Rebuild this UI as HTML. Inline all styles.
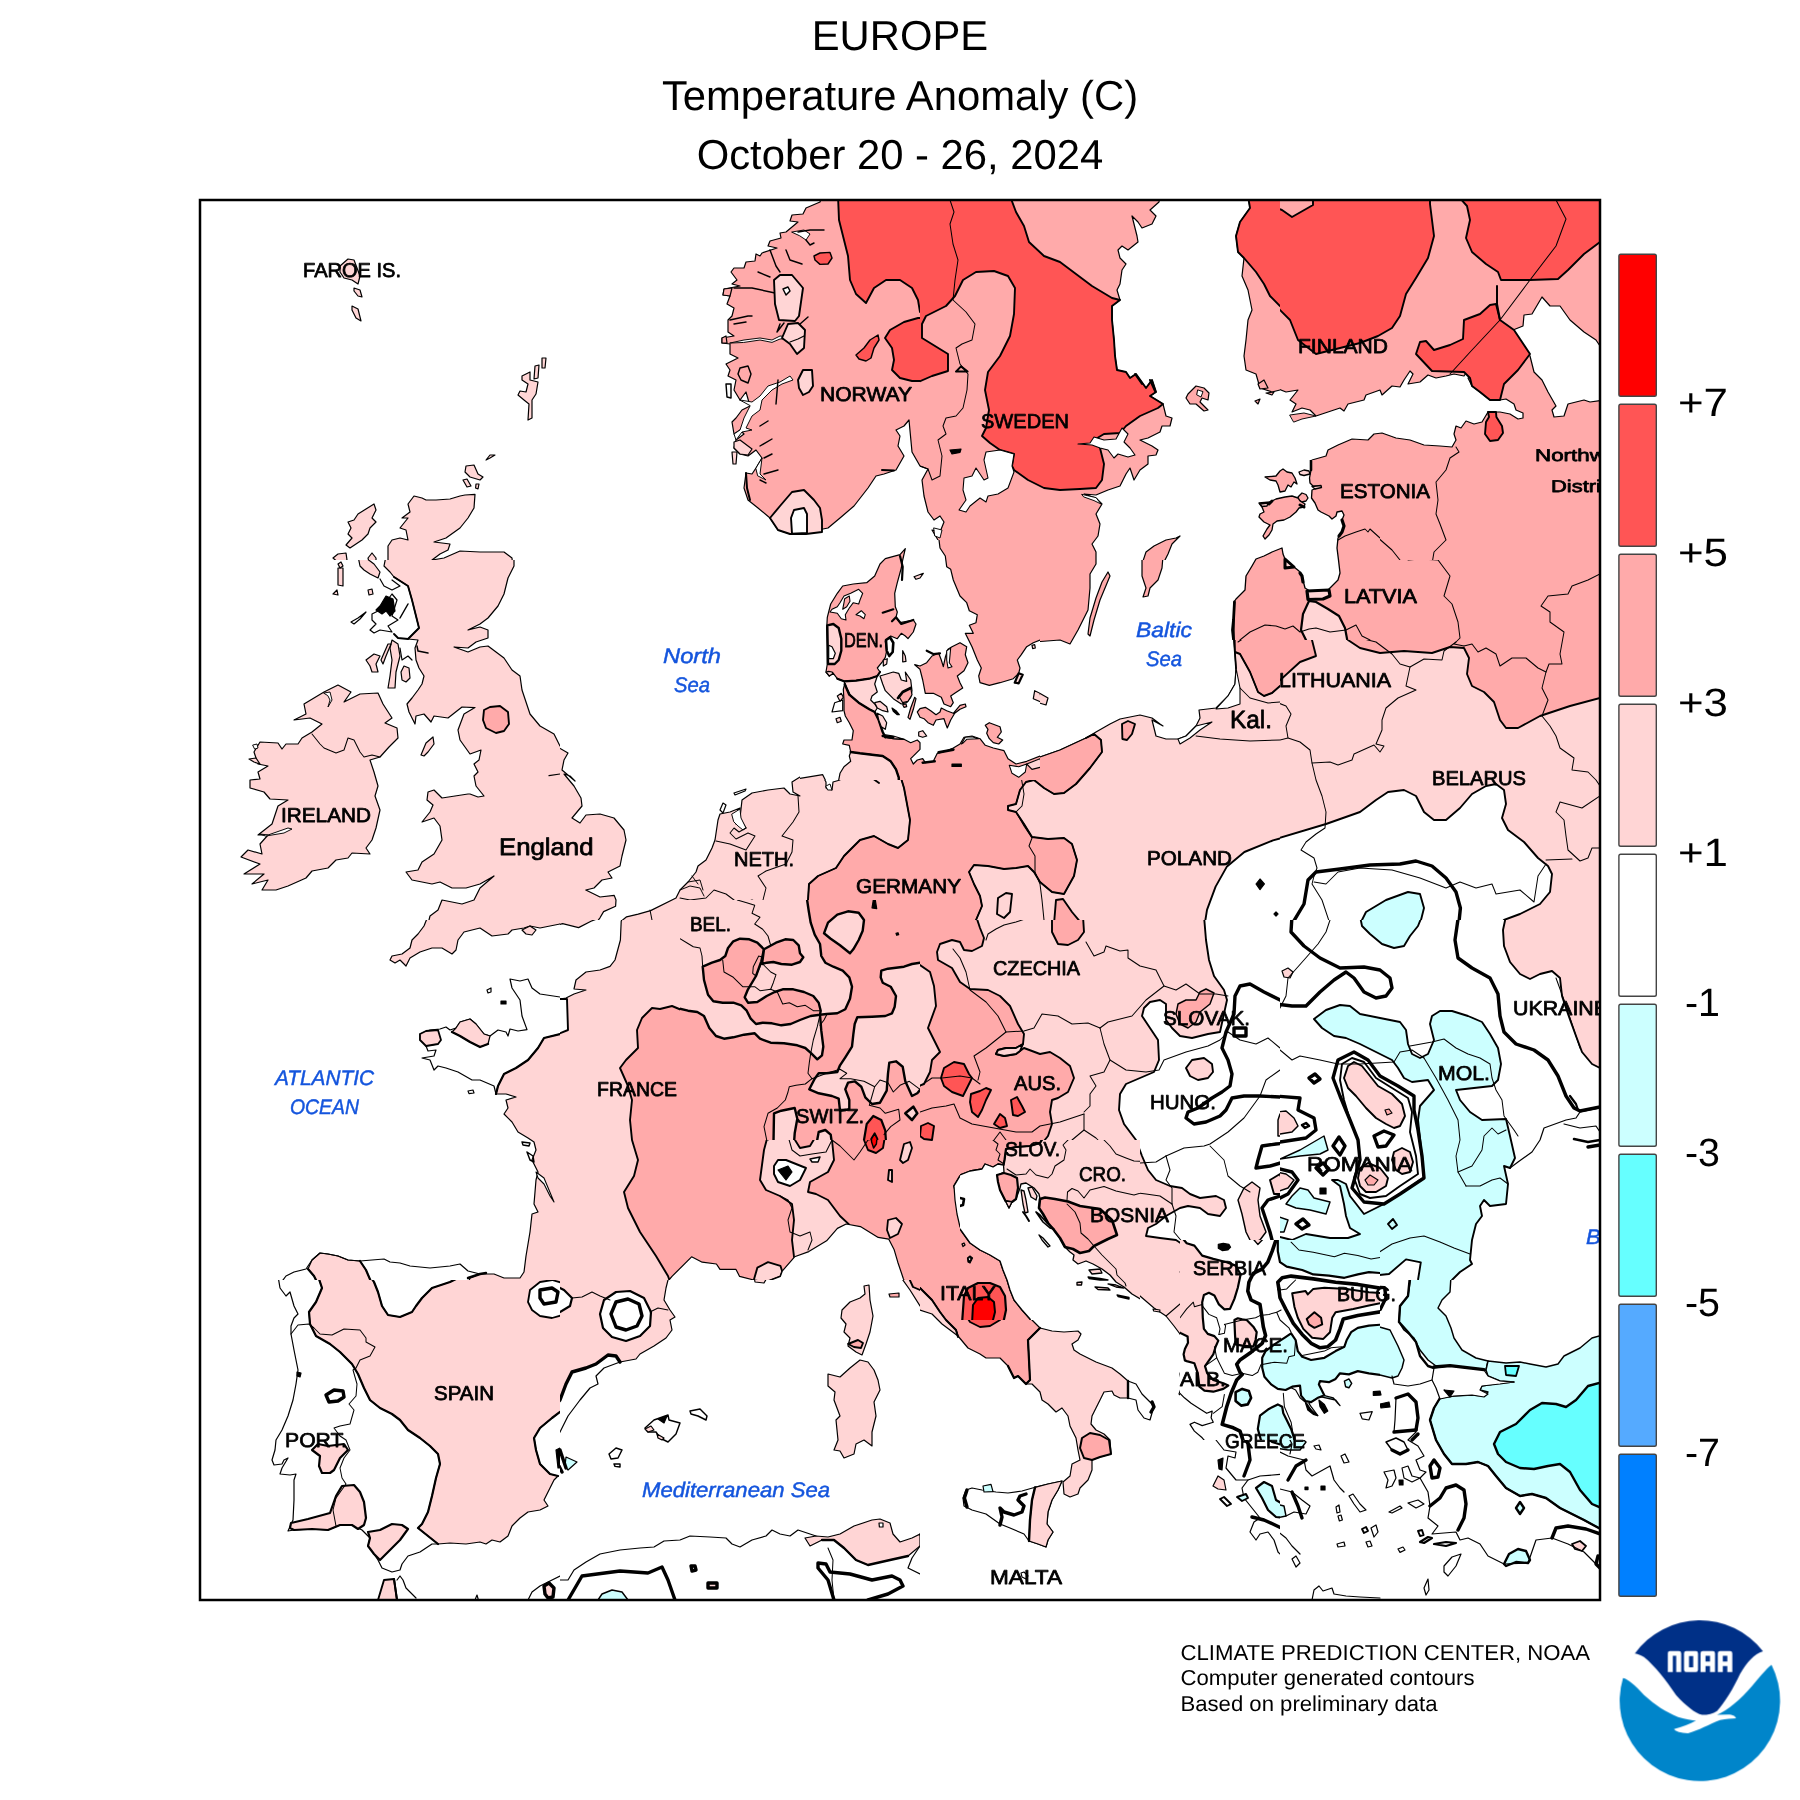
<!DOCTYPE html>
<html><head><meta charset="utf-8"><title>Europe Temperature Anomaly</title>
<style>
html,body{margin:0;padding:0;background:#fff;}
body{width:1800px;height:1800px;overflow:hidden;font-family:"Liberation Sans",sans-serif;}
svg{display:block}
svg text{text-rendering:geometricPrecision}
.t{font-family:"Liberation Sans",sans-serif;fill:#000}
.c{font-family:"Liberation Sans",sans-serif;font-weight:normal;fill:#000;stroke:#000;stroke-width:0.75px;stroke-linejoin:round}
.s{font-family:"Liberation Sans",sans-serif;font-style:italic;font-weight:normal;fill:#1455dd;stroke:#1455dd;stroke-width:0.45px}
.p polygon,.p polyline{stroke-linejoin:round;stroke-linecap:round}
</style></head><body>
<svg xmlns="http://www.w3.org/2000/svg" width="1800" height="1800" viewBox="0 0 1800 1800">
<defs>
<filter id="nf" x="0" y="0" width="100%" height="100%" filterUnits="userSpaceOnUse" color-interpolation-filters="sRGB"><feOffset dx="0" dy="0"/></filter>
<clipPath id="frame"><rect x="200" y="200" width="1400" height="1400"/></clipPath>
<clipPath id="c200_200"><rect x="200" y="200" width="360" height="360"/></clipPath>
<clipPath id="c560_200"><rect x="560" y="200" width="360" height="360"/></clipPath>
<clipPath id="c920_200"><rect x="920" y="200" width="360" height="360"/></clipPath>
<clipPath id="c1280_200"><rect x="1280" y="200" width="360" height="360"/></clipPath>
<clipPath id="c200_560"><rect x="200" y="560" width="360" height="360"/></clipPath>
<clipPath id="c560_560"><rect x="560" y="560" width="360" height="360"/></clipPath>
<clipPath id="c920_560"><rect x="920" y="560" width="360" height="360"/></clipPath>
<clipPath id="c1280_560"><rect x="1280" y="560" width="360" height="360"/></clipPath>
<clipPath id="c200_920"><rect x="200" y="920" width="360" height="360"/></clipPath>
<clipPath id="c560_920"><rect x="560" y="920" width="360" height="360"/></clipPath>
<clipPath id="c920_920"><rect x="920" y="920" width="360" height="360"/></clipPath>
<clipPath id="c1280_920"><rect x="1280" y="920" width="360" height="360"/></clipPath>
<clipPath id="c200_1280"><rect x="200" y="1280" width="360" height="360"/></clipPath>
<clipPath id="c560_1280"><rect x="560" y="1280" width="360" height="360"/></clipPath>
<clipPath id="c920_1280"><rect x="920" y="1280" width="360" height="360"/></clipPath>
<clipPath id="c1280_1280"><rect x="1280" y="1280" width="360" height="360"/></clipPath>
<clipPath id="c800_540"><rect x="800" y="540" width="240" height="240"/></clipPath>
<clipPath id="c680_900"><rect x="680" y="900" width="240" height="240"/></clipPath>
<clipPath id="c1200_460"><rect x="1200" y="460" width="180" height="180"/></clipPath>
<clipPath id="c1180_1240"><rect x="1180" y="1240" width="200" height="200"/></clipPath>
<clipPath id="c960_1140"><rect x="960" y="1140" width="180" height="180"/></clipPath>
</defs>
<rect width="1800" height="1800" fill="#fff"/>
<g filter="url(#nf)"><text class="t" x="900" y="49.7" font-size="41.8" text-anchor="middle">EUROPE</text>
<text class="t" x="900" y="109.8" font-size="41.8" text-anchor="middle">Temperature Anomaly (C)</text>
<text class="t" x="900" y="169" font-size="41.8" text-anchor="middle">October 20 - 26, 2024</text></g>
<g clip-path="url(#frame)" class="p">
<g clip-path="url(#c200_200)">
<polygon points="340.0,266.0 348.0,259.0 354.0,260.0 360.0,276.0 358.0,284.0 352.0,280.0 344.0,278.0 340.0,272.0" fill="#FFD5D5" stroke="#000" stroke-width="1.2"/>
<polygon points="354.0,288.0 360.0,290.0 362.0,297.0 358.0,296.0 354.0,291.0" fill="#FFD5D5" stroke="#000" stroke-width="1.2"/>
<polygon points="352.0,306.0 358.0,309.0 361.0,321.0 356.0,318.0 352.0,310.0" fill="#FFD5D5" stroke="#000" stroke-width="1.2"/>
<polygon points="522.0,376.0 530.0,372.0 530.0,380.0 538.0,382.0 536.0,394.0 532.0,400.0 532.0,418.0 528.0,420.0 529.0,404.0 524.0,400.0 518.0,395.0 520.0,391.0 526.0,392.0 528.0,384.0 522.0,380.0" fill="#FFD5D5" stroke="#000" stroke-width="1.2"/>
<polygon points="535.0,366.0 539.0,365.0 538.0,378.0 534.0,379.0" fill="#FFD5D5" stroke="#000" stroke-width="1.2"/>
<polygon points="542.0,358.0 546.0,358.0 545.0,368.0 542.0,368.0" fill="#FFD5D5" stroke="#000" stroke-width="1.2"/>
<polygon points="466.0,466.0 474.0,465.0 478.0,474.0 483.0,477.0 480.0,480.0 470.0,477.0 465.0,472.0" fill="#FFD5D5" stroke="#000" stroke-width="1.2"/>
<polygon points="463.0,480.0 467.0,479.0 471.0,486.0 467.0,487.0" fill="#FFD5D5" stroke="#000" stroke-width="1.2"/>
<polygon points="476.0,484.0 479.0,484.0 478.0,489.0 475.6,488.0" fill="#FFD5D5" stroke="#000" stroke-width="1.2"/>
<polygon points="486.0,460.0 490.0,455.0 495.0,455.0 490.0,458.0" fill="#FFD5D5" stroke="#000" stroke-width="1.2"/>
<polygon points="348.0,522.0 354.0,520.0 358.0,514.0 366.0,509.0 374.0,504.0 376.0,510.0 372.0,518.0 376.0,522.0 370.0,528.0 368.0,534.0 362.0,540.0 356.0,544.0 350.0,548.0 346.0,545.0 352.0,538.0 348.0,534.0 351.0,528.0" fill="#FFD5D5" stroke="#000" stroke-width="1.2"/>
<polygon points="333.0,558.0 338.0,554.0 346.0,553.0 347.0,560.0 340.0,564.0" fill="#FFD5D5" stroke="#000" stroke-width="1.2"/>
<polygon points="368.0,558.0 372.0,553.0 376.0,558.0 376.0,566.0 370.0,566.0" fill="#FFD5D5" stroke="#000" stroke-width="1.2"/>
<polygon points="388.0,580.0 388.0,546.0 392.0,540.0 400.0,538.0 408.0,540.0 406.0,530.0 400.0,528.0 408.0,518.0 402.0,518.0 410.0,512.0 408.0,504.0 414.0,496.0 422.0,498.0 426.0,500.0 436.0,500.0 450.0,499.0 460.0,496.0 465.0,495.0 475.0,494.4 474.0,508.0 468.0,518.0 460.0,528.0 446.0,538.0 434.0,542.0 450.0,544.0 448.0,550.0 440.0,554.0 432.0,560.0 444.0,558.0 460.0,551.0 480.0,552.0 504.0,552.0 512.0,558.0 514.0,580.0" fill="#FFD5D5" stroke="#000" stroke-width="1.2"/>
</g>
<g clip-path="url(#c560_200)">
<polygon points="822.0,196.0 820.0,202.0 806.0,208.0 803.0,214.0 792.0,215.0 790.0,221.0 798.0,222.0 786.0,232.0 780.0,233.0 781.0,238.0 770.0,241.0 768.0,246.0 777.0,248.0 762.0,253.0 760.0,256.0 756.0,254.0 755.0,261.0 746.0,262.0 744.0,268.0 734.0,268.0 731.0,272.0 737.0,280.0 732.0,284.0 740.0,286.0 724.0,289.0 723.0,295.0 730.0,296.0 727.0,304.0 734.0,308.0 732.0,316.0 728.0,320.0 728.0,332.0 734.0,336.0 722.0,338.0 722.0,343.0 730.0,344.0 730.0,354.0 738.0,358.0 726.0,364.0 730.0,370.0 728.0,376.0 736.0,380.0 734.0,390.0 740.0,400.0 746.0,392.0 750.0,406.0 742.0,410.0 736.0,418.0 732.0,422.0 734.0,434.0 740.0,430.0 744.0,434.0 736.0,440.0 734.0,448.0 740.0,454.0 748.0,456.0 756.0,450.0 762.0,458.0 756.0,468.0 752.0,474.0 746.0,473.0 744.0,488.0 748.0,500.0 758.0,508.0 770.0,518.0 778.0,530.0 790.0,534.0 806.0,533.0 818.0,530.0 828.0,528.0 840.0,518.0 854.0,506.0 868.0,488.0 876.0,476.0 884.0,474.0 896.0,470.0 904.0,456.0 898.0,446.0 900.0,436.0 896.0,430.0 904.0,426.0 909.0,420.0 912.0,452.0 920.0,466.0 940.0,466.0 940.0,196.0" fill="#FFAAAA" stroke="#000" stroke-width="1.2"/>
<polygon points="730.0,343.0 744.0,340.0 760.0,338.0 772.0,340.0 780.0,336.0 800.0,338.0 780.0,339.0 772.0,342.4 760.0,340.0 744.0,342.4" fill="#FFFFFF" stroke="#000" stroke-width="0.96"/>
<polygon points="740.0,400.0 752.0,402.0 760.0,396.0 768.0,386.0 780.0,382.0 790.0,376.0 793.0,380.0 782.0,384.0 772.0,390.0 762.0,400.0 760.0,410.0 752.0,416.0 746.0,428.0 752.0,430.0 742.0,432.0 736.0,440.0 734.0,434.0 740.0,430.0 744.0,418.0 750.0,406.0" fill="#FFFFFF" stroke="#000" stroke-width="0.96"/>
<polygon points="792.0,232.0 804.0,230.0 810.0,234.0 806.0,240.0 800.0,236.0" fill="#FFFFFF" stroke="#000" stroke-width="0.96"/>
<polygon points="756.0,468.0 762.0,458.0 760.0,474.0 766.0,480.0 758.0,476.0" fill="#FFFFFF" stroke="#000" stroke-width="0.96"/>
<polyline points="806.0,240.0 810.0,245.0 814.0,243.0" fill="none" stroke="#000" stroke-width="1.44"/>
<polyline points="798.0,232.0 810.0,230.0 824.0,230.0" fill="none" stroke="#000" stroke-width="1.44"/>
<polyline points="770.0,250.0 776.0,266.0 780.0,272.0" fill="none" stroke="#000" stroke-width="1.44"/>
<polyline points="786.0,250.0 790.0,260.0 802.0,264.0" fill="none" stroke="#000" stroke-width="1.44"/>
<polyline points="758.0,272.0 770.0,277.0" fill="none" stroke="#000" stroke-width="1.44"/>
<polyline points="734.0,288.0 752.0,288.0 775.0,293.0" fill="none" stroke="#000" stroke-width="1.44"/>
<polyline points="734.0,324.0 746.0,322.0" fill="none" stroke="#000" stroke-width="1.44"/>
<polyline points="730.0,320.0 748.0,316.0 752.0,316.0" fill="none" stroke="#000" stroke-width="1.44"/>
<polyline points="778.0,380.0 777.0,392.0 776.0,404.0" fill="none" stroke="#000" stroke-width="1.44"/>
<polyline points="760.0,426.0 768.0,421.0" fill="none" stroke="#000" stroke-width="1.44"/>
<polyline points="760.0,446.0 772.0,439.0" fill="none" stroke="#000" stroke-width="1.44"/>
<polyline points="764.0,458.0 772.0,454.0" fill="none" stroke="#000" stroke-width="1.44"/>
<polyline points="764.0,474.0 778.0,470.0" fill="none" stroke="#000" stroke-width="1.44"/>
<polyline points="760.0,480.0 766.0,483.0" fill="none" stroke="#000" stroke-width="1.44"/>
<polyline points="800.0,324.0 808.0,317.0" fill="none" stroke="#000" stroke-width="1.44"/>
<polyline points="780.0,324.0 777.0,332.0 784.0,323.0" fill="none" stroke="#000" stroke-width="1.44"/>
<polyline points="746.0,473.0 747.0,488.0 750.0,500.0" fill="none" stroke="#000" stroke-width="2"/>
<polyline points="882.0,470.0 894.0,470.4" fill="none" stroke="#000" stroke-width="2"/>
<polygon points="838.0,196.0 839.0,220.0 842.0,232.0 848.0,256.0 850.0,280.0 856.0,294.0 866.0,303.0 874.0,288.0 886.0,280.0 900.0,280.0 912.0,288.0 918.0,300.0 920.0,312.0 940.0,312.0 940.0,196.0" fill="#FF5555" stroke="#000" stroke-width="1.9"/>
<polygon points="940.0,318.0 918.0,318.0 904.0,322.0 890.0,330.0 885.0,338.0 892.0,348.0 894.0,360.0 892.0,370.0 900.0,378.0 912.0,381.0 940.0,381.0" fill="#FF5555" stroke="#000" stroke-width="1.9"/>
<polygon points="814.0,256.0 820.0,253.0 830.0,252.4 832.0,258.0 828.0,264.0 820.0,264.4 815.0,260.0" fill="#FF5555" stroke="#000" stroke-width="1.44"/>
<polygon points="856.0,355.0 864.0,348.0 870.0,340.0 878.0,335.0 879.0,340.0 874.0,348.0 871.0,358.0 866.0,361.0 859.0,359.0" fill="#FF5555" stroke="#000" stroke-width="1.44"/>
<polygon points="774.0,280.0 780.0,275.0 792.0,275.0 803.0,288.0 799.0,316.0 795.0,321.0 779.0,320.0 775.0,304.0" fill="#FFD5D5" stroke="#000" stroke-width="1.9"/>
<polygon points="783.0,289.0 788.0,287.0 790.0,291.0 786.0,295.0" fill="#FFFFFF" stroke="#000" stroke-width="1.44"/>
<polygon points="788.0,324.0 798.0,323.0 805.0,330.0 804.0,348.0 797.0,354.0 790.0,344.0 782.0,338.0" fill="#FFD5D5" stroke="#000" stroke-width="1.9"/>
<polyline points="790.0,342.0 798.0,339.0 804.0,336.0" fill="none" stroke="#000" stroke-width="1.2"/>
<polygon points="798.0,380.0 803.0,370.0 812.0,370.0 813.0,386.0 809.0,392.0 803.0,395.0 799.0,388.0" fill="#FFD5D5" stroke="#000" stroke-width="1.9"/>
<polygon points="770.0,518.0 780.0,506.0 792.0,492.0 804.0,490.0 814.0,500.0 820.0,508.0 822.0,520.0 822.0,532.0 806.0,534.0 790.0,534.0 778.0,530.0" fill="#FFD5D5" stroke="#000" stroke-width="1.9"/>
<polygon points="791.0,518.0 794.0,510.0 804.0,508.0 807.0,514.0 807.0,533.0 792.0,533.6" fill="#FFFFFF" stroke="#000" stroke-width="1.9"/>
<polygon points="734.0,442.0 740.0,440.0 752.0,449.0 748.0,455.0 740.0,454.0 734.0,448.0" fill="#FFD5D5" stroke="#000" stroke-width="1.2"/>
<polygon points="732.0,452.0 737.0,452.0 736.0,464.0 733.0,464.0" fill="#FFD5D5" stroke="#000" stroke-width="1.2"/>
<polygon points="740.0,368.0 748.0,366.0 751.0,374.0 748.0,383.0 741.0,380.0 738.0,374.0" fill="#FFAAAA" stroke="#000" stroke-width="1.44"/>
<polygon points="724.0,289.0 732.0,288.0 730.0,296.0 723.0,295.0" fill="#FFAAAA" stroke="#000" stroke-width="1.2"/>
<polygon points="722.0,338.0 726.0,336.0 727.0,343.0 722.0,343.0" fill="#FFAAAA" stroke="#000" stroke-width="1.2"/>
<polygon points="726.0,384.0 731.0,384.0 731.0,398.0 727.0,397.0" fill="#FFFFFF" stroke="#000" stroke-width="1.44"/>
<polygon points="884.0,560.0 896.0,556.0 905.0,549.0 900.0,558.0 898.0,566.0 884.0,566.0" fill="#FFAAAA" stroke="#000" stroke-width="1.2"/>
</g>
<g clip-path="url(#c920_200)">
<polygon points="1160.0,196.0 1159.0,202.0 1150.0,210.0 1156.0,216.0 1152.0,224.0 1142.0,228.0 1138.0,222.0 1132.0,216.0 1137.0,236.0 1138.0,242.0 1128.0,250.0 1122.0,246.0 1118.0,250.0 1120.0,258.0 1126.0,264.0 1122.0,270.0 1120.0,284.0 1117.0,290.0 1120.0,300.0 1112.0,306.0 1112.0,320.0 1114.0,340.0 1115.0,356.0 1117.0,370.0 1126.0,372.0 1130.0,378.0 1136.0,374.0 1146.0,388.0 1152.0,380.0 1156.0,392.0 1150.0,396.0 1163.0,404.0 1166.0,416.0 1172.0,418.0 1170.0,426.0 1162.0,426.0 1160.0,432.0 1148.0,438.0 1140.0,440.0 1152.0,446.0 1158.0,450.0 1156.0,455.0 1148.0,456.0 1148.0,464.0 1140.0,470.0 1134.0,480.0 1130.0,468.0 1126.0,474.0 1120.0,486.0 1108.0,490.0 1096.0,495.0 1084.0,494.0 1096.0,498.0 1102.0,504.0 1096.0,514.0 1100.0,524.0 1098.0,536.0 1092.0,544.0 1096.0,552.0 1096.0,564.0 946.0,564.0 946.0,560.0 940.0,552.0 938.0,540.0 932.0,530.0 940.0,532.0 944.0,522.0 940.0,516.0 934.0,520.0 928.0,512.0 924.0,496.0 922.0,480.0 928.0,469.0 920.0,466.0 916.0,466.0 916.0,196.0" fill="#FFAAAA" stroke="#000" stroke-width="1.2"/>
<polygon points="1010.0,196.0 1016.0,212.0 1024.0,226.0 1029.0,242.0 1044.0,256.0 1060.0,262.0 1076.0,274.0 1092.0,286.0 1112.0,298.0 1120.0,300.0 1112.0,306.0 1112.0,320.0 1114.0,340.0 1115.0,356.0 1117.0,370.0 1126.0,372.0 1130.0,378.0 1136.0,374.0 1146.0,388.0 1152.0,380.0 1156.0,392.0 1150.0,396.0 1163.0,404.0 1158.0,408.0 1140.0,416.0 1126.0,426.0 1120.0,433.0 1104.0,434.0 1094.0,440.0 1100.0,448.0 1104.0,464.0 1102.0,480.0 1096.0,488.0 1080.0,489.0 1060.0,490.0 1044.0,488.0 1028.0,480.0 1014.0,470.0 1012.0,466.0 1014.0,454.0 1000.0,450.0 990.0,443.0 982.0,436.0 986.0,428.0 989.0,410.0 985.0,390.0 988.0,372.0 1000.0,356.0 1010.0,336.0 1014.0,314.0 1015.0,288.0 1008.0,276.0 994.0,271.0 976.0,272.0 963.0,280.0 955.0,296.0 946.0,306.0 926.0,316.0 922.0,324.0 922.0,338.0 948.0,354.0 948.0,371.0 932.0,376.0 916.0,383.0 916.0,196.0" fill="#FF5555" stroke="#000" stroke-width="1.9"/>
<polygon points="1078.0,444.0 1090.0,443.0 1094.0,437.0 1104.0,440.0 1116.0,439.0 1122.0,428.0 1128.0,434.0 1124.0,442.0 1130.0,448.0 1135.0,455.0 1128.0,457.0 1118.0,454.0 1114.0,458.0 1108.0,450.0 1100.0,448.0 1092.0,445.0" fill="#FFFFFF" stroke="#000" stroke-width="1.08"/>
<polygon points="986.0,452.0 1000.0,450.0 1014.0,454.0 1012.0,466.0 1014.0,472.0 1008.0,488.0 998.0,494.0 988.0,496.0 986.0,502.0 980.0,498.0 970.0,506.0 966.0,512.0 959.0,510.0 966.0,500.0 963.0,490.0 964.0,478.0 972.0,476.0 976.0,468.0 984.0,480.0 988.0,478.0 984.0,460.0" fill="#FFFFFF" stroke="#000" stroke-width="1.08"/>
<polygon points="1082.0,494.4 1096.0,497.6 1101.0,504.0 1094.0,500.6 1084.0,497.0" fill="#FFFFFF" stroke="#000" stroke-width="0.96"/>
<polygon points="934.0,528.0 942.0,530.0 940.0,538.0 935.0,536.0" fill="#FFFFFF" stroke="#000" stroke-width="0.96"/>
<polygon points="1248.0,196.0 1250.0,208.0 1240.0,222.0 1236.0,236.0 1238.0,252.0 1244.0,258.0 1242.0,276.0 1248.0,290.0 1252.0,310.0 1248.0,320.0 1246.0,340.0 1244.0,356.0 1246.0,370.0 1256.0,374.0 1260.0,388.0 1272.0,392.0 1280.0,390.0 1300.0,390.0 1300.0,196.0" fill="#FFAAAA" stroke="#000" stroke-width="1.2"/>
<polygon points="1248.0,196.0 1250.0,208.0 1240.0,222.0 1236.0,236.0 1238.0,252.0 1244.0,258.0 1256.0,272.0 1264.0,284.0 1270.0,296.0 1280.0,306.0 1300.0,320.0 1300.0,196.0" fill="#FF5555" stroke="#000" stroke-width="1.9"/>
<polygon points="1188.0,394.0 1196.0,386.0 1204.0,388.0 1209.0,393.0 1208.0,400.0 1202.0,398.0 1200.0,402.0 1208.0,410.0 1204.0,411.0 1196.0,404.0 1190.0,404.0 1186.0,398.0" fill="#FFAAAA" stroke="#000" stroke-width="1.2"/>
<polygon points="1198.0,390.0 1203.0,391.6 1201.0,397.0 1197.0,395.0" fill="#FFFFFF" stroke="#000" stroke-width="0.96"/>
<polygon points="1258.0,384.0 1264.0,380.0 1268.0,388.0 1260.0,389.0" fill="#FFAAAA" stroke="#000" stroke-width="1.2"/>
<polygon points="1266.0,393.0 1274.0,392.0 1272.0,395.0" fill="#FFAAAA" stroke="#000" stroke-width="1.2"/>
<polygon points="1255.0,401.0 1260.0,399.0 1258.0,404.0" fill="#FFAAAA" stroke="#000" stroke-width="1.2"/>
<polygon points="1280.0,496.0 1272.0,500.0 1268.0,506.0 1260.0,504.0 1264.0,512.0 1260.0,518.0 1268.0,524.0 1272.0,528.0 1268.0,536.0 1264.0,540.0 1268.0,544.0 1276.0,528.0 1284.0,520.0 1300.0,520.0 1300.0,496.0" fill="#FFAAAA" stroke="#000" stroke-width="1.2"/>
<polygon points="1266.0,478.0 1280.0,476.0 1284.0,484.0 1276.0,482.0" fill="#FFAAAA" stroke="#000" stroke-width="1.2"/>
<polygon points="1142.0,564.0 1146.0,552.0 1154.0,546.0 1166.0,540.0 1176.0,538.0 1180.0,536.0 1172.0,544.0 1168.0,554.0 1163.0,564.0" fill="#FFAAAA" stroke="#000" stroke-width="1.2"/>
<polygon points="1256.0,564.0 1264.0,558.0 1280.0,550.0 1300.0,550.0 1300.0,564.0" fill="#FFAAAA" stroke="#000" stroke-width="1.2"/>
<polyline points="950.0,200.0 954.0,212.0 950.0,224.0 953.0,244.0 958.0,260.0 955.0,280.0 953.0,300.0 966.0,312.0 975.0,324.0 972.0,340.0 962.0,344.0 956.0,348.0 960.0,364.0 968.0,374.0 967.0,390.0 963.0,408.0 956.0,416.0 946.0,418.0 943.0,426.0 946.0,434.0 938.0,440.0 942.0,456.0 940.0,476.0 932.0,480.0 928.0,469.0 920.0,466.0" fill="none" stroke="#000" stroke-width="1.02"/>
<polyline points="956.0,371.6 961.0,366.4 967.6,371.6 956.0,371.6" fill="none" stroke="#000" stroke-width="2"/>
<polygon points="950.0,450.0 961.0,449.0 960.0,452.4 952.0,454.0" fill="#000" stroke="#000" stroke-width="1.2"/>
<polyline points="1135.0,374.0 1142.0,384.0" fill="none" stroke="#000" stroke-width="2"/>
<polyline points="1150.0,380.0 1155.0,391.0" fill="none" stroke="#000" stroke-width="2"/>
</g>
<g clip-path="url(#c1280_200)">
<rect x="1279" y="199" width="362" height="362" fill="#FFAAAA"/>
<polygon points="1276.0,388.0 1286.0,392.0 1298.0,390.0 1290.0,400.0 1296.0,404.0 1292.0,412.0 1302.0,408.0 1310.0,410.0 1316.0,416.0 1340.0,408.0 1344.0,411.0 1348.0,404.0 1364.0,400.0 1366.0,395.0 1380.0,390.0 1382.0,395.0 1392.0,386.0 1400.0,387.0 1404.0,380.0 1410.0,371.0 1413.0,374.0 1408.0,384.0 1420.0,382.0 1428.0,375.0 1436.0,378.0 1446.0,376.0 1454.0,374.0 1464.0,376.0 1468.0,370.0 1476.0,366.0 1474.0,376.0 1468.0,378.0 1472.0,386.0 1480.0,392.0 1490.0,400.0 1500.0,400.0 1506.0,399.0 1514.0,404.0 1516.0,410.0 1523.0,413.0 1523.0,418.0 1518.0,419.0 1510.0,414.0 1500.0,412.0 1488.0,412.0 1482.0,422.0 1474.0,424.0 1466.0,421.0 1461.0,428.0 1456.0,426.0 1454.0,434.0 1456.0,440.0 1452.0,447.0 1440.0,446.0 1424.0,445.0 1410.0,440.0 1396.0,438.0 1382.0,433.0 1374.0,434.0 1368.0,440.0 1352.0,439.0 1338.0,445.0 1328.0,450.0 1326.0,456.0 1312.0,460.0 1311.0,484.0 1322.0,486.0 1312.0,490.0 1314.0,504.0 1320.0,512.0 1336.0,514.0 1340.0,511.0 1344.0,520.0 1340.0,536.0 1337.0,548.0 1338.0,564.0 1276.0,564.0" fill="#FFFFFF" stroke="#000" stroke-width="1.2"/>
<polygon points="1276.0,468.0 1288.0,470.0 1296.0,480.0 1292.0,486.0 1284.0,482.0 1276.0,484.0" fill="#FFAAAA" stroke="#000" stroke-width="1.2"/>
<polygon points="1276.0,496.0 1300.0,494.0 1308.0,500.0 1302.0,506.0 1306.0,514.0 1292.0,508.0 1276.0,518.0" fill="#FFAAAA" stroke="#000" stroke-width="1.2"/>
<polygon points="1300.0,472.0 1310.0,471.0 1312.0,475.0 1302.0,476.0" fill="#FFAAAA" stroke="#000" stroke-width="0.96"/>
<polygon points="1290.0,415.0 1304.0,413.0 1316.0,416.0 1302.0,419.0 1294.0,422.0" fill="#FFAAAA" stroke="#000" stroke-width="0.96"/>
<polygon points="1513.0,330.0 1523.0,326.0 1524.0,315.0 1532.0,314.0 1542.0,297.0 1550.0,306.0 1560.0,306.0 1570.0,320.0 1584.0,332.0 1596.0,340.0 1604.0,352.0 1604.0,400.0 1590.0,402.0 1584.0,400.0 1568.0,404.0 1564.0,416.0 1554.0,417.0 1552.0,410.0 1556.0,406.0 1548.0,392.0 1542.0,380.0 1534.0,372.0 1530.0,356.0 1523.0,344.0" fill="#FFFFFF" stroke="#000" stroke-width="1.2"/>
<polygon points="1276.0,208.0 1282.0,210.0 1292.0,217.0 1313.0,205.0 1313.0,196.0 1430.0,196.0 1430.0,204.0 1434.0,236.0 1428.0,258.0 1416.0,278.0 1406.0,294.0 1400.0,316.0 1392.0,328.0 1378.0,336.0 1360.0,343.0 1340.0,348.0 1316.0,354.0 1298.0,340.0 1290.0,320.0 1276.0,306.0" fill="#FF5555" stroke="#000" stroke-width="1.9"/>
<polygon points="1458.0,196.0 1467.0,206.0 1470.0,220.0 1466.0,238.0 1472.0,252.0 1486.0,264.0 1498.0,272.0 1501.0,280.0 1530.0,280.0 1558.0,279.0 1568.0,270.0 1584.0,254.0 1600.0,242.0 1620.0,242.0 1620.0,196.0" fill="#FF5555" stroke="#000" stroke-width="1.9"/>
<polygon points="1420.0,342.0 1426.0,341.0 1434.0,350.0 1450.0,345.0 1463.0,339.0 1464.0,320.0 1480.0,314.0 1490.0,305.0 1496.0,304.0 1500.0,320.0 1514.0,330.0 1530.0,354.0 1518.0,370.0 1504.0,384.0 1500.0,400.0 1490.0,400.0 1480.0,392.0 1472.0,386.0 1470.0,378.0 1464.0,372.0 1432.0,371.0 1416.0,354.0" fill="#FF5555" stroke="#000" stroke-width="1.9"/>
<polygon points="1488.0,412.0 1496.0,412.0 1496.4,417.0 1502.0,426.0 1503.0,433.0 1498.0,440.0 1490.0,441.0 1485.0,434.0 1486.0,422.0 1489.0,417.0" fill="#FF5555" stroke="#000" stroke-width="1.9"/>
<polyline points="1497.0,286.0 1497.0,304.0 1500.0,320.0" fill="none" stroke="#000" stroke-width="2"/>
<polyline points="1556.0,200.0 1566.0,219.0 1556.0,246.0 1530.0,280.0 1500.0,320.0 1472.0,350.0 1450.0,374.0" fill="none" stroke="#000" stroke-width="1.02"/>
<polyline points="1456.0,447.0 1459.0,452.0 1450.0,458.0 1446.0,470.0 1436.0,482.0 1438.0,500.0 1436.0,514.0 1440.0,524.0 1446.0,540.0 1434.0,552.0 1432.0,564.0" fill="none" stroke="#000" stroke-width="1.02"/>
<polyline points="1338.0,540.0 1350.0,536.0 1366.0,530.0 1376.0,536.0 1392.0,550.0 1400.0,560.0" fill="none" stroke="#000" stroke-width="1.02"/>
</g>
<g clip-path="url(#c200_560)">
<polygon points="294.0,720.0 306.0,714.0 304.0,704.0 324.0,692.0 338.0,685.0 351.0,692.0 344.0,702.0 360.0,694.0 378.0,693.0 383.0,704.0 392.0,718.0 385.0,723.0 397.0,728.0 398.0,738.0 389.0,747.0 380.0,757.0 370.0,760.0 374.0,772.0 378.0,786.0 375.0,796.0 380.0,810.0 376.0,828.0 372.0,840.0 366.0,848.0 370.0,854.0 352.0,853.0 348.0,858.0 336.0,860.0 328.0,868.0 312.0,871.0 306.0,878.0 288.0,886.0 276.0,890.0 262.0,890.0 268.0,880.0 252.0,884.0 264.0,874.0 244.0,874.0 260.0,864.0 241.0,857.0 248.0,850.0 262.0,854.0 260.0,844.0 268.0,835.0 258.0,835.0 272.0,824.0 278.0,806.0 288.0,800.0 270.0,799.0 264.0,792.0 250.0,788.0 250.0,780.0 260.0,779.0 258.0,772.0 268.0,766.0 258.0,764.0 254.0,752.0 260.0,742.0 278.0,743.0 282.0,749.0 286.0,744.0 298.0,744.0 302.0,738.0 312.0,732.0 322.0,724.0 310.0,718.0" fill="#FFD5D5" stroke="#000" stroke-width="1.2"/>
<polygon points="324.0,693.0 330.0,692.0 332.0,700.0 328.0,707.0 330.0,700.0 328.0,696.0" fill="#FFFFFF" stroke="#000" stroke-width="0.96"/>
<polygon points="260.0,834.0 268.0,835.0 288.0,828.0 292.0,829.0 284.0,833.0 266.0,836.0" fill="#FFFFFF" stroke="#000" stroke-width="0.96"/>
<polyline points="312.0,734.0 320.0,744.0 324.0,748.0 336.0,753.0 344.0,750.0 348.0,738.0 354.0,740.0 360.0,752.0 364.0,757.0 372.0,755.0 380.0,757.0" fill="none" stroke="#000" stroke-width="1.02"/>
<polygon points="386.0,556.0 384.0,566.0 390.0,572.0 394.0,577.0 408.0,586.0 412.0,600.0 419.0,628.0 408.0,639.0 418.0,640.0 415.0,648.0 416.0,660.0 419.0,668.0 424.0,676.0 422.0,684.0 418.0,690.0 412.0,698.0 407.0,704.0 409.0,712.0 415.0,724.0 416.0,716.0 424.0,714.0 431.0,722.0 434.0,716.0 448.0,718.0 462.0,707.0 475.0,707.6 464.0,714.0 458.0,730.0 460.0,740.0 470.0,754.0 481.0,750.0 479.0,760.0 474.0,764.0 478.0,772.0 474.0,776.0 476.0,786.0 484.0,796.0 478.0,797.0 470.0,794.0 468.0,794.0 442.0,798.0 434.0,790.0 428.0,792.0 427.0,800.0 433.0,805.0 430.0,812.0 422.0,822.0 434.0,818.0 440.0,826.0 442.0,840.0 434.0,854.0 422.0,862.0 418.0,870.0 406.0,872.0 412.0,880.0 432.0,884.0 440.0,882.0 452.0,888.0 466.0,888.0 480.0,884.0 494.0,876.0 480.0,888.0 474.0,900.0 462.0,904.0 442.0,900.0 438.0,910.0 430.0,916.0 428.0,924.0 580.0,924.0 580.0,752.0 560.0,746.0 554.0,734.0 540.0,726.0 530.0,714.0 522.0,690.0 520.0,676.0 512.0,670.0 504.0,658.0 488.0,646.0 480.0,647.0 468.0,652.0 454.0,647.0 468.0,648.0 476.0,642.0 488.0,638.0 488.0,630.0 480.0,627.0 468.0,630.0 480.0,624.0 488.0,618.0 498.0,606.0 504.0,594.0 508.0,578.0 514.0,566.0 514.0,556.0" fill="#FFD5D5" stroke="#000" stroke-width="1.2"/>
<polyline points="394.0,577.0 408.0,586.0 412.0,600.0 419.0,628.0 408.0,639.0 398.0,638.0 394.0,634.0" fill="none" stroke="#000" stroke-width="1.9"/>
<polygon points="392.0,640.0 398.0,644.0 400.0,656.0 396.0,672.0 395.0,688.0 388.0,688.0 390.0,676.0 392.0,660.0 390.0,648.0" fill="#FFD5D5" stroke="#000" stroke-width="1.2"/>
<polygon points="366.0,660.0 374.0,654.0 380.0,656.0 376.0,664.0 378.0,672.0 372.0,672.0 370.0,666.0" fill="#FFD5D5" stroke="#000" stroke-width="1.2"/>
<polygon points="381.0,660.0 388.0,644.0 391.0,644.0 386.0,656.0 383.0,664.0" fill="#FFD5D5" stroke="#000" stroke-width="1.2"/>
<polygon points="401.0,672.0 404.0,666.0 409.0,668.0 410.0,678.0 406.0,682.0 402.0,680.0" fill="#FFD5D5" stroke="#000" stroke-width="1.2"/>
<polygon points="421.0,755.0 426.0,743.0 433.0,737.0 434.0,744.0 428.0,752.0 424.0,756.0" fill="#FFD5D5" stroke="#000" stroke-width="1.2"/>
<polygon points="358.0,556.0 366.0,558.0 374.0,564.0 380.0,572.0 378.0,578.0 370.0,574.0 364.0,570.0 360.0,566.0" fill="#FFD5D5" stroke="#000" stroke-width="1.2"/>
<polygon points="338.0,568.0 343.0,568.0 343.0,586.0 338.0,585.0" fill="#FFD5D5" stroke="#000" stroke-width="1.2"/>
<polygon points="338.0,564.0 341.0,562.0 343.0,566.0 340.0,568.0" fill="#FFD5D5" stroke="#000" stroke-width="1.2"/>
<polygon points="333.0,594.0 337.0,590.0 338.0,595.0" fill="#FFD5D5" stroke="#000" stroke-width="1.2"/>
<polygon points="368.0,590.0 372.0,589.0 373.0,594.0 369.0,595.0" fill="#FFD5D5" stroke="#000" stroke-width="1.2"/>
<polygon points="351.0,622.0 358.0,618.0 366.0,612.0 360.0,619.0 354.0,624.0" fill="#FFFFFF" stroke="#000" stroke-width="1.2"/>
<polygon points="372.0,614.0 380.0,610.0 392.0,594.0 397.0,600.0 392.0,616.0 398.0,620.0 388.0,626.0 392.0,632.0 380.0,630.0 374.0,633.0 370.0,630.0 376.0,624.0 372.0,620.0" fill="#FFFFFF" stroke="#000" stroke-width="1.2"/>
<polygon points="380.0,606.0 386.0,596.0 393.0,599.0 395.0,611.0 390.0,616.0 386.0,611.0 382.0,614.0 376.0,610.0" fill="#000" stroke="#000" stroke-width="1.2"/>
<polyline points="380.0,579.0 384.0,586.0 392.0,590.0 400.0,586.0 392.0,580.0" fill="none" stroke="#000" stroke-width="1.2"/>
<polyline points="400.0,618.0 408.0,604.0" fill="none" stroke="#000" stroke-width="1.5"/>
<polyline points="400.0,648.0 402.0,660.0 408.0,656.0 412.0,660.0" fill="none" stroke="#000" stroke-width="1.2"/>
<polyline points="417.0,646.0 418.0,651.0 428.0,653.0" fill="none" stroke="#000" stroke-width="1.44"/>
<polygon points="484.0,710.0 490.0,707.0 500.0,706.0 508.0,712.0 509.0,724.0 504.0,731.0 496.0,733.0 486.0,728.0 483.0,720.0" fill="#FFAAAA" stroke="#000" stroke-width="1.9"/>
<polyline points="549.0,775.6 560.0,774.0" fill="none" stroke="#000" stroke-width="1.2"/>
<polygon points="253.0,745.0 257.0,744.0 258.0,748.0 255.0,749.0" fill="#FFFFFF" stroke="#000" stroke-width="0.96"/>
<polygon points="249.0,759.0 256.0,758.0 260.0,764.0 254.0,762.0" fill="#FFD5D5" stroke="#000" stroke-width="1.2"/>
</g>
<g clip-path="url(#c560_560)">
<polygon points="556.0,746.0 568.0,753.0 564.0,760.0 562.0,770.0 575.0,781.0 570.0,776.0 564.0,774.0 574.0,786.0 581.0,798.0 582.0,806.0 572.0,818.0 580.0,823.0 586.0,815.0 600.0,814.0 614.0,818.0 624.0,830.0 626.0,840.0 622.0,856.0 620.0,866.0 608.0,872.0 612.0,878.0 602.0,880.0 594.0,888.0 585.8,890.0 600.0,897.0 614.2,895.4 616.0,900.0 615.6,906.2 603.6,911.6 600.0,917.8 594.0,926.0 556.0,926.0" fill="#FFD5D5" stroke="#000" stroke-width="1.2"/>
<polygon points="620.0,926.0 621.2,921.2 626.6,916.8 638.2,914.2 650.6,910.6 676.0,898.0 680.0,890.0 688.0,882.0 696.0,872.0 698.0,866.0 706.0,860.0 712.0,848.0 715.0,840.0 718.0,820.0 720.0,814.0 730.0,812.0 740.0,808.0 734.0,816.0 736.0,824.0 746.0,828.0 740.0,818.0 742.0,800.0 752.0,793.0 768.0,790.0 784.0,788.0 790.0,794.0 800.0,796.0 793.0,792.0 792.0,782.0 800.0,777.0 812.0,775.0 822.0,775.0 826.0,782.0 826.0,788.0 832.0,790.0 833.0,782.0 840.0,780.0 838.0,772.0 844.0,766.0 854.0,768.0 850.0,760.0 850.0,758.0 856.0,752.0 848.0,746.0 843.0,742.0 844.0,738.0 852.0,736.0 851.0,728.0 846.0,722.0 843.0,712.0 844.0,700.0 843.0,688.0 844.0,682.0 836.0,680.0 830.0,676.0 827.0,672.0 829.0,652.0 827.0,640.0 828.0,618.0 836.0,596.0 842.0,586.0 856.0,584.0 872.0,576.0 884.0,560.0 900.0,556.0 902.0,568.0 898.0,582.0 896.0,594.0 896.0,608.0 890.0,612.0 898.0,616.0 898.0,624.0 916.0,622.0 912.0,628.0 904.0,634.0 896.0,636.0 892.0,644.0 888.0,660.0 878.0,670.0 876.0,674.0 880.0,678.0 874.0,684.0 876.0,692.0 872.0,704.0 875.0,712.0 884.0,720.0 888.0,730.0 900.0,736.0 920.0,740.0 920.0,752.0 912.0,758.0 916.0,762.0 920.0,760.0 940.0,760.0 940.0,924.0" fill="#FFD5D5" stroke="#000" stroke-width="1.2"/>
<polygon points="827.0,672.0 829.0,652.0 827.0,640.0 828.0,618.0 836.0,596.0 842.0,586.0 856.0,584.0 872.0,576.0 884.0,560.0 900.0,556.0 902.0,568.0 898.0,582.0 896.0,594.0 896.0,608.0 890.0,612.0 898.0,616.0 898.0,624.0 916.0,622.0 912.0,628.0 904.0,634.0 896.0,636.0 892.0,644.0 888.0,660.0 878.0,670.0 876.0,674.0 860.0,680.0 844.0,682.0 836.0,680.0 830.0,676.0" fill="#FFAAAA" stroke="#000" stroke-width="1.2"/>
<polyline points="844.0,682.0 860.0,680.0 876.0,674.0" fill="none" stroke="#000" stroke-width="1.9"/>
<polygon points="844.0,688.0 856.0,700.0 872.0,710.0 875.0,712.0 884.0,720.0 888.0,730.0 900.0,736.0 920.0,740.0 920.0,752.0 912.0,758.0 916.0,762.0 920.0,760.0 940.0,760.0 940.0,924.0 810.0,924.0 808.0,900.0 809.0,884.0 818.0,876.0 836.0,868.0 844.0,856.0 860.0,840.0 874.0,836.0 888.0,844.0 898.0,848.0 908.0,840.0 910.0,820.0 904.0,788.0 898.0,768.0 888.0,758.0 872.0,755.0 854.0,758.0 850.0,758.0 856.0,752.0 848.0,746.0 843.0,742.0 844.0,738.0 852.0,736.0 851.0,728.0 846.0,722.0 843.0,712.0 844.0,700.0" fill="#FFAAAA" stroke="#000" stroke-width="1.2"/>
<polyline points="844.0,688.0 856.0,700.0 872.0,710.0 878.0,720.0" fill="none" stroke="#000" stroke-width="1.9"/>
<polyline points="854.0,758.0 872.0,755.0 888.0,758.0 898.0,768.0 904.0,788.0 910.0,820.0 908.0,840.0 898.0,848.0 888.0,844.0 874.0,836.0 860.0,840.0 844.0,856.0 836.0,868.0 818.0,876.0 809.0,884.0 808.0,900.0 810.0,924.0" fill="none" stroke="#000" stroke-width="1.9"/>
<polyline points="854.0,760.0 866.0,770.0 872.0,778.0 879.0,783.0" fill="none" stroke="#000" stroke-width="1.9"/>
<polygon points="832.0,924.0 836.0,918.0 844.0,914.0 856.0,913.0 862.0,917.0 860.0,924.0" fill="#FFD5D5" stroke="#000" stroke-width="1.9"/>
<polygon points="828.0,620.0 834.0,622.0 840.0,630.0 842.0,644.0 840.0,658.0 834.0,664.0 828.0,666.0" fill="#FFD5D5" stroke="#000" stroke-width="1.9"/>
<polygon points="829.0,644.0 833.0,646.0 835.0,652.0 832.0,658.0 828.6,658.0" fill="#FFFFFF" stroke="#000" stroke-width="1.2"/>
<polygon points="848.0,594.0 858.0,590.0 862.0,596.0 856.0,600.0 850.0,599.0" fill="#FFFFFF" stroke="#000" stroke-width="0.96"/>
<polygon points="830.0,612.0 840.0,610.0 846.0,616.0 840.0,620.0 832.0,618.0" fill="#FFFFFF" stroke="#000" stroke-width="0.96"/>
<polygon points="856.0,612.0 864.0,610.0 865.0,618.0 860.0,615.0" fill="#FFFFFF" stroke="#000" stroke-width="0.96"/>
<polygon points="840.0,598.0 846.0,596.0 848.0,606.0 842.0,610.0 838.0,608.0" fill="#FFFFFF" stroke="#000" stroke-width="0.96"/>
<polyline points="882.0,612.0 896.0,608.0" fill="none" stroke="#000" stroke-width="1.9"/>
<polyline points="898.0,624.0 900.0,620.0 912.0,620.0" fill="none" stroke="#000" stroke-width="1.9"/>
<polygon points="880.0,678.0 890.0,674.0 900.0,672.0 908.0,674.0 911.0,684.0 906.0,692.0 900.0,698.0 890.0,704.0 880.0,708.0 872.0,704.0 876.0,692.0 874.0,684.0" fill="#FFD5D5" stroke="#000" stroke-width="1.2"/>
<polygon points="876.0,680.0 882.0,688.0 878.0,698.0 872.0,700.0 874.0,690.0" fill="#FFFFFF" stroke="#000" stroke-width="0.96"/>
<polygon points="898.0,692.0 908.0,688.0 912.0,690.0 910.0,700.0 902.0,704.0 898.0,700.0" fill="#FFAAAA" stroke="#000" stroke-width="1.9"/>
<polygon points="885.0,640.0 890.0,638.0 893.0,646.0 890.0,656.0 886.0,652.0" fill="#FFFFFF" stroke="#000" stroke-width="1.8"/>
<polygon points="914.0,575.0 920.0,573.0 922.0,579.0 915.0,579.0" fill="#FFAAAA" stroke="#000" stroke-width="1.2"/>
<polygon points="878.0,706.0 886.0,704.0 888.0,710.0 882.0,713.0" fill="#FFD5D5" stroke="#000" stroke-width="1.2"/>
<polygon points="908.0,704.0 914.0,696.0 916.0,700.0 911.0,712.0" fill="#FFAAAA" stroke="#000" stroke-width="1.2"/>
<polygon points="884.0,732.0 900.0,737.0 920.0,741.0 920.0,736.0 900.0,732.0 888.0,729.0" fill="#FFD5D5" stroke="#000" stroke-width="1.2"/>
<polygon points="910.0,754.0 920.0,748.0 922.0,760.0 914.0,762.0" fill="#FFFFFF" stroke="#000" stroke-width="0.96"/>
<polygon points="734.0,793.0 746.0,789.0 745.0,791.0 735.0,795.0" fill="#FFFFFF" stroke="#000" stroke-width="1.2"/>
<polygon points="720.0,810.0 723.0,803.0 726.0,805.0 723.0,813.0" fill="#FFFFFF" stroke="#000" stroke-width="1.2"/>
<polygon points="732.0,814.0 740.0,809.0 741.0,818.0 746.0,828.0 743.0,830.0 738.0,826.0 734.0,822.0" fill="#FFFFFF" stroke="#000" stroke-width="0.96"/>
<polygon points="832.0,704.0 842.0,698.0 843.0,704.0 836.0,708.0 833.0,718.0 831.0,714.0" fill="#FFFFFF" stroke="#000" stroke-width="1.2"/>
<polygon points="836.0,720.0 841.0,719.0 840.0,722.0" fill="#FFFFFF" stroke="#000" stroke-width="1.2"/>
<polygon points="826.0,786.0 830.0,784.0 832.0,790.0 828.0,790.0" fill="#FFFFFF" stroke="#000" stroke-width="0.96"/>
<polyline points="680.0,890.0 690.0,886.0 700.0,888.0 704.0,896.0" fill="none" stroke="#000" stroke-width="0.96"/>
<polyline points="688.0,882.0 700.0,880.0 703.0,890.0" fill="none" stroke="#000" stroke-width="0.96"/>
<polyline points="692.0,876.0 698.0,884.0" fill="none" stroke="#000" stroke-width="0.96"/>
<polyline points="716.0,841.0 730.0,844.0 746.0,850.0 755.0,836.0 748.0,833.0 736.0,839.0 730.0,833.0 734.0,828.0 739.0,832.0 746.0,828.0" fill="none" stroke="#000" stroke-width="1.02"/>
<polyline points="798.0,796.0 799.0,812.0 793.0,822.0 782.0,836.0 793.0,840.0 792.0,852.0 786.0,864.0 766.0,871.0 758.0,876.0 766.0,888.0 762.0,904.0 758.0,920.0" fill="none" stroke="#000" stroke-width="1.02"/>
<polyline points="680.0,898.0 690.0,900.0 706.0,898.0 714.0,890.0 726.0,894.0 734.0,900.0 740.0,904.0 752.0,900.0 762.0,904.0" fill="none" stroke="#000" stroke-width="1.02"/>
<polyline points="650.0,910.0 652.0,920.0" fill="none" stroke="#000" stroke-width="1.02"/>
<polyline points="844.0,688.0 848.0,700.0 860.0,706.0 872.0,710.0" fill="none" stroke="#000" stroke-width="1.02"/>
</g>
<g clip-path="url(#c920_560)">
<polygon points="916.0,762.0 924.0,763.0 934.0,760.0 938.0,752.0 952.0,751.0 960.0,744.0 964.0,737.0 978.0,737.0 984.0,740.0 990.0,744.0 996.0,750.0 1006.0,752.0 1010.0,760.0 1016.0,762.0 1028.0,762.0 1040.0,757.0 1060.0,750.0 1086.0,738.0 1096.0,732.0 1110.0,724.0 1120.0,719.0 1140.0,715.0 1152.0,718.0 1160.0,724.0 1163.0,726.0 1152.0,720.0 1156.0,736.0 1166.0,739.0 1178.0,739.0 1186.0,736.0 1196.0,726.0 1200.0,718.0 1199.0,710.0 1216.0,708.0 1228.0,696.0 1235.0,684.0 1236.0,668.0 1234.0,640.0 1235.0,620.0 1235.0,602.0 1248.0,580.0 1256.0,560.0 1258.0,556.0 1300.0,556.0 1300.0,924.0 916.0,924.0" fill="#FFD5D5" stroke="#000" stroke-width="1.2"/>
<polygon points="916.0,762.0 924.0,763.0 934.0,760.0 938.0,752.0 952.0,751.0 960.0,744.0 964.0,737.0 978.0,737.0 984.0,740.0 990.0,744.0 996.0,750.0 1006.0,752.0 1010.0,760.0 1016.0,762.0 1028.0,762.0 1040.0,757.0 1060.0,750.0 1086.0,738.0 1094.0,734.0 1101.0,740.0 1102.0,752.0 1090.0,768.0 1076.0,784.0 1064.0,793.0 1054.0,794.0 1044.0,788.0 1034.0,780.0 1026.0,782.0 1020.0,790.0 1016.0,804.0 1008.0,806.0 1008.0,810.0 1016.0,812.0 1024.0,824.0 1032.0,837.0 1048.0,839.0 1064.0,838.0 1072.0,844.0 1077.0,860.0 1074.0,876.0 1064.0,894.0 1052.0,892.0 1040.0,882.0 1034.0,872.0 1028.0,866.0 1016.0,868.0 1004.0,869.0 988.0,866.0 974.0,865.0 969.0,872.0 974.0,884.0 980.0,896.0 982.0,906.0 976.0,920.0 974.0,924.0 916.0,924.0" fill="#FFAAAA" stroke="#000" stroke-width="1.2"/>
<polyline points="1086.0,738.0 1094.0,734.0 1101.0,740.0 1102.0,752.0 1090.0,768.0 1076.0,784.0 1064.0,793.0 1054.0,794.0 1044.0,788.0 1034.0,780.0 1026.0,782.0 1020.0,790.0 1016.0,804.0 1008.0,806.0 1008.0,810.0 1016.0,812.0 1024.0,824.0 1032.0,837.0 1048.0,839.0 1064.0,838.0 1072.0,844.0 1077.0,860.0 1074.0,876.0 1064.0,894.0 1052.0,892.0 1040.0,882.0 1034.0,872.0 1028.0,866.0 1016.0,868.0 1004.0,869.0 988.0,866.0 974.0,865.0 969.0,872.0 974.0,884.0 980.0,896.0 982.0,906.0 976.0,920.0 974.0,924.0" fill="none" stroke="#000" stroke-width="1.9"/>
<polygon points="1008.0,762.0 1016.0,762.0 1028.0,762.0 1031.0,768.0 1029.0,776.0 1020.0,774.0 1010.0,770.0 1007.0,766.0" fill="#FFFFFF" stroke="#000" stroke-width="1.08"/>
<polygon points="1054.0,924.0 1056.0,900.0 1063.0,899.0 1072.0,912.0 1082.0,924.0" fill="#FFAAAA" stroke="#000" stroke-width="1.9"/>
<polyline points="998.0,898.0 1006.0,893.0 1012.0,894.0 1010.0,912.0 1004.0,918.0 997.0,914.0 998.0,898.0" fill="none" stroke="#000" stroke-width="1.9"/>
<polygon points="1122.0,724.0 1128.0,721.0 1135.0,724.0 1132.0,734.0 1127.0,740.0 1122.4,739.0" fill="#FFAAAA" stroke="#000" stroke-width="1.9"/>
<polygon points="1235.0,620.0 1235.0,602.0 1248.0,580.0 1256.0,560.0 1258.0,556.0 1300.0,556.0 1300.0,680.0 1280.0,686.0 1272.0,693.0 1264.0,696.0 1258.0,692.0 1250.0,672.0 1240.0,654.0 1235.0,652.0" fill="#FFAAAA" stroke="#000" stroke-width="1.2"/>
<polyline points="1235.0,652.0 1240.0,654.0 1250.0,672.0 1258.0,692.0 1264.0,696.0 1272.0,693.0 1280.0,686.0 1300.0,680.0" fill="none" stroke="#000" stroke-width="1.9"/>
<polygon points="1236.0,668.0 1240.0,688.0 1240.0,704.0 1228.0,708.0 1216.0,709.0 1228.0,696.0 1235.0,684.0" fill="#FFFFFF" stroke="#000" stroke-width="1.08"/>
<polygon points="1178.0,739.0 1186.0,736.0 1196.0,726.0 1212.0,722.0 1200.0,730.0 1190.0,738.0 1180.0,744.0" fill="#FFFFFF" stroke="#000" stroke-width="1.08"/>
<polygon points="1300.0,836.0 1280.0,838.4 1273.0,840.4 1244.4,852.0 1227.0,866.4 1215.6,886.6 1207.0,909.8 1205.4,920.0 1205.0,926.0 1300.0,926.0" fill="#FFFFFF" stroke="#000" stroke-width="1.9"/>
<polygon points="1260.0,879.0 1264.4,884.0 1260.0,889.6 1256.0,884.0" fill="#000" stroke="#000" stroke-width="1.2"/>
<polygon points="1276.0,912.0 1278.0,914.0 1276.0,916.0 1274.0,914.0" fill="#000" stroke="#000" stroke-width="1.2"/>
<polygon points="946.0,556.0 950.0,568.0 954.0,580.0 962.0,594.0 968.0,606.0 978.0,614.0 974.0,624.0 968.0,626.0 974.0,636.0 964.0,634.0 970.0,646.0 980.0,670.0 978.0,680.0 990.0,686.0 1004.0,682.0 1014.0,680.0 1020.0,672.0 1024.0,668.0 1018.0,656.0 1026.0,646.0 1034.0,642.0 1060.0,640.0 1070.0,644.0 1078.0,630.0 1088.0,610.0 1090.0,588.0 1090.0,574.0 1096.0,564.0 1096.0,556.0" fill="#FFAAAA" stroke="#000" stroke-width="1.2"/>
<polygon points="1108.0,572.0 1110.0,576.0 1100.0,600.0 1094.0,620.0 1090.0,636.0 1088.0,634.0 1090.0,618.0 1096.0,598.0 1102.0,582.0" fill="#FFAAAA" stroke="#000" stroke-width="1.2"/>
<polygon points="1142.0,556.0 1142.0,576.0 1146.0,588.0 1143.0,597.0 1148.0,596.0 1150.0,588.0 1158.0,580.0 1162.0,568.0 1163.0,556.0" fill="#FFAAAA" stroke="#000" stroke-width="1.2"/>
<polygon points="1034.0,690.0 1048.0,698.0 1046.0,705.0 1036.0,702.0 1033.6,696.0" fill="#FFD5D5" stroke="#000" stroke-width="1.2"/>
<polygon points="1014.0,678.0 1020.0,673.0 1023.0,676.0 1018.0,683.0" fill="#FFD5D5" stroke="#000" stroke-width="1.2"/>
<polygon points="916.0,664.0 926.0,660.0 936.0,654.0 944.0,650.0 952.0,644.0 962.0,643.0 968.0,648.0 967.0,666.0 962.0,672.0 956.0,678.0 957.0,684.0 963.0,688.0 962.0,692.0 952.0,696.0 954.0,704.0 965.0,704.0 966.0,708.0 958.0,710.0 950.0,718.0 946.0,726.0 944.0,716.0 940.0,710.0 932.0,714.0 924.0,710.0 916.0,709.0" fill="#FFAAAA" stroke="#000" stroke-width="1.2"/>
<polygon points="944.0,650.0 951.0,648.0 952.0,666.0 947.0,667.0" fill="#FFFFFF" stroke="#000" stroke-width="0.96"/>
<polyline points="926.0,651.0 934.0,654.0 940.0,653.0" fill="none" stroke="#000" stroke-width="1.44"/>
<polygon points="916.0,712.0 924.0,710.0 932.0,718.0 944.0,726.0 940.0,730.0 928.0,726.0 916.0,726.0" fill="#FFAAAA" stroke="#000" stroke-width="1.2"/>
<polygon points="916.0,732.0 924.0,734.0 926.0,737.0 916.0,738.0" fill="#FFAAAA" stroke="#000" stroke-width="1.2"/>
<polygon points="987.0,726.0 993.0,723.0 1000.0,728.0 1002.0,738.0 996.0,740.0 1004.0,744.0 996.0,748.0 990.0,744.0 984.0,740.0 989.0,734.0" fill="#FFAAAA" stroke="#000" stroke-width="1.2"/>
<polygon points="953.0,764.4 961.0,764.4 961.0,767.0 953.0,767.0" fill="#000" stroke="#000" stroke-width="1.2"/>
<polyline points="936.0,752.0 952.0,751.0" fill="none" stroke="#000" stroke-width="2.5"/>
<polyline points="964.0,737.0 978.0,737.0" fill="none" stroke="#000" stroke-width="2"/>
<polyline points="1021.0,776.0 1024.0,794.0 1022.0,806.0 1016.0,812.0 1024.0,826.0 1032.0,838.0 1029.0,846.0 1035.0,856.0 1035.0,872.0 1040.0,884.0 1042.0,900.0 1044.0,920.0" fill="none" stroke="#000" stroke-width="1.02"/>
<polyline points="1196.0,736.0 1220.0,739.0 1250.0,741.0 1280.0,740.0" fill="none" stroke="#000" stroke-width="1.02"/>
<polyline points="1240.0,688.0 1250.0,698.0 1268.0,703.0 1280.0,702.0" fill="none" stroke="#000" stroke-width="1.02"/>
<polyline points="1238.0,642.0 1250.0,634.0 1264.0,628.0 1280.0,625.0" fill="none" stroke="#000" stroke-width="1.02"/>
<polyline points="1235.0,602.0 1235.0,620.0 1234.0,640.0 1236.0,668.0" fill="none" stroke="#000" stroke-width="1.8"/>
</g>
<g clip-path="url(#c1280_560)">
<rect x="1279" y="559" width="362" height="362" fill="#FFD5D5"/>
<polygon points="1276.0,556.0 1276.0,684.0 1300.0,662.0 1316.0,656.0 1311.0,636.0 1303.0,626.0 1305.0,610.0 1310.0,603.0 1326.0,608.0 1338.0,618.0 1346.0,630.0 1348.0,640.0 1360.0,648.0 1380.0,653.0 1404.0,651.0 1432.0,653.0 1450.0,647.0 1464.0,648.0 1469.0,658.0 1467.0,674.0 1472.0,686.0 1484.0,692.0 1494.0,702.0 1500.0,720.0 1506.0,728.0 1518.0,728.0 1540.0,716.0 1570.0,706.0 1600.0,698.0 1620.0,698.0 1620.0,556.0" fill="#FFAAAA" stroke="#000" stroke-width="1.9"/>
<polygon points="1286.0,556.0 1288.0,564.0 1300.0,572.0 1306.0,592.0 1318.0,594.0 1330.0,588.0 1338.0,576.0 1340.0,560.0 1340.0,556.0" fill="#FFFFFF" stroke="#000" stroke-width="1.2"/>
<polygon points="1308.0,592.0 1328.0,590.0 1329.0,597.0 1309.0,599.0" fill="#FFD5D5" stroke="#000" stroke-width="1.9"/>
<polygon points="1276.0,839.0 1326.0,824.0 1360.0,812.0 1376.0,800.0 1388.0,792.0 1404.0,790.0 1416.0,796.0 1424.0,812.0 1434.0,820.0 1446.0,820.0 1460.0,808.0 1472.0,794.0 1486.0,786.0 1496.0,784.0 1504.0,790.0 1506.0,804.0 1502.0,818.0 1508.0,830.0 1524.0,842.0 1538.0,858.0 1548.0,866.0 1552.0,874.0 1550.0,892.0 1540.0,904.0 1520.0,914.0 1504.0,920.0 1500.0,924.0 1276.0,924.0" fill="#FFFFFF" stroke="#000" stroke-width="1.9"/>
<polyline points="1292.0,924.0 1304.0,904.0 1308.0,880.0 1316.0,872.0 1340.0,869.0 1370.0,865.0 1400.0,864.0 1416.0,861.0 1432.0,866.0 1446.0,878.0 1456.0,892.0 1460.4,908.0 1458.6,926.0" fill="none" stroke="#000" stroke-width="3.4"/>
<polygon points="1360.0,924.0 1366.0,912.0 1386.0,900.0 1408.0,892.0 1420.0,894.0 1424.0,908.0 1420.0,924.0" fill="#CCFFFF" stroke="#000" stroke-width="1.9"/>
<polyline points="1408.0,560.0 1420.0,559.0 1438.0,560.0 1450.0,576.0 1444.0,596.0 1452.0,604.0 1458.0,622.0 1460.0,638.0 1454.0,644.0 1464.0,646.0" fill="none" stroke="#000" stroke-width="1.02"/>
<polyline points="1276.0,626.0 1288.0,629.0 1294.0,626.0 1300.0,631.0 1314.0,629.0 1330.0,634.0 1346.0,633.0 1354.0,624.0 1360.0,638.0 1376.0,642.0 1392.0,654.0 1400.0,664.0 1410.0,667.0 1424.0,659.0 1442.0,660.0 1444.0,651.0 1456.0,642.0" fill="none" stroke="#000" stroke-width="1.02"/>
<polyline points="1464.0,646.0 1472.0,644.0 1478.0,652.0 1486.0,648.0 1496.0,654.0 1500.0,666.0 1512.0,658.0 1526.0,658.0 1538.0,668.0 1546.0,672.0" fill="none" stroke="#000" stroke-width="1.02"/>
<polyline points="1600.0,574.0 1588.0,580.0 1572.0,586.0 1568.0,594.0 1548.0,596.0 1541.0,606.0 1550.0,612.0 1550.0,622.0 1564.0,632.0 1560.0,654.0 1562.0,664.0 1549.0,664.0 1546.0,672.0 1542.0,688.0 1548.0,700.0 1542.0,716.0" fill="none" stroke="#000" stroke-width="1.02"/>
<polyline points="1542.0,716.0 1550.0,726.0 1556.0,736.0 1560.0,748.0 1574.0,758.0 1572.0,770.0 1588.0,772.0 1596.0,780.0 1600.0,786.0" fill="none" stroke="#000" stroke-width="1.02"/>
<polyline points="1410.0,667.0 1406.0,686.0 1416.0,690.0 1398.0,698.0 1386.0,708.0 1382.0,720.0 1382.0,730.0 1376.0,744.0 1384.0,746.0 1380.0,752.0 1374.0,745.0 1354.0,754.0 1352.0,760.0 1338.0,765.0 1330.0,762.0 1312.0,763.0" fill="none" stroke="#000" stroke-width="1.02"/>
<polyline points="1276.0,702.0 1286.0,706.0 1291.0,714.0 1286.0,726.0 1288.0,738.0 1276.0,741.0" fill="none" stroke="#000" stroke-width="1.02"/>
<polyline points="1288.0,738.0 1300.0,742.0 1310.0,750.0 1312.0,763.0 1316.0,780.0 1322.0,796.0 1326.0,812.0 1325.0,828.0 1316.0,834.0 1306.0,842.0 1301.0,850.0 1314.0,858.0 1317.0,868.0 1314.0,876.0" fill="none" stroke="#000" stroke-width="1.02"/>
<polyline points="1314.0,876.0 1312.0,884.0 1322.0,900.0 1330.0,924.0" fill="none" stroke="#000" stroke-width="1.02"/>
<polyline points="1314.0,882.0 1326.0,884.0 1338.0,872.0 1360.0,868.0 1392.0,870.0 1420.0,878.0 1446.0,888.0 1460.0,882.0 1476.0,888.0 1492.0,884.0 1496.0,894.0 1520.0,890.0 1534.0,902.0 1538.0,876.0 1546.0,864.0" fill="none" stroke="#000" stroke-width="1.02"/>
<polyline points="1600.0,796.0 1582.0,808.0 1560.0,802.0 1556.0,812.0 1564.0,820.0 1566.0,836.0 1568.0,850.0 1580.0,861.0 1588.0,858.0 1592.0,848.0 1600.0,848.0" fill="none" stroke="#000" stroke-width="1.02"/>
<polyline points="1546.0,860.0 1572.0,859.0" fill="none" stroke="#000" stroke-width="1.02"/>
</g>
<g clip-path="url(#c200_920)">
<polygon points="428.0,916.0 424.0,926.0 418.0,934.0 412.0,940.0 410.0,948.0 402.0,954.0 392.0,956.0 390.0,960.0 395.0,963.0 400.0,960.0 406.0,966.0 410.0,958.0 420.0,952.0 432.0,948.0 442.0,948.0 452.0,954.0 456.0,950.0 458.0,940.0 464.0,932.0 480.0,928.0 492.0,936.0 508.0,934.0 512.0,930.0 524.0,928.0 530.0,926.0 540.0,928.0 560.0,924.0 564.0,916.0" fill="#FFD5D5" stroke="#000" stroke-width="1.2"/>
<polygon points="522.0,930.0 530.0,926.0 536.0,930.0 532.0,935.0 526.0,934.0" fill="#FFD5D5" stroke="#000" stroke-width="1.2"/>
<polygon points="580.0,1032.0 560.0,1034.0 544.0,1038.0 538.0,1048.0 528.0,1060.0 516.0,1068.0 504.0,1074.0 498.0,1086.0 496.0,1094.0 506.0,1094.0 516.0,1097.0 506.0,1100.0 508.0,1108.0 504.0,1114.0 512.0,1122.0 518.0,1132.0 528.0,1138.0 534.0,1142.0 536.0,1150.0 532.0,1160.0 538.0,1172.0 536.0,1180.0 534.0,1204.0 538.0,1212.0 532.0,1214.0 530.0,1232.0 526.0,1256.0 524.0,1272.0 520.0,1278.0 504.0,1278.0 494.0,1274.0 480.0,1274.0 470.0,1278.0 468.0,1284.0 580.0,1284.0" fill="#FFD5D5" stroke="#000" stroke-width="1.2"/>
<polyline points="560.0,1034.0 544.0,1038.0 538.0,1048.0 528.0,1060.0 516.0,1068.0 504.0,1074.0 498.0,1086.0 496.0,1094.0" fill="none" stroke="#000" stroke-width="2.2"/>
<polygon points="536.0,1172.0 544.0,1178.0 549.0,1190.0 554.0,1202.0 550.0,1196.0 544.0,1184.0 538.0,1178.0" fill="#FFFFFF" stroke="#000" stroke-width="1.08"/>
<polyline points="496.0,1094.0 494.0,1086.0 480.0,1080.0 472.0,1080.0 458.0,1072.0 446.0,1068.0 438.0,1066.0 434.0,1070.0 430.0,1060.0 422.0,1058.0 434.0,1056.0 436.0,1050.0 428.0,1051.0 426.0,1046.0 438.0,1044.0 440.0,1040.0 420.0,1040.0 420.0,1034.0 430.0,1030.0 440.0,1029.0 446.0,1027.0 450.0,1030.0 456.0,1028.0 460.0,1022.0 470.0,1019.0 476.0,1024.0 484.0,1034.0 490.0,1036.0 498.0,1030.0 506.0,1032.0 508.0,1036.0 510.0,1029.0 518.0,1031.0 527.0,1029.6 522.0,1016.0 520.0,1000.0 512.0,988.0 510.0,979.0 520.0,981.0 528.0,979.0 532.0,988.0 540.0,994.0 560.0,997.0" fill="none" stroke="#000" stroke-width="1.2"/>
<polygon points="420.0,1034.0 426.0,1031.0 438.0,1030.0 441.0,1040.0 438.0,1044.0 426.0,1046.0 420.0,1040.0" fill="#FFD5D5" stroke="#000" stroke-width="1.8"/>
<polygon points="456.0,1028.0 460.0,1022.0 470.0,1019.0 476.0,1024.0 484.0,1034.0 490.0,1036.0 488.0,1044.0 480.0,1047.0 470.0,1042.0 460.0,1036.0 452.0,1032.0" fill="#FFD5D5" stroke="#000" stroke-width="1.2"/>
<polyline points="452.0,1032.0 460.0,1036.0 470.0,1042.0 480.0,1047.0 488.0,1044.0" fill="none" stroke="#000" stroke-width="2.4"/>
<polyline points="487.0,990.0 491.0,988.0 491.0,992.0 488.0,993.0 487.0,990.0" fill="none" stroke="#000" stroke-width="1.2"/>
<polygon points="501.0,1001.0 506.0,1001.0 506.0,1004.0 501.0,1004.0" fill="#000" stroke="#000" stroke-width="1.2"/>
<polyline points="468.0,1091.0 473.0,1090.0 474.0,1093.0 469.0,1093.6 468.0,1091.0" fill="none" stroke="#000" stroke-width="1.2"/>
<polyline points="522.0,1142.0 530.0,1143.0 529.0,1146.0 523.0,1145.0 522.0,1142.0" fill="none" stroke="#000" stroke-width="1.44"/>
<polyline points="527.0,1152.0 533.0,1156.0 534.0,1162.0 530.0,1160.0 527.0,1152.0" fill="none" stroke="#000" stroke-width="1.44"/>
<polygon points="308.0,1269.0 312.0,1260.0 320.0,1253.0 328.0,1254.0 338.0,1256.0 348.0,1260.0 360.0,1261.0 366.0,1270.0 372.0,1284.0 318.0,1284.0 314.0,1276.0" fill="#FFD5D5" stroke="#000" stroke-width="1.2"/>
<polyline points="308.0,1269.0 314.0,1276.0 318.0,1284.0" fill="none" stroke="#000" stroke-width="2.2"/>
<polyline points="360.0,1261.0 366.0,1270.0 372.0,1284.0" fill="none" stroke="#000" stroke-width="2.2"/>
<polyline points="280.0,1284.0 286.0,1276.0 294.0,1272.0 306.0,1269.0 312.0,1260.0 320.0,1253.0 328.0,1254.0 338.0,1256.0 348.0,1260.0 360.0,1261.0 384.0,1259.0 390.0,1262.0 400.0,1263.0 410.0,1266.0 430.0,1268.0 450.0,1266.0 460.0,1264.0 468.0,1271.0 480.0,1274.0" fill="none" stroke="#000" stroke-width="1.2"/>
<polyline points="468.0,1278.0 480.0,1274.0 486.0,1273.0" fill="none" stroke="#000" stroke-width="2.4"/>
</g>
<g clip-path="url(#c560_920)">
<rect x="559" y="919" width="362" height="362" fill="#FFD5D5"/>
<polygon points="556.0,925.6 562.6,923.6 578.6,927.6 591.0,921.2 600.0,917.8 603.0,915.0 624.0,915.0 621.2,921.2 620.4,940.0 615.0,960.0 610.0,966.4 600.0,970.0 586.0,972.0 576.0,980.0 574.0,989.0 586.0,990.0 574.0,994.0 566.0,998.0 556.0,1000.0" fill="#FFFFFF" stroke="#000" stroke-width="1.2"/>
<polygon points="556.0,999.0 567.0,999.0 568.0,1030.0 556.0,1035.0" fill="#FFFFFF" stroke="#000" stroke-width="1.9"/>
<polygon points="652.0,1008.0 642.0,1018.0 637.0,1030.0 638.0,1048.0 626.0,1060.0 620.0,1068.0 628.0,1086.0 632.0,1100.0 630.0,1120.0 632.0,1140.0 638.0,1160.0 634.0,1176.0 624.0,1192.0 628.0,1208.0 640.0,1232.0 656.0,1256.0 668.0,1276.0 672.0,1287.2 940.0,1287.2 940.0,916.0 812.0,916.0 818.0,932.0 822.0,946.0 760.0,980.0 722.0,1040.0 712.0,1034.0 708.0,1024.0 700.0,1012.0 684.0,1011.0 672.0,1006.0 660.0,1009.0" fill="#FFAAAA" stroke="#000" stroke-width="1.9"/>
<polygon points="764.0,1150.0 760.0,1180.0 766.0,1190.0 780.0,1196.0 792.0,1204.0 794.0,1220.0 792.0,1240.0 794.4,1260.0 808.8,1255.0 826.6,1245.0 837.4,1233.0 846.2,1227.0 849.0,1224.4 840.0,1216.0 828.0,1200.0 816.0,1194.0 808.0,1192.0 810.0,1182.0 828.0,1172.0 834.0,1160.0 832.0,1140.0 828.0,1132.0 820.0,1132.0 816.0,1136.0 810.0,1146.0 800.0,1148.0 795.0,1140.0 798.0,1120.0 796.0,1108.0 775.0,1111.0 772.0,1120.0" fill="#FFD5D5" stroke="#000" stroke-width="1.9"/>
<polygon points="774.0,1166.0 778.0,1160.0 786.0,1160.0 806.0,1168.0 800.0,1180.0 790.0,1186.0 778.0,1182.0 774.0,1174.0" fill="#FFFFFF" stroke="#000" stroke-width="1.9"/>
<polygon points="778.0,1170.0 788.0,1166.0 792.0,1172.0 786.0,1180.0" fill="#000" stroke="#000" stroke-width="1.2"/>
<polygon points="810.0,1159.0 820.0,1157.0 818.0,1162.0 812.0,1162.0" fill="#FFFFFF" stroke="#000" stroke-width="1.44"/>
<polygon points="864.0,1128.0 868.0,1120.0 874.0,1116.0 882.0,1122.0 885.0,1136.0 883.0,1148.0 876.0,1153.0 868.0,1150.0 864.0,1140.0" fill="#FF5555" stroke="#000" stroke-width="1.9"/>
<polygon points="871.0,1130.0 874.4,1126.0 877.6,1131.0 876.4,1144.0 873.6,1148.0 871.6,1142.0" fill="#FF0000" stroke="#000" stroke-width="1.44"/>
<polygon points="900.0,1160.0 904.0,1144.0 910.0,1142.0 912.0,1148.0 908.0,1160.0 903.0,1163.0" fill="#FFD5D5" stroke="#000" stroke-width="1.8"/>
<polygon points="888.0,1180.0 889.0,1170.0 892.0,1170.0 892.0,1182.0" fill="#FFD5D5" stroke="#000" stroke-width="1.9"/>
<polygon points="888.0,1220.0 896.0,1218.0 902.0,1224.0 898.0,1234.0 890.0,1238.0 887.0,1230.0" fill="#FFD5D5" stroke="#000" stroke-width="1.8"/>
<polygon points="906.0,1112.0 914.0,1105.0 917.0,1112.0 912.0,1118.0" fill="#FFD5D5" stroke="#000" stroke-width="1.8"/>
<polygon points="753.8,1280.0 757.4,1267.6 768.0,1262.2 780.4,1265.8 782.2,1271.2 780.4,1276.4 764.4,1282.6" fill="#FFD5D5" stroke="#000" stroke-width="1.9"/>
<polygon points="672.0,1276.4 691.6,1256.8 702.2,1262.2 716.4,1264.0 720.0,1269.4 736.0,1269.4 739.6,1276.4 753.8,1280.0 764.4,1282.6 780.4,1276.4 782.2,1271.2 794.6,1256.8 808.8,1251.6 826.6,1240.8 837.4,1228.4 846.2,1224.0 860.4,1226.6 878.2,1237.4 888.8,1239.2 894.2,1249.8 897.8,1262.2 903.2,1278.2 906.6,1287.2 668.0,1287.2 669.0,1280.0" fill="#FFFFFF" stroke="#000" stroke-width="1.2"/>
<polyline points="788.0,1090.0 780.0,1100.0 772.0,1108.0 766.0,1120.0 760.0,1136.0 768.0,1140.0 780.0,1132.0 788.0,1136.0 792.0,1150.0 800.0,1156.0 812.0,1154.0 826.0,1152.0 832.0,1140.0" fill="none" stroke="#000" stroke-width="1.02"/>
<polyline points="780.0,1196.0 788.0,1200.0 792.0,1208.0 788.0,1220.0 790.0,1232.0 800.0,1236.0 810.0,1232.0 812.0,1240.0 808.0,1250.0" fill="none" stroke="#000" stroke-width="1.02"/>
<polyline points="832.0,1140.0 840.0,1146.0 848.0,1154.0 854.0,1160.0 860.0,1152.0 868.0,1140.0 884.0,1138.0 892.0,1128.0 900.0,1124.0 904.0,1112.0" fill="none" stroke="#000" stroke-width="1.02"/>
<polyline points="810.0,1080.0 826.0,1076.0 840.0,1072.0 856.0,1076.0 872.0,1080.0 888.0,1086.0 904.0,1082.0 920.0,1088.0" fill="none" stroke="#000" stroke-width="1.02"/>
</g>
<g clip-path="url(#c920_920)">
<rect x="919" y="919" width="362" height="362" fill="#FFD5D5"/>
<polygon points="976.0,916.0 980.0,928.0 984.0,938.0 982.0,946.0 972.0,951.0 964.0,950.0 960.0,942.0 952.0,940.0 940.0,944.0 937.0,952.0 938.0,960.0 952.0,968.0 960.0,982.0 970.0,989.0 988.0,990.0 1000.0,996.0 1010.0,1006.0 1018.0,1024.0 1024.0,1034.0 1023.0,1044.0 1016.0,1048.0 1006.0,1048.0 998.0,1050.0 996.0,1054.0 1004.0,1056.0 1016.0,1054.0 1024.0,1048.0 1040.0,1054.0 1050.0,1052.0 1060.0,1058.0 1070.0,1066.0 1074.0,1078.0 1068.0,1092.0 1058.0,1098.0 1052.0,1100.0 1050.0,1112.0 1052.0,1124.0 1048.0,1136.0 1040.0,1146.0 1024.0,1148.0 1006.0,1146.0 1005.0,1160.0 1006.0,1170.0 1000.0,1166.0 986.0,1164.0 974.0,1172.0 960.0,1176.0 954.0,1186.0 958.0,1200.0 962.0,1208.0 968.0,1220.0 980.0,1240.0 992.0,1256.0 1000.0,1270.0 1004.0,1286.0 916.0,1286.0 916.0,916.0" fill="#FFAAAA" stroke="#000" stroke-width="1.9"/>
<polygon points="916.0,965.0 920.0,965.0 930.0,972.0 934.0,986.0 936.0,1006.0 928.0,1028.0 940.0,1052.0 932.0,1060.0 930.0,1072.0 924.0,1084.0 916.0,1087.0" fill="#FFD5D5" stroke="#000" stroke-width="1.9"/>
<polygon points="996.0,1054.0 998.0,1050.0 1006.0,1048.0 1016.0,1048.0 1023.0,1044.0 1020.0,1051.0 1016.0,1054.0 1004.0,1056.0" fill="#FFD5D5" stroke="#000" stroke-width="1.9"/>
<polygon points="954.0,1186.0 960.0,1176.0 974.0,1172.0 986.0,1164.0 1000.0,1166.0 1004.0,1172.0 998.0,1176.0 1004.0,1200.0 1009.0,1208.0 1014.0,1200.0 1018.0,1180.0 1024.0,1186.0 1028.0,1200.0 1040.0,1204.0 1048.0,1220.0 1060.0,1232.0 1076.0,1252.0 1090.0,1264.0 1100.0,1276.0 1108.0,1286.0 1004.0,1286.0 1000.0,1270.0 992.0,1256.0 980.0,1248.0 970.0,1240.0 960.0,1227.0 957.0,1214.0 955.0,1200.0" fill="#FFFFFF" stroke="#000" stroke-width="1.2"/>
<polygon points="998.0,1176.0 1004.0,1173.0 1016.0,1178.0 1018.0,1188.0 1014.0,1200.0 1009.0,1208.0 1004.0,1200.0 1000.0,1188.0" fill="#FFAAAA" stroke="#000" stroke-width="1.2"/>
<polygon points="1028.0,1188.0 1034.0,1190.0 1038.0,1200.0 1032.0,1198.0" fill="#FFD5D5" stroke="#000" stroke-width="1.08"/>
<polygon points="1040.0,1204.0 1048.0,1198.0 1066.0,1200.0 1080.0,1204.0 1100.0,1208.0 1112.0,1220.0 1117.0,1234.0 1108.0,1238.0 1096.0,1244.0 1090.0,1252.0 1080.0,1258.0 1070.0,1254.0 1060.0,1244.0 1052.0,1232.0 1044.0,1220.0" fill="#FFAAAA" stroke="#000" stroke-width="1.9"/>
<polyline points="1022.0,1188.0 1024.0,1200.0 1026.0,1208.0" fill="none" stroke="#000" stroke-width="1.08"/>
<polyline points="1036.0,1212.0 1048.0,1226.0 1056.0,1232.0" fill="none" stroke="#000" stroke-width="1.08"/>
<polyline points="1040.0,1238.0 1048.0,1248.0" fill="none" stroke="#000" stroke-width="1.08"/>
<polyline points="961.0,1245.0 963.0,1243.0 964.4,1245.0 962.4,1246.4 961.0,1245.0" fill="none" stroke="#000" stroke-width="1.08"/>
<polygon points="968.0,1257.0 971.6,1258.0 970.0,1263.0 967.6,1261.0" fill="#000" stroke="#000" stroke-width="1.2"/>
<polygon points="941.0,1078.0 944.0,1068.0 954.0,1062.0 964.0,1064.0 969.0,1074.0 972.0,1078.0 968.0,1086.0 963.0,1096.0 952.0,1092.0 944.0,1086.0" fill="#FF5555" stroke="#000" stroke-width="1.9"/>
<polygon points="971.0,1094.0 980.0,1091.0 986.0,1088.0 991.0,1090.0 986.0,1100.0 982.0,1110.0 978.0,1117.0 972.0,1112.0 970.0,1102.0" fill="#FF5555" stroke="#000" stroke-width="1.9"/>
<polygon points="1011.0,1100.0 1017.0,1097.0 1022.0,1106.0 1025.0,1112.0 1018.0,1116.0 1013.0,1115.0" fill="#FF5555" stroke="#000" stroke-width="1.9"/>
<polygon points="994.0,1124.0 1000.0,1114.0 1005.0,1118.0 1007.0,1126.0 1000.0,1128.0" fill="#FF5555" stroke="#000" stroke-width="1.9"/>
<polygon points="921.0,1126.0 928.0,1123.0 934.0,1126.0 932.0,1140.0 924.0,1139.0 920.0,1136.0" fill="#FF5555" stroke="#000" stroke-width="1.9"/>
<polygon points="1052.0,916.0 1052.0,932.0 1058.0,944.0 1068.0,945.0 1078.0,940.0 1084.0,932.0 1083.0,916.0" fill="#FFAAAA" stroke="#000" stroke-width="1.9"/>
<polygon points="1204.0,916.0 1206.0,940.0 1209.0,960.0 1214.0,976.0 1224.0,990.0 1227.0,1000.0 1220.0,1032.0 1208.0,1034.0 1192.0,1038.0 1180.0,1036.0 1172.0,1028.0 1166.0,1020.0 1166.0,1004.0 1160.0,1000.0 1150.0,1002.0 1144.0,1008.0 1142.0,1016.0 1150.0,1028.0 1158.0,1040.0 1159.0,1060.0 1154.0,1072.0 1140.0,1078.0 1126.0,1084.0 1120.0,1094.0 1119.0,1110.0 1124.0,1124.0 1136.0,1140.0 1142.0,1156.0 1148.0,1170.0 1156.0,1180.0 1170.0,1186.0 1182.0,1188.0 1190.0,1194.0 1200.0,1198.0 1216.0,1196.0 1224.0,1200.0 1226.0,1208.0 1220.0,1216.0 1208.0,1214.0 1200.0,1208.0 1188.0,1206.0 1180.0,1208.0 1166.0,1216.0 1156.0,1224.0 1148.0,1228.0 1146.0,1236.0 1160.0,1238.0 1176.0,1240.0 1188.0,1248.0 1196.0,1260.0 1208.0,1268.0 1224.0,1270.0 1240.0,1268.0 1260.0,1280.0 1264.0,1286.0 1300.0,1286.0 1300.0,916.0" fill="#FFFFFF" stroke="#000" stroke-width="1.9"/>
<polygon points="1178.0,1004.0 1186.0,1000.0 1196.0,1000.0 1200.0,992.0 1206.0,989.0 1214.0,993.0 1210.0,1004.0 1200.0,1012.0 1196.0,1022.0 1188.0,1028.0 1180.0,1024.0 1176.0,1014.0" fill="#FFAAAA" stroke="#000" stroke-width="1.44"/>
<polygon points="1186.0,1068.0 1192.0,1060.0 1204.0,1058.0 1212.0,1064.0 1213.0,1072.0 1208.0,1078.0 1198.0,1080.0 1190.0,1076.0" fill="#FFD5D5" stroke="#000" stroke-width="1.9"/>
<polygon points="1238.0,1200.0 1244.0,1188.0 1252.0,1182.0 1260.0,1188.0 1258.0,1200.0 1260.0,1216.0 1266.0,1232.0 1260.0,1240.0 1252.0,1244.0 1246.0,1232.0 1242.0,1214.0" fill="#FFD5D5" stroke="#000" stroke-width="1.44"/>
<polygon points="1278.0,1120.0 1280.0,1114.0 1286.0,1136.0 1278.0,1136.0" fill="#FFD5D5" stroke="#000" stroke-width="1.44"/>
<polygon points="1270.0,1180.0 1280.0,1174.0 1286.0,1194.0 1274.0,1194.0" fill="#FFD5D5" stroke="#000" stroke-width="1.9"/>
<polyline points="1300.0,998.0 1280.0,1000.0 1264.0,992.0 1250.0,984.0 1240.0,986.0 1235.0,996.0 1234.0,1014.0 1226.0,1032.0 1222.0,1048.0 1228.0,1060.0 1232.0,1074.0 1230.0,1086.0 1222.0,1092.0 1212.0,1098.0 1198.0,1108.0 1188.0,1112.0 1186.0,1118.0 1194.0,1124.0 1206.0,1122.0 1220.0,1116.0 1226.0,1110.0 1232.0,1098.0 1244.0,1096.0 1260.0,1096.0 1280.0,1097.0 1300.0,1097.0" fill="none" stroke="#000" stroke-width="3.4"/>
<polyline points="1300.0,1142.0 1276.0,1144.0 1262.0,1146.0 1258.0,1160.0 1256.0,1168.0 1270.0,1166.0 1284.0,1162.0" fill="none" stroke="#000" stroke-width="3.4"/>
<polyline points="1300.0,1198.0 1280.0,1196.0 1268.0,1200.0 1262.0,1208.0 1270.0,1232.0 1274.0,1248.0 1272.0,1268.0 1264.0,1286.0" fill="none" stroke="#000" stroke-width="3.4"/>
<polyline points="1234.0,1028.0 1246.0,1028.0 1246.0,1036.0 1234.0,1036.0 1234.0,1028.0" fill="none" stroke="#000" stroke-width="3.4"/>
<polygon points="1219.0,1245.0 1230.0,1245.0 1230.0,1251.0 1219.0,1251.0" fill="#000" stroke="#000" stroke-width="1.2"/>
<polygon points="1278.0,1248.0 1282.0,1248.0 1282.0,1260.0 1278.0,1260.0" fill="#CCFFFF" stroke="#000" stroke-width="1.2"/>
<polyline points="953.0,949.0 960.0,958.0 966.0,972.0 970.0,990.0 986.0,1002.0 998.0,1016.0 1006.0,1032.0 1024.0,1031.0 1034.0,1028.0 1042.0,1014.0 1058.0,1016.0 1072.0,1024.0 1088.0,1023.0 1100.0,1028.0" fill="none" stroke="#000" stroke-width="1.02"/>
<polyline points="986.0,940.0 988.0,934.0 996.0,929.0 1004.0,925.0 1016.0,922.0 1028.0,918.0" fill="none" stroke="#000" stroke-width="1.02"/>
<polyline points="1086.0,942.0 1094.0,956.0 1104.0,952.0 1106.0,946.0 1120.0,951.0 1128.0,950.0 1128.0,958.0 1140.0,966.0 1156.0,970.0 1164.0,986.0 1146.0,1000.0 1132.0,1016.0 1108.0,1022.0 1100.0,1028.0" fill="none" stroke="#000" stroke-width="1.02"/>
<polyline points="1164.0,986.0 1176.0,990.0 1186.0,984.0 1200.0,994.0 1216.0,994.0 1228.0,996.0" fill="none" stroke="#000" stroke-width="1.02"/>
<polyline points="1100.0,1028.0 1104.0,1044.0 1110.0,1060.0 1104.0,1072.0 1090.0,1076.0 1096.0,1086.0 1090.0,1094.0 1090.0,1106.0 1084.0,1112.0" fill="none" stroke="#000" stroke-width="1.02"/>
<polyline points="1110.0,1060.0 1126.0,1070.0 1146.0,1072.0 1159.0,1070.0 1164.0,1060.0 1186.0,1052.0 1208.0,1046.0 1220.0,1040.0 1228.0,1032.0" fill="none" stroke="#000" stroke-width="1.02"/>
<polyline points="920.0,1086.0 932.0,1078.0 942.0,1078.0 960.0,1076.0 972.0,1078.0 980.0,1084.0" fill="none" stroke="#000" stroke-width="1.02"/>
<polyline points="1006.0,1032.0 996.0,1040.0 986.0,1048.0 974.0,1056.0 980.0,1072.0 978.0,1080.0" fill="none" stroke="#000" stroke-width="1.02"/>
<polyline points="920.0,1112.0 932.0,1108.0 946.0,1106.0 954.0,1104.0 960.0,1118.0 972.0,1124.0 994.0,1128.0 1016.0,1132.0 1032.0,1132.0 1040.0,1126.0 1060.0,1122.0 1084.0,1114.0" fill="none" stroke="#000" stroke-width="1.02"/>
<polyline points="1006.0,1170.0 1016.0,1176.0 1032.0,1174.0 1040.0,1178.0 1050.0,1178.0 1052.0,1166.0 1064.0,1160.0 1066.0,1148.0 1072.0,1140.0 1084.0,1130.0 1084.0,1114.0" fill="none" stroke="#000" stroke-width="1.02"/>
<polyline points="994.0,1140.0 1000.0,1132.0 1006.0,1140.0 1000.0,1150.0 1005.0,1160.0" fill="none" stroke="#000" stroke-width="1.02"/>
<polyline points="1084.0,1130.0 1096.0,1138.0 1108.0,1150.0 1120.0,1158.0 1140.0,1163.0 1156.0,1162.0 1166.0,1156.0" fill="none" stroke="#000" stroke-width="1.02"/>
<polyline points="1068.0,1200.0 1070.0,1190.0 1078.0,1190.0 1084.0,1196.0 1090.0,1188.0 1100.0,1186.0 1112.0,1190.0 1130.0,1192.0 1146.0,1194.0 1160.0,1196.0 1172.0,1204.0" fill="none" stroke="#000" stroke-width="1.02"/>
<polyline points="1068.0,1200.0 1074.0,1214.0 1080.0,1224.0 1086.0,1236.0 1090.0,1240.0 1094.0,1246.0" fill="none" stroke="#000" stroke-width="1.02"/>
<polyline points="1096.0,1248.0 1106.0,1260.0 1112.0,1268.0 1120.0,1278.0" fill="none" stroke="#000" stroke-width="1.02"/>
<polyline points="1166.0,1156.0 1184.0,1148.0 1204.0,1146.0 1210.0,1144.0 1228.0,1132.0 1244.0,1118.0 1260.0,1096.0 1266.0,1080.0 1280.0,1070.0" fill="none" stroke="#000" stroke-width="1.02"/>
<polyline points="1166.0,1156.0 1170.0,1170.0 1166.0,1180.0 1172.0,1188.0 1172.0,1204.0" fill="none" stroke="#000" stroke-width="1.02"/>
<polyline points="1210.0,1146.0 1224.0,1160.0 1228.0,1176.0 1240.0,1186.0 1250.0,1192.0" fill="none" stroke="#000" stroke-width="1.02"/>
<polyline points="1172.0,1204.0 1176.0,1216.0 1174.0,1232.0 1184.0,1244.0 1188.0,1260.0 1180.0,1272.0" fill="none" stroke="#000" stroke-width="1.02"/>
<polyline points="1228.0,1032.0 1240.0,1040.0 1256.0,1044.0 1268.0,1038.0 1280.0,1048.0" fill="none" stroke="#000" stroke-width="1.02"/>
</g>
<g clip-path="url(#c1280_920)">
<rect x="1279" y="919" width="362" height="362" fill="#FFFFFF"/>
<polygon points="1506.0,916.0 1503.0,930.0 1504.0,946.0 1510.0,962.0 1520.0,974.0 1530.0,979.0 1540.0,974.0 1552.0,971.0 1560.0,978.0 1562.0,996.0 1568.0,1014.0 1576.0,1036.0 1582.0,1052.0 1592.0,1064.0 1604.0,1070.0 1604.0,916.0" fill="#FFD5D5" stroke="#000" stroke-width="1.9"/>
<polygon points="1360.0,916.0 1362.0,926.0 1370.0,934.0 1382.0,944.0 1394.0,948.0 1404.0,946.0 1410.0,936.0 1418.0,926.0 1422.0,916.0" fill="#CCFFFF" stroke="#000" stroke-width="1.9"/>
<polygon points="1314.0,1019.0 1326.0,1010.0 1340.0,1005.0 1350.0,1006.0 1360.0,1014.0 1380.0,1018.0 1400.0,1022.0 1406.0,1030.0 1408.0,1044.0 1412.0,1054.0 1420.0,1058.0 1428.0,1054.0 1434.0,1040.0 1430.0,1024.0 1432.0,1016.0 1440.0,1011.0 1452.0,1011.0 1468.0,1016.0 1482.0,1022.0 1490.0,1034.0 1498.0,1048.0 1501.0,1064.0 1498.0,1080.0 1492.0,1086.0 1456.0,1090.0 1460.0,1100.0 1470.0,1112.0 1482.0,1120.0 1506.0,1119.0 1510.0,1136.0 1515.0,1158.0 1510.0,1168.0 1504.0,1166.0 1508.0,1184.0 1506.0,1204.0 1490.0,1206.0 1484.0,1200.0 1480.0,1206.0 1482.0,1216.0 1476.0,1224.0 1472.0,1240.0 1470.0,1260.0 1472.0,1264.0 1460.0,1272.0 1452.0,1280.0 1450.0,1286.0 1416.0,1286.0 1418.0,1280.0 1420.8,1262.4 1406.0,1259.4 1389.0,1274.0 1360.0,1277.0 1330.0,1277.0 1302.0,1274.0 1276.0,1268.0 1276.0,1236.0 1292.0,1240.0 1306.0,1234.0 1330.0,1238.0 1348.0,1238.0 1360.0,1234.0 1350.0,1228.0 1346.0,1216.0 1344.0,1204.0 1340.0,1186.0 1332.0,1180.0 1338.0,1180.0 1346.0,1184.0 1350.0,1196.0 1364.0,1214.0 1384.0,1204.0 1400.0,1194.0 1420.0,1180.0 1424.0,1178.0 1420.0,1138.0 1418.0,1120.0 1420.0,1106.0 1434.0,1090.0 1428.0,1080.0 1412.0,1082.0 1404.0,1078.0 1398.0,1068.0 1392.0,1060.0 1376.0,1052.0 1360.0,1044.0 1346.0,1038.0 1334.0,1036.0 1322.0,1028.0" fill="#CCFFFF" stroke="#000" stroke-width="1.9"/>
<polygon points="1280.0,1159.0 1300.0,1150.0 1324.0,1136.0 1328.0,1150.0 1320.0,1154.0 1300.0,1156.0" fill="#CCFFFF" stroke="#000" stroke-width="1.44"/>
<polygon points="1300.0,1188.0 1308.0,1190.0 1314.0,1198.0 1330.0,1202.0 1326.0,1214.0 1310.0,1210.0 1296.0,1208.0 1286.0,1204.0 1292.0,1196.0" fill="#CCFFFF" stroke="#000" stroke-width="1.44"/>
<polygon points="1276.0,1216.0 1288.0,1220.0 1284.0,1232.0 1276.0,1232.0" fill="#CCFFFF" stroke="#000" stroke-width="1.44"/>
<polyline points="1333.0,1078.0 1338.0,1060.0 1354.0,1052.0 1368.0,1060.0 1380.0,1076.0 1398.0,1086.0 1414.0,1096.0 1414.0,1110.0 1418.0,1130.0 1422.0,1156.0 1424.0,1178.0 1400.0,1194.0 1384.0,1204.0 1364.0,1202.0 1352.0,1188.0 1360.0,1160.0 1358.0,1140.0 1350.0,1120.0 1340.0,1096.0 1333.0,1078.0" fill="none" stroke="#000" stroke-width="3.4"/>
<polyline points="1340.0,1080.0 1342.0,1064.0 1352.0,1058.0 1364.0,1062.0 1376.0,1078.0 1392.0,1088.0 1408.0,1098.0 1412.0,1112.0 1410.0,1132.0 1416.0,1156.0 1418.0,1174.0 1400.0,1186.0 1386.0,1196.0 1370.0,1198.0 1360.0,1194.0 1354.0,1178.0 1360.0,1160.0 1358.0,1140.0 1350.0,1120.0 1344.0,1100.0 1340.0,1080.0" fill="none" stroke="#000" stroke-width="1.9"/>
<polygon points="1344.0,1078.0 1348.0,1066.0 1354.0,1062.0 1362.0,1066.0 1370.0,1076.0 1378.0,1086.0 1392.0,1094.0 1402.0,1104.0 1405.0,1116.0 1400.0,1126.0 1394.0,1128.0 1386.0,1124.0 1376.0,1118.0 1366.0,1108.0 1356.0,1096.0 1348.0,1088.0" fill="#FFD5D5" stroke="#000" stroke-width="1.9"/>
<polygon points="1385.0,1110.0 1389.0,1109.0 1392.0,1113.0 1387.0,1115.0" fill="#FFAAAA" stroke="#000" stroke-width="1.2"/>
<polygon points="1392.0,1160.0 1394.0,1152.0 1402.0,1148.0 1410.0,1152.0 1413.0,1162.0 1410.0,1172.0 1402.0,1174.0 1396.0,1170.0" fill="#FFD5D5" stroke="#000" stroke-width="1.9"/>
<polygon points="1358.0,1178.0 1360.0,1168.0 1368.0,1163.0 1380.0,1168.0 1388.0,1178.0 1386.0,1186.0 1376.0,1192.0 1366.0,1192.0 1360.0,1186.0" fill="#FFD5D5" stroke="#000" stroke-width="1.9"/>
<polygon points="1365.0,1180.0 1370.0,1175.0 1378.0,1180.0 1374.0,1185.0 1368.0,1185.0" fill="#FFAAAA" stroke="#000" stroke-width="1.2"/>
<polyline points="1374.0,1136.0 1384.0,1131.0 1394.0,1135.0 1386.0,1146.0 1378.0,1147.0 1374.0,1136.0" fill="none" stroke="#000" stroke-width="3.4"/>
<polyline points="1333.0,1146.0 1339.0,1137.0 1345.0,1146.0 1340.0,1155.0 1333.0,1146.0" fill="none" stroke="#000" stroke-width="3.4"/>
<polyline points="1316.0,1168.0 1323.0,1163.0 1329.0,1169.0 1323.0,1175.0 1316.0,1168.0" fill="none" stroke="#000" stroke-width="3.4"/>
<polygon points="1320.0,1188.0 1326.0,1188.0 1326.0,1194.0 1320.0,1194.0" fill="#000" stroke="#000" stroke-width="1.2"/>
<polyline points="1309.0,1078.0 1315.0,1074.0 1320.0,1079.0 1314.0,1083.0 1309.0,1078.0" fill="none" stroke="#000" stroke-width="3.4"/>
<polyline points="1302.0,1125.0 1306.0,1123.0 1309.0,1126.0 1305.0,1128.0 1302.0,1125.0" fill="none" stroke="#000" stroke-width="2.5"/>
<polyline points="1296.0,1224.0 1303.0,1219.0 1309.0,1225.0 1302.0,1229.0 1296.0,1224.0" fill="none" stroke="#000" stroke-width="3.4"/>
<polyline points="1388.0,1224.0 1393.0,1219.0 1397.0,1225.0 1392.0,1229.0 1388.0,1224.0" fill="none" stroke="#000" stroke-width="1.9"/>
<polygon points="1276.0,1112.0 1286.0,1111.0 1294.0,1118.0 1298.0,1126.0 1292.0,1132.0 1280.0,1134.0 1276.0,1134.0" fill="#FFD5D5" stroke="#000" stroke-width="1.44"/>
<polyline points="1276.0,1096.0 1300.0,1098.0 1298.0,1110.0 1314.0,1118.0 1316.0,1130.0 1306.0,1138.0 1280.0,1142.0 1276.0,1143.0" fill="none" stroke="#000" stroke-width="3.4"/>
<polygon points="1276.0,1172.0 1286.0,1174.0 1294.0,1180.0 1288.0,1188.0 1276.0,1192.0" fill="#FFD5D5" stroke="#000" stroke-width="1.44"/>
<polyline points="1276.0,1168.0 1292.0,1172.0 1298.0,1180.0 1288.0,1194.0 1276.0,1200.0" fill="none" stroke="#000" stroke-width="3.4"/>
<polygon points="1282.0,971.0 1288.0,968.0 1293.0,972.0 1290.0,978.0 1284.0,977.0" fill="#FFD5D5" stroke="#000" stroke-width="1.2"/>
<polyline points="1292.0,916.0 1291.0,932.0 1304.0,946.0 1320.0,958.0 1340.0,968.0 1364.0,967.0 1380.0,970.0 1390.0,978.0 1392.0,988.0 1386.0,996.0 1376.0,998.0 1364.0,992.0 1354.0,978.0 1346.0,972.0 1334.0,980.0 1320.0,992.0 1306.0,1006.0 1292.0,1006.0 1276.0,1004.0" fill="none" stroke="#000" stroke-width="3.4"/>
<polyline points="1458.6,915.0 1455.0,940.0 1458.0,958.0 1472.0,968.0 1490.0,978.0 1498.0,994.0 1500.0,1016.0 1504.0,1032.0 1516.0,1044.0 1534.0,1050.0 1548.0,1060.0 1558.0,1076.0 1566.0,1096.0 1574.0,1108.0 1580.0,1111.0 1600.0,1107.0" fill="none" stroke="#000" stroke-width="3.4"/>
<polyline points="1600.0,1108.0 1580.0,1112.0 1576.0,1118.0 1566.0,1120.0 1544.0,1128.0 1540.0,1140.0 1532.0,1152.0 1518.0,1162.0 1510.0,1168.0" fill="none" stroke="#000" stroke-width="1.2"/>
<polyline points="1564.0,1124.0 1580.0,1128.0 1596.0,1126.0 1600.0,1132.0" fill="none" stroke="#000" stroke-width="1.2"/>
<polyline points="1574.0,1139.0 1588.0,1142.0 1600.0,1140.0" fill="none" stroke="#000" stroke-width="2.5"/>
<polyline points="1588.0,1147.0 1600.0,1145.0" fill="none" stroke="#000" stroke-width="3.4"/>
<polyline points="1570.0,1096.0 1576.0,1104.0 1578.0,1110.0" fill="none" stroke="#000" stroke-width="2.2"/>
<polyline points="1280.0,1050.0 1292.0,1060.0 1300.0,1056.0 1320.0,1060.0 1338.0,1064.0 1360.0,1064.0 1394.0,1062.0 1400.0,1052.0 1412.0,1050.0 1424.0,1058.0" fill="none" stroke="#000" stroke-width="1.02"/>
<polyline points="1410.0,1046.0 1432.0,1042.0 1444.0,1039.0 1456.0,1048.0 1468.0,1054.0 1480.0,1058.0 1490.0,1064.0 1492.0,1078.0 1496.0,1090.0 1502.0,1100.0 1504.0,1116.0 1514.0,1130.0 1518.0,1136.0" fill="none" stroke="#000" stroke-width="1.02"/>
<polyline points="1424.0,1058.0 1436.0,1078.0 1448.0,1100.0 1458.0,1120.0 1460.0,1140.0 1456.0,1156.0 1458.0,1172.0 1466.0,1186.0" fill="none" stroke="#000" stroke-width="1.02"/>
<polyline points="1466.0,1186.0 1480.0,1186.0 1492.0,1180.0 1500.0,1178.0 1508.0,1184.0" fill="none" stroke="#000" stroke-width="1.02"/>
<polyline points="1458.0,1172.0 1472.0,1166.0 1482.0,1150.0 1484.0,1136.0 1492.0,1128.0 1498.0,1134.0 1506.0,1130.0" fill="none" stroke="#000" stroke-width="1.02"/>
<polyline points="1290.0,1248.0 1310.0,1252.0 1330.0,1256.0 1350.0,1254.0 1370.0,1258.0 1392.0,1244.0 1410.0,1238.0 1424.0,1236.0 1440.0,1242.0 1454.0,1248.0 1470.0,1254.0" fill="none" stroke="#000" stroke-width="1.02"/>
<polyline points="1330.0,920.0 1326.0,932.0 1318.0,944.0 1304.0,960.0 1288.0,978.0 1286.0,996.0 1280.0,1008.0" fill="none" stroke="#000" stroke-width="1.02"/>
<polyline points="1556.0,978.0 1564.0,1000.0 1572.0,1024.0 1580.0,1048.0" fill="none" stroke="#000" stroke-width="1.02"/>
<polyline points="1277.8,1288.0 1277.8,1280.4 1285.0,1276.0 1319.6,1280.4 1360.0,1286.2" fill="none" stroke="#000" stroke-width="3.4"/>
</g>
<g clip-path="url(#c200_1280)">
<polygon points="318.0,1276.0 322.0,1288.0 316.0,1302.0 309.0,1312.0 310.0,1324.0 316.0,1336.0 330.0,1344.0 340.0,1352.0 352.0,1364.0 358.0,1374.0 364.0,1388.0 370.0,1400.0 380.0,1408.0 392.0,1414.0 400.0,1420.0 408.0,1430.0 420.0,1438.0 430.0,1446.0 438.0,1454.0 440.0,1464.0 436.0,1478.0 432.0,1496.0 428.0,1512.0 422.0,1524.0 418.0,1528.0 438.0,1544.0 450.0,1543.0 466.0,1544.0 480.0,1542.0 486.0,1544.0 492.0,1540.0 500.0,1542.0 508.0,1536.0 512.0,1526.0 520.0,1518.0 528.0,1512.0 540.0,1510.0 548.0,1506.0 544.0,1500.0 550.0,1488.0 554.0,1480.0 558.0,1476.0 550.0,1474.0 540.0,1464.0 536.0,1450.0 534.0,1438.0 540.0,1428.0 552.0,1418.0 560.0,1412.0 566.0,1408.0 566.0,1276.0 462.0,1276.0 450.0,1282.0 432.0,1288.0 422.0,1298.0 416.0,1306.0 412.0,1312.0 400.0,1317.0 388.0,1315.0 382.0,1306.0 378.0,1292.0 374.0,1282.0 370.0,1276.0" fill="#FFD5D5" stroke="#000" stroke-width="1.2"/>
<polyline points="318.0,1276.0 322.0,1288.0 316.0,1302.0 309.0,1312.0 310.0,1324.0 316.0,1336.0 330.0,1344.0 340.0,1352.0 352.0,1364.0 358.0,1374.0 364.0,1388.0 370.0,1400.0 380.0,1408.0 392.0,1414.0 400.0,1420.0 408.0,1430.0 420.0,1438.0 430.0,1446.0 438.0,1454.0 440.0,1464.0 436.0,1478.0 432.0,1496.0 428.0,1512.0 422.0,1524.0 418.0,1528.0 438.0,1544.0" fill="none" stroke="#000" stroke-width="2.2"/>
<polyline points="370.0,1276.0 374.0,1282.0 378.0,1292.0 382.0,1306.0 388.0,1315.0 400.0,1317.0 412.0,1312.0 416.0,1306.0 422.0,1298.0 432.0,1288.0 450.0,1282.0 462.0,1276.0" fill="none" stroke="#000" stroke-width="2.2"/>
<polyline points="558.0,1476.0 550.0,1474.0 540.0,1464.0 536.0,1450.0 534.0,1438.0 540.0,1428.0 552.0,1418.0 560.0,1412.0 566.0,1408.0" fill="none" stroke="#000" stroke-width="2.2"/>
<polygon points="528.0,1302.0 530.0,1290.0 540.0,1282.0 552.0,1280.0 566.0,1284.0 566.0,1314.0 552.0,1318.0 540.0,1316.0 532.0,1310.0" fill="#FFFFFF" stroke="#000" stroke-width="1.8"/>
<polyline points="540.0,1290.0 552.0,1288.0 558.0,1292.0 556.0,1302.0 544.0,1304.0 540.0,1298.0 540.0,1290.0" fill="none" stroke="#000" stroke-width="3.4"/>
<polygon points="556.0,1450.0 560.0,1448.0 562.0,1468.0 558.0,1468.0" fill="#000" stroke="#000" stroke-width="1.2"/>
<polyline points="278.0,1276.0 280.0,1288.0 286.0,1296.0 290.0,1292.0 294.0,1306.0 298.0,1314.0 294.0,1318.0 291.0,1326.0 291.0,1334.0 294.0,1350.0 298.0,1370.0 296.0,1384.0 293.0,1400.0 288.0,1416.0 282.0,1430.0 276.0,1440.0 275.0,1450.0 272.0,1460.0 274.0,1465.0 282.0,1464.0 284.0,1460.0 288.0,1458.0 282.0,1468.0 280.0,1474.0 290.0,1475.0 296.0,1474.0 294.0,1480.0 294.0,1500.0 293.0,1520.0 288.0,1531.0 294.0,1530.0 312.0,1529.0 328.0,1530.0 340.0,1525.0 352.0,1525.0 362.0,1530.0 370.0,1538.0 368.0,1546.0 374.0,1554.0 378.0,1560.0 382.0,1568.0 392.0,1572.0 400.0,1570.0 402.0,1564.0 408.0,1556.0 420.0,1552.0 426.0,1548.0 432.0,1544.0 438.0,1544.0" fill="none" stroke="#000" stroke-width="1.2"/>
<polygon points="297.0,1372.0 301.0,1373.0 300.0,1377.0 297.0,1376.0" fill="#000" stroke="#000" stroke-width="1.2"/>
<polygon points="312.0,1450.0 318.0,1444.0 328.0,1446.0 344.0,1444.0 348.0,1450.0 340.0,1458.0 334.0,1470.0 330.0,1473.0 322.0,1473.0 319.0,1466.0 320.0,1456.0" fill="#FFD5D5" stroke="#000" stroke-width="2.2"/>
<polygon points="291.0,1523.0 308.0,1519.0 330.0,1513.0 336.0,1496.0 342.0,1486.0 354.0,1485.0 360.0,1492.0 364.0,1502.0 366.0,1518.0 364.0,1525.0 358.0,1529.0 352.0,1525.0 340.0,1525.0 328.0,1530.0 312.0,1529.0 294.0,1530.0 290.0,1528.0" fill="#FFD5D5" stroke="#000" stroke-width="2.2"/>
<polygon points="368.0,1532.0 380.0,1530.0 392.0,1524.0 402.0,1525.0 408.0,1529.0 400.0,1540.0 390.0,1550.0 380.0,1560.0 374.0,1554.0 368.0,1546.0 370.0,1538.0" fill="#FFD5D5" stroke="#000" stroke-width="2.2"/>
<polygon points="378.0,1600.0 384.0,1580.0 394.0,1579.0 397.0,1600.0" fill="#FFD5D5" stroke="#000" stroke-width="1.9"/>
<polygon points="544.0,1586.0 549.0,1583.0 554.0,1588.0 553.0,1597.0 548.0,1598.0 545.0,1594.0" fill="#FFD5D5" stroke="#000" stroke-width="3.4"/>
<polyline points="326.0,1395.0 334.0,1390.0 343.0,1391.0 344.0,1397.0 338.0,1401.0 329.0,1402.0 326.0,1395.0" fill="none" stroke="#000" stroke-width="3.4"/>
<polyline points="291.0,1334.0 298.0,1325.0 309.0,1324.0 314.0,1328.0 320.0,1334.0 332.0,1335.0 344.0,1329.0 360.0,1330.0 366.0,1338.0 366.0,1342.0 375.0,1347.0 370.0,1356.0 360.0,1360.0 356.0,1368.0 353.0,1370.0 357.0,1384.0 356.0,1396.0 349.0,1404.0 354.0,1410.0 350.0,1424.0 340.0,1426.0 334.0,1428.0 340.0,1436.0 346.0,1440.0 350.0,1450.0 344.0,1458.0 340.0,1468.0 342.0,1478.0 346.0,1484.0 336.0,1498.0 333.0,1510.0 336.0,1526.0" fill="none" stroke="#000" stroke-width="1.02"/>
<polyline points="397.0,1580.0 400.0,1576.0 403.0,1580.0 406.0,1588.0 416.0,1598.0" fill="none" stroke="#000" stroke-width="1.2"/>
<polyline points="394.0,1579.0 397.0,1600.0" fill="none" stroke="#000" stroke-width="2"/>
<polyline points="528.0,1600.0 532.0,1592.0 540.0,1586.0 548.0,1582.0 560.0,1576.0" fill="none" stroke="#000" stroke-width="1.2"/>
<polyline points="475.0,1600.0 477.0,1595.0 478.4,1600.0" fill="none" stroke="#000" stroke-width="1.2"/>
</g>
<g clip-path="url(#c560_1280)">
<polygon points="556.0,1276.0 669.0,1276.0 666.0,1288.0 664.0,1300.0 670.0,1310.0 675.0,1317.0 670.0,1320.0 672.0,1330.0 666.0,1338.0 654.0,1346.0 640.0,1354.0 636.0,1359.0 620.0,1362.0 616.0,1356.0 608.0,1355.0 596.0,1364.0 586.0,1368.0 572.0,1372.0 566.0,1384.0 560.0,1400.0 556.0,1404.0" fill="#FFD5D5" stroke="#000" stroke-width="1.2"/>
<polyline points="556.0,1404.0 560.0,1400.0 566.0,1384.0 572.0,1372.0 586.0,1368.0 596.0,1364.0 608.0,1355.0 616.0,1356.0 620.0,1362.0" fill="none" stroke="#000" stroke-width="3.4"/>
<polyline points="620.0,1362.0 604.0,1368.0 596.0,1376.0 598.0,1384.0 590.0,1388.0 580.0,1400.0 568.0,1416.0 560.0,1432.0 556.0,1440.0" fill="none" stroke="#000" stroke-width="1.2"/>
<polygon points="600.0,1314.0 604.0,1300.0 616.0,1292.0 630.0,1291.0 644.0,1298.0 651.0,1312.0 650.0,1326.0 640.0,1336.0 626.0,1341.0 612.0,1337.0 603.0,1328.0" fill="#FFFFFF" stroke="#000" stroke-width="2.2"/>
<polyline points="611.0,1314.0 616.0,1302.0 628.0,1299.0 639.0,1304.0 642.0,1316.0 637.0,1326.0 626.0,1330.0 616.0,1327.0 611.0,1314.0" fill="none" stroke="#000" stroke-width="3.4"/>
<polygon points="556.0,1286.0 564.0,1290.0 572.0,1298.0 570.0,1306.0 560.0,1312.0 556.0,1313.0" fill="#FFFFFF" stroke="#000" stroke-width="2.2"/>
<polygon points="566.0,1457.0 577.0,1462.0 568.0,1470.0 565.0,1466.0" fill="#CCFFFF" stroke="#000" stroke-width="1.2"/>
<polyline points="560.0,1450.0 566.0,1468.0" fill="none" stroke="#000" stroke-width="3.4"/>
<polyline points="556.0,1460.0 562.0,1472.0" fill="none" stroke="#000" stroke-width="3.4"/>
<polyline points="572.0,1298.0 582.0,1297.0 592.0,1292.0 600.0,1296.0 610.0,1300.0" fill="none" stroke="#000" stroke-width="1.02"/>
<polyline points="650.0,1312.0 658.0,1308.0 668.0,1310.0" fill="none" stroke="#000" stroke-width="1.02"/>
<polygon points="645.0,1428.0 654.0,1420.0 668.0,1415.0 669.0,1420.0 680.0,1423.0 676.0,1434.0 668.0,1442.0 660.0,1438.0 656.0,1432.0 648.0,1432.0" fill="#FFFFFF" stroke="#000" stroke-width="1.44"/>
<polygon points="658.0,1419.0 667.0,1416.0 664.0,1423.0" fill="#000" stroke="#000" stroke-width="1.2"/>
<polygon points="645.0,1429.0 651.0,1426.0 654.0,1430.0 648.0,1432.0" fill="#FFD5D5" stroke="#000" stroke-width="1.2"/>
<polygon points="657.0,1434.0 664.0,1438.0 662.0,1440.0 658.0,1438.0" fill="#FFD5D5" stroke="#000" stroke-width="1.2"/>
<polygon points="690.0,1411.0 700.0,1409.0 707.0,1416.0 706.0,1420.0 698.0,1416.0 691.0,1414.0" fill="#FFFFFF" stroke="#000" stroke-width="1.44"/>
<polygon points="609.0,1454.0 616.0,1448.0 622.0,1450.0 618.0,1458.0 611.0,1459.0" fill="#FFFFFF" stroke="#000" stroke-width="1.44"/>
<polygon points="614.0,1464.0 620.0,1464.0 620.0,1467.0 615.0,1466.4" fill="#FFFFFF" stroke="#000" stroke-width="1.44"/>
<polygon points="864.0,1286.0 869.0,1285.0 870.0,1300.0 873.0,1316.0 870.0,1332.0 866.0,1344.0 862.0,1355.0 856.0,1352.0 848.0,1346.0 850.0,1338.0 844.0,1332.0 846.0,1324.0 841.0,1318.0 842.0,1310.0 850.0,1302.0 860.0,1298.0 865.0,1294.0" fill="#FFD5D5" stroke="#000" stroke-width="1.2"/>
<polygon points="848.0,1344.0 858.0,1340.0 863.0,1343.0 861.0,1348.0 854.0,1347.0" fill="#FFAAAA" stroke="#000" stroke-width="1.9"/>
<polygon points="828.0,1374.0 840.0,1377.0 850.0,1368.0 860.0,1360.0 868.0,1362.0 874.0,1370.0 878.0,1380.0 880.0,1390.0 874.0,1402.0 876.0,1416.0 872.0,1432.0 872.0,1446.0 864.0,1440.0 856.0,1444.0 854.0,1454.0 844.0,1458.0 840.0,1451.0 834.0,1450.0 838.0,1440.0 836.0,1420.0 840.0,1416.0 834.0,1400.0 835.0,1392.0 828.0,1386.0" fill="#FFD5D5" stroke="#000" stroke-width="1.2"/>
<polygon points="889.0,1294.0 899.0,1293.0 899.0,1297.0 890.0,1297.0" fill="#FFAAAA" stroke="#000" stroke-width="1.2"/>
<polygon points="900.0,1276.0 910.0,1290.0 920.0,1306.0 926.0,1310.0 926.0,1276.0" fill="#FFD5D5" stroke="#000" stroke-width="1.2"/>
<polygon points="908.0,1276.0 913.0,1287.0 920.0,1290.0 926.0,1292.0 926.0,1276.0" fill="#FFAAAA" stroke="#000" stroke-width="1.9"/>
<polygon points="754.0,1276.0 755.0,1282.0 764.0,1283.0 768.0,1276.0" fill="#FFD5D5" stroke="#000" stroke-width="1.2"/>
<polyline points="556.0,1580.0 568.0,1580.0 574.0,1570.0 586.0,1562.0 600.0,1554.0 620.0,1550.0 640.0,1548.0 654.0,1547.0 664.0,1541.0 680.0,1540.0 690.0,1536.0 710.0,1537.0 726.0,1538.0 732.0,1544.0 740.0,1547.0 752.0,1540.0 766.0,1536.0 772.0,1530.0 780.0,1534.0 790.0,1536.0 798.0,1530.0 816.0,1536.0" fill="none" stroke="#000" stroke-width="1.2"/>
<polygon points="805.0,1538.0 816.0,1536.0 828.0,1537.0 840.0,1534.0 854.0,1526.0 872.0,1520.0 880.0,1519.0 890.0,1523.0 893.0,1534.0 900.0,1542.0 912.0,1538.0 920.0,1534.0 920.0,1546.0 908.0,1556.0 890.0,1560.0 868.0,1565.0 856.0,1560.0 844.0,1548.0 834.0,1540.0 822.0,1540.0 810.0,1546.0" fill="#FFD5D5" stroke="#000" stroke-width="1.2"/>
<polyline points="822.0,1540.0 834.0,1540.0 844.0,1548.0 856.0,1560.0 868.0,1565.0 890.0,1560.0 908.0,1556.0" fill="none" stroke="#000" stroke-width="2.4"/>
<polygon points="879.0,1523.0 883.0,1523.0 883.0,1527.0 879.4,1527.0" fill="#FFFFFF" stroke="#000" stroke-width="1.2"/>
<polyline points="920.0,1534.0 926.0,1530.0" fill="none" stroke="#000" stroke-width="1.2"/>
<polyline points="920.0,1546.0 912.0,1558.0 908.0,1568.0 920.0,1574.0" fill="none" stroke="#000" stroke-width="1.2"/>
<polyline points="568.0,1600.0 582.0,1576.0 620.0,1571.0 648.0,1573.0 662.0,1567.0 668.0,1580.0 675.0,1600.0" fill="none" stroke="#000" stroke-width="3.4"/>
<polyline points="834.0,1600.0 828.0,1580.0 818.0,1568.0 818.0,1563.0 826.0,1564.0 830.0,1572.0 850.0,1574.0 872.0,1580.0 892.0,1576.0 900.0,1580.0 903.0,1586.0 888.0,1594.0 868.0,1600.0" fill="none" stroke="#000" stroke-width="3.4"/>
<polygon points="598.0,1600.0 602.0,1594.0 612.0,1590.0 622.0,1592.0 628.0,1600.0" fill="#CCFFFF" stroke="#000" stroke-width="1.44"/>
<polyline points="691.0,1566.0 695.0,1566.0 696.0,1570.0 692.0,1571.0 691.0,1566.0" fill="none" stroke="#000" stroke-width="3.4"/>
<polygon points="708.0,1583.0 717.0,1583.0 717.0,1588.0 708.0,1588.0" fill="#FFD5D5" stroke="#000" stroke-width="3.4"/>
<polyline points="834.0,1600.0 832.0,1580.0 833.0,1560.0 828.0,1548.0" fill="none" stroke="#000" stroke-width="1.02"/>
</g>
<g clip-path="url(#c920_1280)">
<polygon points="916.0,1276.0 1006.0,1276.0 1010.0,1290.0 1020.0,1306.0 1032.0,1320.0 1040.0,1328.0 1034.0,1334.0 1028.0,1340.0 1029.0,1360.0 1030.0,1380.0 1026.0,1384.0 1018.0,1376.0 1014.0,1378.0 1008.0,1366.0 1000.0,1358.0 986.0,1358.0 980.0,1354.0 968.0,1348.0 958.0,1336.0 956.0,1330.0 946.0,1320.0 940.0,1312.0 932.0,1300.0 920.0,1288.0 916.0,1286.0" fill="#FFAAAA" stroke="#000" stroke-width="1.2"/>
<polygon points="916.0,1286.0 920.0,1288.0 932.0,1300.0 940.0,1312.0 946.0,1320.0 956.0,1330.0 958.0,1336.0 942.0,1324.0 932.0,1314.0 920.0,1310.0 916.0,1309.0" fill="#FFD5D5" stroke="#000" stroke-width="1.2"/>
<polyline points="916.0,1286.0 920.0,1288.0 932.0,1300.0 940.0,1312.0 946.0,1320.0 956.0,1330.0 958.0,1337.0" fill="none" stroke="#000" stroke-width="2"/>
<polygon points="963.0,1302.0 965.0,1290.0 972.0,1284.0 986.0,1282.0 1000.0,1286.0 1006.0,1296.0 1005.0,1310.0 1000.0,1320.0 990.0,1326.0 980.0,1327.0 970.0,1322.0 965.0,1314.0" fill="#FF5555" stroke="#000" stroke-width="1.8"/>
<polygon points="972.0,1302.0 976.0,1296.0 986.0,1295.0 994.0,1300.0 995.0,1310.0 988.0,1316.0 980.0,1317.0 974.0,1312.0" fill="#FF0000" stroke="#000" stroke-width="1.9"/>
<polygon points="1040.0,1328.0 1052.0,1331.0 1064.0,1332.0 1078.0,1331.0 1081.0,1334.0 1078.0,1340.0 1072.0,1344.0 1074.0,1350.0 1080.0,1354.0 1096.0,1362.0 1112.0,1368.0 1120.0,1374.0 1128.0,1381.0 1128.0,1398.0 1120.0,1398.0 1114.0,1395.0 1112.0,1391.0 1104.0,1392.0 1100.0,1400.0 1096.0,1408.0 1092.0,1416.0 1091.0,1424.0 1096.0,1430.0 1104.0,1434.0 1110.0,1440.0 1111.0,1454.0 1100.0,1457.0 1092.0,1460.0 1092.0,1470.0 1088.0,1480.0 1080.0,1488.0 1078.0,1494.0 1070.0,1497.0 1064.0,1494.0 1063.0,1482.0 1070.0,1476.0 1072.0,1464.0 1080.0,1460.0 1078.0,1450.0 1076.0,1438.0 1070.0,1426.0 1068.0,1416.0 1062.0,1408.0 1056.0,1412.0 1048.0,1404.0 1042.0,1400.0 1040.0,1392.0 1032.0,1384.0 1026.0,1384.0 1030.0,1380.0 1029.0,1360.0 1028.0,1340.0 1034.0,1334.0" fill="#FFD5D5" stroke="#000" stroke-width="1.2"/>
<polyline points="1040.0,1328.0 1034.0,1334.0 1028.0,1340.0 1029.0,1360.0 1030.0,1380.0 1026.0,1384.0 1018.0,1376.0 1014.0,1378.0 1008.0,1366.0" fill="none" stroke="#000" stroke-width="2.2"/>
<polygon points="1128.0,1381.0 1136.0,1384.0 1142.0,1394.0 1150.0,1402.0 1154.0,1406.0 1150.0,1420.0 1144.0,1418.0 1138.0,1410.0 1136.0,1400.0 1128.0,1398.0" fill="#FFFFFF" stroke="#000" stroke-width="1.2"/>
<polyline points="1128.0,1381.0 1128.0,1398.0" fill="none" stroke="#000" stroke-width="2.4"/>
<polyline points="1152.0,1402.0 1154.0,1407.0 1151.0,1412.0" fill="none" stroke="#000" stroke-width="3.4"/>
<polygon points="1080.0,1448.0 1082.0,1438.0 1090.0,1433.0 1100.0,1435.0 1109.0,1440.0 1111.0,1454.0 1100.0,1457.0 1092.0,1460.0 1084.0,1458.0" fill="#FFAAAA" stroke="#000" stroke-width="2"/>
<polygon points="963.0,1498.0 966.0,1490.0 972.0,1488.0 982.0,1490.0 996.0,1492.0 1008.0,1493.0 1022.0,1491.0 1036.0,1487.0 1048.0,1484.0 1062.0,1481.0 1058.0,1490.0 1052.0,1500.0 1048.0,1512.0 1047.0,1524.0 1053.0,1532.0 1048.0,1540.0 1046.0,1547.0 1038.0,1544.0 1029.0,1541.0 1024.0,1534.0 1010.0,1528.0 1000.0,1524.0 986.0,1514.0 972.0,1510.0 964.0,1506.0" fill="#FFFFFF" stroke="#000" stroke-width="1.2"/>
<polygon points="1035.0,1487.4 1048.0,1484.0 1062.0,1481.0 1058.0,1490.0 1052.0,1500.0 1048.0,1512.0 1047.0,1524.0 1053.0,1532.0 1048.0,1540.0 1046.0,1547.0 1038.0,1544.0 1029.0,1541.0 1030.0,1520.0 1032.0,1500.0" fill="#FFD5D5" stroke="#000" stroke-width="1.2"/>
<polyline points="1035.0,1487.4 1032.0,1500.0 1030.0,1520.0 1029.0,1541.0" fill="none" stroke="#000" stroke-width="2.4"/>
<polygon points="983.0,1486.0 991.0,1484.4 993.0,1491.6 984.0,1492.0" fill="#CCFFFF" stroke="#000" stroke-width="1.2"/>
<polyline points="967.0,1490.0 964.4,1498.0 967.0,1507.0" fill="none" stroke="#000" stroke-width="3.4"/>
<polyline points="1026.0,1494.0 1020.0,1496.0 1018.0,1500.0 1024.0,1506.0 1022.0,1512.0 1014.0,1515.0 1004.0,1512.0 1000.0,1508.0 1002.0,1517.0 1000.0,1525.0" fill="none" stroke="#000" stroke-width="3.4"/>
<polyline points="1021.0,1573.0 1024.0,1572.0 1028.0,1576.0 1026.0,1579.0 1022.0,1577.0 1021.0,1573.0" fill="none" stroke="#000" stroke-width="1.08"/>
<polygon points="1116.0,1276.0 1128.0,1286.0 1140.0,1296.0 1154.0,1308.0 1166.0,1316.0 1174.0,1326.0 1180.0,1334.0 1188.0,1338.0 1186.0,1348.0 1184.0,1360.0 1194.0,1362.0 1202.0,1368.0 1203.0,1382.0 1208.0,1390.0 1220.0,1389.0 1229.0,1384.0 1218.0,1380.0 1208.0,1374.0 1204.0,1366.0 1210.0,1358.0 1218.0,1348.0 1216.0,1336.0 1202.0,1334.0 1202.0,1300.0 1208.0,1294.0 1220.0,1308.0 1232.0,1302.0 1240.0,1284.0 1242.0,1276.0" fill="#FFD5D5" stroke="#000" stroke-width="1.2"/>
<polygon points="1202.0,1300.0 1208.0,1306.0 1216.0,1316.0 1220.0,1328.0 1216.0,1336.0 1202.0,1334.0" fill="#FFFFFF" stroke="#000" stroke-width="1.2"/>
<polyline points="1202.0,1334.0 1202.0,1300.0 1208.0,1294.0 1220.0,1308.0 1232.0,1302.0 1240.0,1284.0 1242.0,1276.0" fill="none" stroke="#000" stroke-width="3.4"/>
<polyline points="1184.0,1360.0 1194.0,1362.0 1202.0,1368.0 1203.0,1382.0 1208.0,1390.0 1220.0,1389.0 1229.0,1384.0" fill="none" stroke="#000" stroke-width="2"/>
<polygon points="1234.0,1322.0 1240.0,1319.0 1250.0,1320.0 1256.0,1330.0 1254.0,1342.0 1240.0,1344.0 1235.0,1336.0" fill="#FFD5D5" stroke="#000" stroke-width="2.2"/>
<polygon points="1078.0,1282.0 1082.0,1281.0 1082.4,1284.0 1079.0,1284.4" fill="#FFD5D5" stroke="#000" stroke-width="1.08"/>
<polygon points="1096.0,1286.0 1110.0,1289.0 1110.0,1291.0 1097.0,1288.4" fill="#FFD5D5" stroke="#000" stroke-width="1.08"/>
<polygon points="1118.0,1294.0 1130.0,1297.0 1129.0,1299.0 1118.0,1296.4" fill="#FFD5D5" stroke="#000" stroke-width="1.08"/>
<polygon points="1153.0,1309.0 1160.0,1310.0 1159.6,1312.0 1153.6,1311.0" fill="#FFD5D5" stroke="#000" stroke-width="1.08"/>
<polyline points="1184.0,1360.0 1180.0,1374.0 1182.0,1386.0 1179.0,1394.0 1184.0,1398.0 1186.0,1404.0 1198.0,1414.0 1204.0,1424.0 1190.0,1422.0 1198.0,1434.0 1204.0,1436.0 1208.0,1428.0 1216.0,1440.0 1224.0,1450.0 1236.0,1452.0 1235.0,1458.0 1228.0,1456.0 1226.0,1468.0 1236.0,1480.0 1248.0,1480.0 1260.0,1476.0 1286.0,1474.0" fill="none" stroke="#000" stroke-width="1.2"/>
<polyline points="1248.0,1480.0 1242.0,1488.0 1244.0,1498.0 1252.0,1508.0 1260.0,1518.0 1254.0,1522.0 1250.0,1532.0 1256.0,1540.0 1260.0,1534.0 1268.0,1532.0 1274.0,1540.0 1278.0,1552.0 1286.0,1560.0" fill="none" stroke="#000" stroke-width="1.2"/>
<polyline points="1220.0,1389.0 1214.0,1408.0 1210.0,1420.0 1208.0,1428.0" fill="none" stroke="#000" stroke-width="1.02"/>
<polyline points="1166.0,1316.0 1180.0,1304.0 1190.0,1300.0 1184.0,1316.0 1180.0,1334.0" fill="none" stroke="#000" stroke-width="1.02"/>
<polyline points="1190.0,1300.0 1200.0,1292.0 1204.0,1286.0 1208.0,1294.0" fill="none" stroke="#000" stroke-width="1.02"/>
<polyline points="1216.0,1336.0 1224.0,1334.0 1232.0,1318.0 1260.0,1314.0 1280.0,1318.0" fill="none" stroke="#000" stroke-width="1.02"/>
<polyline points="1218.0,1348.0 1224.0,1368.0 1240.0,1374.0 1260.0,1376.0" fill="none" stroke="#000" stroke-width="1.02"/>
<polyline points="1252.0,1276.0 1251.0,1296.0 1260.0,1306.0 1263.0,1320.0 1264.0,1336.0 1258.0,1348.0 1244.0,1358.0 1238.0,1366.0 1240.0,1374.0 1232.0,1392.0 1226.0,1408.0 1222.0,1426.0 1240.0,1430.0 1248.0,1444.0 1250.0,1460.0 1244.0,1476.0" fill="none" stroke="#000" stroke-width="3.4"/>
<polyline points="1278.0,1276.0 1278.0,1292.0 1286.0,1300.0" fill="none" stroke="#000" stroke-width="3.4"/>
<polyline points="1252.0,1517.0 1264.0,1520.0 1286.0,1530.0" fill="none" stroke="#000" stroke-width="3.4"/>
<polygon points="1218.0,1460.0 1223.0,1458.0 1222.0,1470.0 1219.0,1469.0" fill="#000" stroke="#000" stroke-width="1.2"/>
<polygon points="1213.0,1486.0 1218.0,1476.0 1224.0,1480.0 1226.0,1490.0 1218.0,1489.0" fill="#FFD5D5" stroke="#000" stroke-width="1.2"/>
<polygon points="1220.0,1499.0 1224.0,1497.0 1231.0,1504.0 1227.0,1506.0" fill="#FFFFFF" stroke="#000" stroke-width="1.9"/>
<polygon points="1237.0,1497.0 1246.0,1494.0 1248.0,1498.0 1242.0,1501.0" fill="#CCFFFF" stroke="#000" stroke-width="1.9"/>
<polygon points="1264.0,1360.0 1272.0,1350.0 1286.0,1346.0 1286.0,1390.0 1274.0,1386.0 1266.0,1376.0" fill="#CCFFFF" stroke="#000" stroke-width="2.2"/>
<polygon points="1235.0,1398.0 1239.0,1391.0 1246.0,1390.0 1250.0,1396.0 1248.0,1404.0 1241.0,1406.0 1236.0,1403.0" fill="#CCFFFF" stroke="#000" stroke-width="2.2"/>
<polygon points="1258.0,1418.0 1270.0,1408.0 1286.0,1402.0 1286.0,1446.0 1272.0,1442.0 1262.0,1434.0" fill="#CCFFFF" stroke="#000" stroke-width="2.2"/>
<polygon points="1256.0,1488.0 1264.0,1482.0 1272.0,1486.0 1276.0,1500.0 1286.0,1506.0 1286.0,1518.0 1276.0,1517.0 1268.0,1510.0 1262.0,1498.0" fill="#CCFFFF" stroke="#000" stroke-width="2.2"/>
<polyline points="1190.0,1420.0 1196.0,1418.0 1200.0,1424.0 1198.0,1434.0 1202.0,1436.0" fill="none" stroke="#000" stroke-width="1.2"/>
</g>
<g clip-path="url(#c1280_1280)">
<polygon points="1276.0,1355.0 1291.0,1355.6 1299.4,1348.4 1302.0,1357.0 1314.0,1362.0 1330.0,1356.0 1346.0,1338.0 1356.0,1328.0 1376.0,1326.0 1390.0,1330.0 1398.0,1346.0 1404.0,1360.0 1402.0,1368.0 1398.0,1376.0 1392.0,1378.0 1376.0,1374.0 1360.0,1370.0 1346.0,1374.0 1334.0,1384.0 1320.0,1380.0 1318.0,1386.0 1324.0,1396.0 1338.0,1404.0 1340.0,1408.0 1328.0,1402.0 1318.0,1398.0 1308.0,1404.0 1300.0,1396.0 1300.0,1387.0 1292.0,1388.0 1284.0,1396.0 1288.0,1412.0 1294.0,1432.0 1306.0,1442.0 1300.0,1450.0 1288.0,1450.0 1276.0,1448.0" fill="#CCFFFF" stroke="#000" stroke-width="1.44"/>
<polygon points="1411.0,1276.0 1408.0,1296.0 1400.0,1306.0 1399.0,1322.0 1404.0,1330.0 1414.0,1338.0 1420.0,1350.0 1428.0,1360.0 1436.0,1366.0 1454.0,1368.0 1476.0,1372.0 1486.0,1370.0 1488.0,1361.0 1476.0,1358.0 1462.0,1350.0 1454.0,1338.0 1451.0,1328.0 1446.0,1316.0 1438.0,1308.0 1442.0,1300.0 1450.0,1292.0 1451.0,1276.0" fill="#CCFFFF" stroke="#000" stroke-width="1.44"/>
<polyline points="1410.0,1276.0 1408.0,1296.0 1400.0,1306.0 1399.0,1322.0 1408.0,1332.0 1416.0,1342.0 1420.0,1356.0 1428.0,1366.0 1434.0,1368.0" fill="none" stroke="#000" stroke-width="2.4"/>
<polygon points="1488.0,1361.0 1506.0,1363.0 1520.0,1362.0 1530.0,1364.0 1546.0,1367.0 1558.0,1364.0 1564.0,1356.0 1580.0,1348.0 1592.0,1338.0 1606.0,1334.0 1606.0,1532.0 1584.0,1520.0 1560.0,1508.0 1546.0,1498.0 1532.0,1494.0 1520.0,1496.0 1506.0,1488.0 1496.0,1476.0 1488.0,1466.0 1478.0,1462.0 1466.0,1464.0 1452.0,1464.0 1444.0,1454.0 1436.0,1440.0 1430.0,1420.0 1434.0,1408.0 1440.0,1398.0 1454.0,1396.0 1472.0,1395.0 1484.0,1396.0 1488.0,1392.0 1480.0,1390.0 1482.0,1386.0 1500.0,1383.0 1514.0,1382.0 1500.0,1381.0 1488.0,1376.0 1486.0,1370.0" fill="#CCFFFF" stroke="#000" stroke-width="1.44"/>
<polyline points="1440.0,1398.0 1434.0,1408.0 1430.0,1420.0 1436.0,1440.0 1444.0,1454.0 1452.0,1464.0 1466.0,1464.0 1478.0,1462.0 1488.0,1466.0 1496.0,1476.0 1506.0,1488.0 1520.0,1496.0 1532.0,1494.0 1546.0,1498.0 1560.0,1508.0 1584.0,1520.0 1606.0,1532.0" fill="none" stroke="#000" stroke-width="2.4"/>
<polygon points="1494.0,1444.0 1500.0,1432.0 1516.0,1424.0 1530.0,1410.0 1542.0,1403.0 1556.0,1404.0 1566.0,1407.0 1576.0,1400.0 1588.0,1386.0 1606.0,1381.0 1606.0,1510.0 1592.0,1504.0 1580.0,1490.0 1570.0,1472.0 1560.0,1464.0 1548.0,1466.0 1534.0,1469.0 1520.0,1468.0 1506.0,1462.0 1498.0,1454.0" fill="#66FFFF" stroke="#000" stroke-width="2.4"/>
<polygon points="1505.0,1366.0 1519.0,1366.0 1516.0,1376.0 1506.0,1375.0" fill="#66FFFF" stroke="#000" stroke-width="1.8"/>
<polygon points="1504.0,1564.0 1509.0,1554.0 1518.0,1549.0 1526.0,1551.0 1530.0,1560.0 1528.0,1563.0 1516.0,1562.0 1506.0,1566.0" fill="#CCFFFF" stroke="#000" stroke-width="2.4"/>
<polygon points="1572.0,1544.0 1580.0,1541.0 1586.0,1546.0 1582.0,1551.0 1575.0,1549.0" fill="#FFD5D5" stroke="#000" stroke-width="1.8"/>
<polyline points="1552.0,1538.0 1556.0,1528.0 1568.0,1526.0 1586.0,1529.0 1606.0,1536.0" fill="none" stroke="#000" stroke-width="3.4"/>
<polyline points="1598.0,1556.0 1596.0,1564.0 1600.0,1568.0" fill="none" stroke="#000" stroke-width="3.4"/>
<polygon points="1516.0,1508.0 1520.0,1502.0 1524.0,1508.0 1520.0,1514.0" fill="#CCFFFF" stroke="#000" stroke-width="2.4"/>
<polyline points="1277.8,1280.4 1285.0,1276.2 1319.6,1280.4 1360.0,1286.2 1384.6,1287.6 1386.0,1297.8 1380.2,1309.4 1360.0,1315.2 1342.6,1320.8 1339.8,1332.4 1328.2,1346.8 1316.8,1348.4 1299.4,1335.4 1285.0,1312.2 1277.8,1297.8 1277.8,1280.4" fill="none" stroke="#000" stroke-width="3.4"/>
<polygon points="1292.0,1294.0 1306.0,1290.0 1310.0,1294.0 1320.0,1288.0 1340.0,1287.0 1358.0,1290.0 1372.0,1298.0 1368.0,1306.0 1356.0,1310.0 1340.0,1313.0 1332.0,1318.0 1330.0,1332.0 1322.0,1340.0 1310.0,1338.0 1300.0,1328.0 1294.0,1312.0" fill="#FFD5D5" stroke="#000" stroke-width="1.8"/>
<polygon points="1307.0,1320.0 1315.0,1312.0 1320.0,1316.0 1322.0,1323.0 1316.0,1328.0" fill="#FFAAAA" stroke="#000" stroke-width="1.9"/>
<polyline points="1276.0,1280.0 1288.0,1284.0 1290.0,1304.0 1296.0,1320.0 1306.0,1332.0" fill="none" stroke="#000" stroke-width="1.44"/>
<polygon points="1434.0,1368.0 1450.0,1366.0 1484.0,1370.0 1488.0,1376.0 1500.0,1381.0 1514.0,1382.0 1500.0,1384.0 1482.0,1386.0 1480.0,1390.0 1488.0,1394.0 1484.0,1397.0 1472.0,1395.0 1454.0,1396.0 1440.0,1399.0 1436.0,1388.0 1432.0,1380.0" fill="#FFFFFF" stroke="#000" stroke-width="1.2"/>
<polyline points="1434.0,1367.0 1450.0,1365.6 1484.0,1369.6" fill="none" stroke="#000" stroke-width="3.4"/>
<polygon points="1444.0,1390.0 1454.0,1391.0 1450.0,1397.0" fill="#000" stroke="#000" stroke-width="1.2"/>
<polyline points="1392.0,1376.0 1394.0,1384.0 1408.0,1386.0 1420.0,1384.0 1432.0,1380.0" fill="none" stroke="#000" stroke-width="1.2"/>
<polyline points="1396.0,1398.0 1408.0,1394.0 1416.0,1402.0 1418.0,1418.0 1416.0,1430.0" fill="none" stroke="#000" stroke-width="3.4"/>
<polyline points="1394.0,1432.0 1416.0,1430.0" fill="none" stroke="#000" stroke-width="3.4"/>
<polyline points="1396.0,1398.0 1395.0,1420.0 1394.0,1432.0" fill="none" stroke="#000" stroke-width="1.2"/>
<polyline points="1412.0,1440.0 1418.0,1434.0" fill="none" stroke="#000" stroke-width="3.4"/>
<polyline points="1416.0,1432.0 1408.0,1440.0 1418.0,1446.0 1424.0,1456.0 1416.0,1460.0 1420.0,1470.0 1426.0,1472.0 1420.0,1478.0 1428.0,1492.0 1430.0,1506.0 1428.0,1518.0 1438.0,1526.0 1432.0,1534.0 1456.0,1532.0 1460.0,1540.0 1468.0,1538.0 1480.0,1544.0 1488.0,1556.0 1504.0,1564.0 1528.0,1563.0 1536.0,1540.0 1552.0,1538.0 1568.0,1544.0 1584.0,1552.0 1592.0,1560.0 1600.0,1568.0" fill="none" stroke="#000" stroke-width="1.2"/>
<polyline points="1430.0,1506.0 1440.0,1498.0 1446.0,1488.0 1456.0,1485.0 1464.0,1490.0 1466.0,1504.0 1464.0,1518.0 1458.0,1530.0" fill="none" stroke="#000" stroke-width="3.4"/>
<polyline points="1430.0,1466.0 1434.0,1460.0 1440.0,1468.0 1438.0,1477.0 1432.0,1478.0 1430.0,1466.0" fill="none" stroke="#000" stroke-width="3.4"/>
<polygon points="1386.0,1442.0 1396.0,1438.0 1404.0,1442.0 1408.0,1450.0 1400.0,1454.0 1392.0,1450.0" fill="#FFFFFF" stroke="#000" stroke-width="1.44"/>
<polyline points="1392.0,1450.0 1400.0,1454.0 1408.0,1450.0" fill="none" stroke="#000" stroke-width="3.4"/>
<polyline points="1276.0,1400.0 1284.0,1396.0 1292.0,1388.0 1300.0,1387.0 1300.0,1396.0 1308.0,1404.0 1318.0,1398.0 1328.0,1402.0 1340.0,1408.0" fill="none" stroke="#000" stroke-width="1.2"/>
<polygon points="1344.0,1381.0 1349.0,1379.0 1352.0,1384.0 1348.0,1389.0 1344.0,1386.0" fill="#CCFFFF" stroke="#000" stroke-width="1.44"/>
<polygon points="1373.0,1392.0 1380.0,1391.0 1381.0,1395.0 1374.0,1396.0" fill="#000" stroke="#000" stroke-width="1.2"/>
<polygon points="1380.0,1404.0 1389.0,1402.0 1390.0,1407.0 1381.0,1408.0" fill="#000" stroke="#000" stroke-width="1.2"/>
<polygon points="1306.0,1402.0 1312.0,1408.0 1318.0,1416.0 1312.0,1414.0 1306.0,1408.0" fill="#000" stroke="#000" stroke-width="1.2"/>
<polygon points="1321.0,1406.0 1327.0,1408.0 1328.0,1414.0 1322.0,1411.0" fill="#000" stroke="#000" stroke-width="1.2"/>
<polyline points="1360.0,1412.0 1372.0,1411.0 1370.0,1420.0 1362.0,1419.0 1360.0,1412.0" fill="none" stroke="#000" stroke-width="1.2"/>
<polyline points="1314.0,1446.0 1319.0,1445.0 1321.0,1450.0 1316.0,1449.0 1314.0,1446.0" fill="none" stroke="#000" stroke-width="1.2"/>
<polyline points="1341.0,1456.0 1345.0,1454.0 1349.0,1462.0 1344.0,1463.0 1341.0,1456.0" fill="none" stroke="#000" stroke-width="1.2"/>
<polyline points="1384.0,1472.0 1394.0,1470.0 1396.0,1478.0 1392.0,1486.0 1386.0,1488.0 1388.0,1480.0 1384.0,1472.0" fill="none" stroke="#000" stroke-width="1.2"/>
<polyline points="1402.0,1468.0 1408.0,1466.0 1412.0,1476.0 1420.0,1478.0 1412.0,1482.0 1404.0,1478.0 1402.0,1468.0" fill="none" stroke="#000" stroke-width="1.2"/>
<polygon points="1399.0,1480.0 1403.0,1480.0 1403.0,1485.0 1399.4,1485.0" fill="#000" stroke="#000" stroke-width="1.2"/>
<polyline points="1349.0,1496.0 1353.0,1494.0 1360.0,1504.0 1366.0,1510.0 1360.0,1512.0 1354.0,1504.0 1349.0,1496.0" fill="none" stroke="#000" stroke-width="1.2"/>
<polyline points="1336.0,1507.0 1339.0,1505.0 1340.0,1512.0 1337.0,1513.0 1336.0,1507.0" fill="none" stroke="#000" stroke-width="1.2"/>
<polyline points="1338.0,1516.0 1341.0,1515.0 1342.4,1520.0 1339.4,1521.0 1338.0,1516.0" fill="none" stroke="#000" stroke-width="1.2"/>
<polyline points="1389.0,1512.0 1400.0,1506.0 1402.0,1508.0 1392.0,1513.0 1389.0,1512.0" fill="none" stroke="#000" stroke-width="1.2"/>
<polyline points="1408.0,1503.0 1418.0,1500.0 1424.0,1504.0 1416.0,1508.0 1408.0,1503.0" fill="none" stroke="#000" stroke-width="1.2"/>
<polyline points="1362.0,1529.0 1366.0,1527.0 1368.0,1531.0 1364.0,1533.0 1362.0,1529.0" fill="none" stroke="#000" stroke-width="1.9"/>
<polyline points="1371.0,1528.0 1376.0,1525.0 1378.0,1532.0 1374.0,1537.0 1371.0,1528.0" fill="none" stroke="#000" stroke-width="1.2"/>
<polyline points="1337.0,1544.0 1344.0,1542.0 1345.0,1546.0 1338.0,1547.0 1337.0,1544.0" fill="none" stroke="#000" stroke-width="1.2"/>
<polyline points="1366.0,1542.0 1370.0,1541.0 1372.0,1546.0 1368.0,1547.0 1366.0,1542.0" fill="none" stroke="#000" stroke-width="1.2"/>
<polyline points="1398.0,1549.0 1403.0,1547.0 1405.0,1550.0 1400.0,1552.4 1398.0,1549.0" fill="none" stroke="#000" stroke-width="1.2"/>
<polyline points="1418.0,1531.0 1422.0,1530.0 1423.6,1535.0 1420.0,1536.0 1418.0,1531.0" fill="none" stroke="#000" stroke-width="1.9"/>
<polyline points="1420.0,1542.0 1428.0,1537.0 1432.0,1538.0 1424.0,1543.0 1420.0,1542.0" fill="none" stroke="#000" stroke-width="2.2"/>
<polyline points="1434.0,1544.0 1446.0,1542.0 1456.0,1543.0 1446.0,1546.0 1434.0,1544.0" fill="none" stroke="#000" stroke-width="2.2"/>
<polyline points="1444.0,1566.0 1452.0,1557.0 1461.0,1554.0 1456.0,1566.0 1448.0,1576.0 1444.0,1572.0 1444.0,1566.0" fill="none" stroke="#000" stroke-width="1.2"/>
<polyline points="1424.0,1588.0 1428.0,1579.0 1429.0,1590.0 1426.0,1595.0 1424.0,1588.0" fill="none" stroke="#000" stroke-width="1.2"/>
<polyline points="1292.0,1559.0 1296.0,1556.0 1300.0,1563.0 1296.0,1567.0 1292.0,1559.0" fill="none" stroke="#000" stroke-width="1.2"/>
<polyline points="1280.0,1452.0 1288.0,1456.0 1304.0,1460.0 1306.0,1470.0 1312.0,1476.0 1330.0,1466.0 1334.0,1480.0 1340.0,1488.0 1344.0,1492.0" fill="none" stroke="#000" stroke-width="1.2"/>
<polyline points="1288.0,1480.0 1296.0,1466.0 1306.0,1460.0" fill="none" stroke="#000" stroke-width="3.4"/>
<polyline points="1276.0,1488.0 1292.0,1492.0 1302.0,1500.0 1310.0,1506.0 1306.0,1514.0 1294.0,1512.0 1286.0,1516.0 1276.0,1514.0" fill="none" stroke="#000" stroke-width="1.2"/>
<polyline points="1292.0,1492.0 1298.0,1506.0 1302.0,1518.0" fill="none" stroke="#000" stroke-width="3.4"/>
<polyline points="1276.0,1530.0 1286.0,1538.0 1292.0,1546.0 1300.0,1554.0" fill="none" stroke="#000" stroke-width="1.2"/>
<polygon points="1305.0,1487.0 1308.0,1487.0 1308.0,1489.6 1305.0,1489.6" fill="#000" stroke="#000" stroke-width="1.2"/>
<polygon points="1321.0,1486.0 1325.0,1486.0 1325.0,1490.0 1321.0,1490.0" fill="#000" stroke="#000" stroke-width="1.2"/>
<polyline points="1312.0,1600.0 1314.0,1590.0 1319.0,1586.0 1323.0,1591.0 1332.0,1588.0 1334.0,1594.0 1346.0,1596.0 1360.0,1597.0 1380.0,1598.0" fill="none" stroke="#000" stroke-width="1.2"/>
<polyline points="1276.0,1420.0 1286.0,1432.0 1292.0,1444.0 1290.0,1454.0" fill="none" stroke="#000" stroke-width="1.2"/>
<polygon points="1276.0,1504.0 1284.0,1506.0 1286.0,1516.0 1276.0,1518.0" fill="#CCFFFF" stroke="#000" stroke-width="1.44"/>
</g>
<g clip-path="url(#c800_540)">
<rect x="799" y="539" width="242" height="242" fill="#FFFFFF"/>
<polygon points="938.7,537.3 940.0,548.0 945.3,556.0 946.7,566.7 950.7,569.3 953.3,580.0 960.0,596.0 966.7,602.7 969.3,610.7 977.3,614.7 976.0,622.7 969.3,625.3 973.3,633.3 965.3,633.3 972.0,646.7 977.3,660.0 981.3,668.0 978.7,676.0 980.0,682.7 989.3,685.3 1000.0,682.7 1013.3,678.7 1018.7,673.3 1020.0,668.0 1017.3,660.0 1021.3,654.7 1026.7,646.7 1033.3,642.7 1040.0,640.0 1053.3,638.7 1053.3,537.3" fill="#FFAAAA" stroke="#000" stroke-width="1.2"/>
<polygon points="1014.7,682.7 1018.7,673.3 1022.7,674.7 1018.7,683.3" fill="#FFD5D5" stroke="#000" stroke-width="2.2"/>
<polygon points="1032.0,645.3 1034.7,644.7 1035.3,648.0 1032.7,648.7" fill="#FFD5D5" stroke="#000" stroke-width="1.2"/>
<polygon points="1034.7,690.7 1040.0,693.3 1042.7,702.7 1033.3,698.7" fill="#FFD5D5" stroke="#000" stroke-width="1.2"/>
<polygon points="905.3,548.7 900.0,554.7 885.3,558.7 880.0,564.0 874.7,576.0 866.7,582.7 853.3,584.0 842.7,586.0 837.3,593.3 830.7,604.0 827.3,617.3 826.7,628.0 827.3,646.7 827.3,664.0 826.0,672.0 829.3,676.0 833.3,673.3 837.3,678.7 844.0,681.3 856.0,680.7 869.3,678.7 877.3,676.0 880.0,672.0 877.3,668.0 882.7,661.3 885.3,657.3 886.7,650.7 885.3,641.3 890.7,636.0 897.3,638.7 901.3,633.3 905.3,636.0 908.0,638.7 913.3,632.0 916.0,624.0 913.3,620.0 906.7,621.3 900.0,622.7 896.0,617.3 897.3,612.0 895.3,606.7 894.7,593.3 897.3,582.7 901.3,568.0 902.7,560.0" fill="#FFAAAA" stroke="#000" stroke-width="1.2"/>
<polyline points="900.0,556.0 902.7,566.7 902.0,580.0" fill="none" stroke="#000" stroke-width="2.2"/>
<polyline points="882.7,612.7 893.3,609.3" fill="none" stroke="#000" stroke-width="2.2"/>
<polyline points="892.0,621.3 896.0,617.3 901.3,624.0 913.3,620.0" fill="none" stroke="#000" stroke-width="2.2"/>
<polygon points="844.0,596.0 850.7,593.3 858.7,589.3 862.7,593.3 860.0,600.0 858.7,604.0 853.3,602.7 849.3,608.0 845.3,614.7 846.0,620.0 841.3,618.7 837.3,613.3 830.0,612.0 832.0,609.3 837.3,606.7 840.0,602.7" fill="#FFFFFF" stroke="#000" stroke-width="1.08"/>
<polygon points="844.7,598.7 849.3,596.0 850.0,601.3 846.7,606.7 842.7,609.3 844.0,602.7" fill="#FFAAAA" stroke="#000" stroke-width="1.08"/>
<polygon points="856.0,614.7 861.3,610.7 865.3,614.7 864.0,618.7 860.0,616.0" fill="#FFFFFF" stroke="#000" stroke-width="1.08"/>
<polygon points="827.3,625.3 833.3,624.0 838.7,628.0 841.3,638.7 841.3,650.7 838.7,660.0 834.7,664.0 828.0,664.0" fill="#FFD5D5" stroke="#000" stroke-width="2.4"/>
<polygon points="828.7,645.3 832.0,646.7 835.3,653.3 833.3,658.7 828.7,658.7" fill="#FFFFFF" stroke="#000" stroke-width="1.2"/>
<polygon points="826.0,672.0 829.3,676.0 833.3,673.3 832.0,672.0 828.7,671.3" fill="#FFD5D5" stroke="#000" stroke-width="1.2"/>
<polygon points="844.0,681.3 856.0,680.7 869.3,678.7 877.3,676.0 874.7,684.0 877.3,692.0 872.0,696.0 870.7,700.0 874.7,704.0 877.3,708.0 874.7,712.0 869.3,709.3 860.0,704.0 850.7,696.0 846.7,688.0" fill="#FFD5D5" stroke="#000" stroke-width="1.2"/>
<polygon points="844.7,684.0 843.3,689.3 844.0,700.0 844.0,710.7 845.3,716.0 849.3,722.7 853.3,730.7 852.0,740.0 844.0,740.0 842.7,744.0 849.3,745.3 850.7,752.0 860.0,753.3 872.0,754.7 882.7,756.0 890.7,761.3 896.0,769.3 898.7,777.3 899.3,793.3 1053.3,793.3 1053.3,753.3 1040.0,756.0 1026.7,761.3 1016.0,764.0 1008.0,758.7 1004.0,750.7 993.3,748.0 985.3,745.3 980.0,738.7 972.0,736.0 964.0,737.3 960.0,744.0 953.3,748.0 946.7,750.7 937.3,753.3 933.3,761.3 925.3,762.7 922.7,758.7 917.3,760.0 913.3,764.0 910.7,758.7 916.0,753.3 920.0,749.3 920.0,742.7 917.3,740.0 910.7,742.7 904.0,739.3 893.3,738.7 885.3,737.3 882.7,732.0 878.7,720.0 874.7,712.0 869.3,709.3 858.7,702.7 849.3,694.7" fill="#FFAAAA" stroke="#000" stroke-width="1.2"/>
<polyline points="837.3,678.7 844.0,681.3 856.0,680.7 869.3,678.7 877.3,676.0 880.0,672.0" fill="none" stroke="#000" stroke-width="2.2"/>
<polyline points="844.7,684.0 849.3,694.7 858.7,702.7 869.3,709.3 874.7,712.0 878.7,720.0 882.7,732.0 885.3,737.3" fill="none" stroke="#000" stroke-width="2.4"/>
<polygon points="849.3,756.0 850.7,752.0 860.0,753.3 872.0,754.7 882.7,756.0 890.7,761.3 896.0,769.3 898.7,777.3 899.3,793.3 837.3,793.3 838.7,780.0 840.0,773.3 844.0,766.7 850.7,761.3" fill="#FFD5D5" stroke="#000" stroke-width="1.2"/>
<polyline points="850.7,752.0 860.0,753.3 872.0,754.7 882.7,756.0 890.7,761.3 896.0,769.3 898.7,777.3 899.3,793.3" fill="none" stroke="#000" stroke-width="2.4"/>
<polygon points="797.3,778.7 822.7,774.7 825.3,780.0 826.0,793.3 797.3,793.3" fill="#FFD5D5" stroke="#000" stroke-width="1.2"/>
<polygon points="877.3,713.3 882.7,716.0 886.7,722.7 885.3,729.3 881.3,726.7 878.7,720.0" fill="#FFD5D5" stroke="#000" stroke-width="1.2"/>
<polygon points="884.0,734.7 893.3,736.0 904.0,739.3 893.3,738.7 885.3,737.3" fill="#FFD5D5" stroke="#000" stroke-width="1.2"/>
<polyline points="938.7,752.3 953.3,749.6" fill="none" stroke="#000" stroke-width="2.8"/>
<polyline points="882.7,736.0 893.3,737.3" fill="none" stroke="#000" stroke-width="2.5"/>
<polyline points="922.7,762.7 934.7,761.3" fill="none" stroke="#000" stroke-width="2.5"/>
<polygon points="952.0,764.0 961.3,764.0 961.3,766.4 952.0,766.4" fill="#000" stroke="#000" stroke-width="1.2"/>
<polygon points="961.3,744.0 965.3,737.3 972.0,736.7 978.7,738.7 966.7,739.3 962.7,743.3" fill="#FFFFFF" stroke="#000" stroke-width="1.08"/>
<polygon points="1009.3,765.3 1018.7,766.7 1026.7,764.0 1025.3,772.0 1018.7,777.3 1012.0,773.3" fill="#FFFFFF" stroke="#000" stroke-width="1.08"/>
<polygon points="1026.7,764.0 1040.0,758.7 1042.7,766.7 1032.0,769.3" fill="#FFD5D5" stroke="#000" stroke-width="1.2"/>
<polygon points="837.3,696.0 841.3,693.3 843.3,697.3 840.0,701.3" fill="#FFD5D5" stroke="#000" stroke-width="1.2"/>
<polygon points="836.0,718.7 840.0,717.3 841.3,721.3 837.3,722.7" fill="#FFD5D5" stroke="#000" stroke-width="1.2"/>
<polyline points="832.0,712.0 834.7,702.7 842.7,700.0 842.7,710.7 832.0,712.0" fill="none" stroke="#000" stroke-width="1.2"/>
<polygon points="880.0,676.0 893.3,672.0 898.7,673.3 901.3,680.0 906.7,681.3 905.3,672.0 910.7,680.0 912.0,690.7 910.7,697.3 906.7,702.7 901.3,704.0 893.3,698.7 885.3,690.7 882.7,684.0" fill="#FFD5D5" stroke="#000" stroke-width="1.2"/>
<polygon points="898.7,696.0 904.0,690.7 910.7,688.0 912.0,694.7 908.0,701.3 902.7,702.7" fill="#FFAAAA" stroke="#000" stroke-width="1.2"/>
<polyline points="898.0,698.0 902.7,692.0 910.7,688.0" fill="none" stroke="#000" stroke-width="2.8"/>
<polygon points="874.7,702.7 880.0,701.3 886.7,706.7 888.0,712.0 882.7,710.7 877.3,708.0" fill="#FFD5D5" stroke="#000" stroke-width="1.2"/>
<polygon points="892.0,708.0 896.0,710.7 899.3,714.7 897.3,714.7 893.3,711.3" fill="#000" stroke="#000" stroke-width="1.2"/>
<polygon points="908.0,717.3 910.7,708.0 914.7,697.3 916.0,698.7 913.3,709.3 910.0,719.3" fill="#FFAAAA" stroke="#000" stroke-width="1.2"/>
<polygon points="902.7,704.7 906.0,704.0 906.7,706.7 904.0,707.3" fill="#FFAAAA" stroke="#000" stroke-width="1.2"/>
<polygon points="886.0,640.0 890.0,637.3 893.3,642.7 892.7,652.0 889.3,656.0 886.7,650.7" fill="#FFFFFF" stroke="#000" stroke-width="2.6"/>
<polygon points="902.7,650.7 905.3,656.0 906.0,661.3 902.7,662.0" fill="#FFD5D5" stroke="#000" stroke-width="1.2"/>
<polygon points="883.3,660.0 887.3,658.7 886.7,664.0 883.3,666.0" fill="#FFD5D5" stroke="#000" stroke-width="1.2"/>
<polygon points="914.0,576.7 923.3,573.3 920.0,578.0 916.0,579.3" fill="#FFD5D5" stroke="#000" stroke-width="1.2"/>
<polygon points="914.7,664.7 920.0,666.0 926.7,662.7 932.0,656.0 938.7,653.3 941.3,660.0 943.3,666.7 945.3,657.3 948.0,649.3 952.0,646.7 960.0,642.7 966.7,646.7 965.3,654.7 968.0,662.7 964.0,670.7 957.3,676.0 960.0,682.7 962.7,688.0 954.7,693.3 950.7,696.0 953.3,702.7 950.7,706.7 944.0,704.0 941.3,697.3 933.3,693.3 925.3,693.3 922.7,680.0 920.0,669.3" fill="#FFAAAA" stroke="#000" stroke-width="1.2"/>
<polygon points="946.7,650.7 950.7,648.0 949.3,662.7 952.0,666.7 948.0,668.0 946.7,660.0" fill="#FFFFFF" stroke="#000" stroke-width="1.08"/>
<polyline points="926.7,650.7 933.3,654.0 940.0,653.3" fill="none" stroke="#000" stroke-width="2.2"/>
<polygon points="917.3,712.0 920.0,708.7 925.3,707.3 930.7,710.7 936.0,714.7 940.0,712.0 941.3,708.0 946.7,710.7 953.3,713.3 960.0,705.3 965.3,704.0 966.0,706.7 960.0,709.3 954.7,713.3 950.7,720.0 947.3,728.0 945.3,722.7 944.0,718.7 936.0,720.0 933.3,725.3 928.0,722.7 924.0,718.7 920.0,717.3" fill="#FFAAAA" stroke="#000" stroke-width="1.2"/>
<polygon points="918.7,732.0 922.7,730.7 926.7,736.0 922.7,737.3 918.7,736.0" fill="#FFD5D5" stroke="#000" stroke-width="1.2"/>
<polygon points="985.3,725.3 989.3,722.7 1000.0,726.7 1001.3,732.0 997.3,737.3 1002.7,740.0 998.7,744.0 993.3,742.7 989.3,738.7 986.7,733.3 988.0,729.3" fill="#FFAAAA" stroke="#000" stroke-width="1.2"/>
</g>
<g clip-path="url(#c680_900)">
<rect x="679" y="899" width="242" height="242" fill="#FFAAAA"/>
<polygon points="677.3,897.3 806.7,897.3 808.7,910.7 810.7,922.7 814.7,934.7 820.0,944.0 821.3,956.0 825.3,962.7 833.3,966.7 842.7,970.7 849.3,977.3 852.0,986.7 850.0,998.7 845.3,1009.3 837.3,1013.3 826.7,1014.0 820.0,1014.7 821.3,1030.7 823.3,1046.7 822.0,1055.3 817.3,1059.3 811.3,1053.3 805.3,1048.0 797.3,1045.3 784.0,1043.3 770.7,1042.7 760.0,1038.7 754.7,1033.3 744.0,1034.7 733.3,1037.3 724.0,1038.7 716.0,1036.0 709.3,1028.0 704.0,1016.0 697.3,1012.0 688.0,1010.7 677.3,1008.0" fill="#FFD5D5" stroke="#000" stroke-width="2.4"/>
<polygon points="702.7,966.7 712.0,962.7 720.0,960.0 725.3,956.0 728.0,948.0 733.3,941.3 740.0,938.7 749.3,939.3 757.3,942.7 764.0,949.3 761.3,961.3 756.0,976.0 748.0,989.3 744.7,997.3 748.0,1002.7 757.3,1002.0 766.7,996.0 774.7,992.0 782.7,989.3 793.3,989.3 804.0,992.0 813.3,996.0 818.7,1002.7 820.7,1010.7 820.0,1014.7 810.7,1016.0 800.0,1020.0 790.7,1024.0 781.3,1025.3 772.0,1023.3 762.7,1022.7 756.0,1024.0 750.7,1018.7 746.7,1010.7 741.3,1005.3 733.3,1002.7 722.7,1002.7 713.3,1001.3 708.0,994.7 704.0,980.0" fill="#FFAAAA" stroke="#000" stroke-width="2.4"/>
<polygon points="764.0,949.3 776.0,942.7 785.3,939.3 793.3,940.0 798.7,945.3 800.0,953.3 803.3,957.3 800.0,962.0 792.0,964.7 781.3,964.0 773.3,962.0 766.7,962.7 762.0,964.0" fill="#FFAAAA" stroke="#000" stroke-width="2.4"/>
<polygon points="824.0,933.3 828.0,922.7 837.3,914.7 848.0,911.3 858.7,912.7 864.0,920.0 862.7,930.7 858.7,940.0 853.3,949.3 850.0,953.3 840.0,945.3 830.7,938.7" fill="#FFD5D5" stroke="#000" stroke-width="2.4"/>
<polygon points="933.3,964.0 920.0,962.7 912.0,964.0 904.0,966.7 888.0,968.7 881.3,970.7 880.7,977.3 882.7,982.7 890.7,986.7 896.0,996.0 894.7,1006.7 892.0,1013.3 885.3,1016.0 872.0,1016.7 857.3,1017.3 854.7,1024.0 853.3,1034.7 852.0,1046.7 845.3,1057.3 840.0,1065.3 837.3,1072.0 826.7,1073.3 818.7,1073.3 814.7,1078.7 809.3,1089.3 818.7,1093.3 832.0,1096.0 838.7,1098.7 840.0,1110.7 849.3,1109.3 849.3,1100.0 845.3,1089.3 848.0,1082.7 854.7,1081.3 861.3,1086.7 865.3,1097.3 872.0,1104.0 880.0,1102.7 886.7,1090.7 888.0,1073.3 889.3,1062.7 896.0,1061.3 902.7,1066.7 905.3,1081.3 912.0,1096.0 917.3,1093.3 922.7,1086.7 933.3,1084.0" fill="#FFD5D5" stroke="#000" stroke-width="2.4"/>
<polygon points="773.3,1153.3 774.0,1113.3 781.3,1110.7 794.7,1108.0 797.3,1118.7 794.7,1133.3 793.3,1153.3" fill="#FFD5D5" stroke="#000" stroke-width="2.4"/>
<polygon points="814.7,1153.3 818.7,1132.0 825.3,1130.0 830.7,1134.7 833.3,1153.3" fill="#FFD5D5" stroke="#000" stroke-width="2.4"/>
<polygon points="905.3,1113.3 913.3,1106.7 917.3,1113.3 912.0,1120.0" fill="#FFD5D5" stroke="#000" stroke-width="2.6"/>
<polygon points="864.0,1140.0 866.7,1124.0 873.3,1116.0 881.3,1120.0 885.3,1130.7 886.7,1153.3 864.0,1153.3" fill="#FF5555" stroke="#000" stroke-width="2.2"/>
<polygon points="870.7,1153.3 871.3,1138.7 874.7,1133.3 877.3,1138.7 878.7,1153.3" fill="#FF0000" stroke="#000" stroke-width="1.9"/>
<polygon points="872.0,908.0 873.3,900.0 875.3,900.0 876.7,908.7" fill="#000" stroke="#000" stroke-width="1.2"/>
<polygon points="896.0,933.3 898.0,932.7 898.7,934.7 896.7,935.3" fill="#000" stroke="#000" stroke-width="1.2"/>
<polyline points="680.0,938.7 686.7,942.7 693.3,946.7 700.0,948.0 702.0,956.0 702.7,966.7" fill="none" stroke="#000" stroke-width="1.02"/>
<polyline points="737.3,900.0 746.7,902.7 754.7,905.3 752.0,913.3 760.0,917.3 754.7,924.0 762.7,929.3 768.0,936.0 770.7,945.3" fill="none" stroke="#000" stroke-width="1.02"/>
<polyline points="722.7,960.0 724.0,972.0 733.3,977.3 742.7,986.7 754.7,986.7 760.0,990.7 770.7,989.3 777.3,992.0 782.7,1004.0 789.3,1002.7 797.3,1006.7 805.3,1005.3 813.3,1010.7 820.0,1010.7" fill="none" stroke="#000" stroke-width="1.02"/>
<polyline points="758.7,956.0 762.7,957.3 760.0,966.7 756.0,976.0 752.7,973.3 753.3,966.7 758.7,956.0" fill="none" stroke="#000" stroke-width="1.02"/>
<polyline points="762.7,964.0 770.7,972.0 776.0,974.7 773.3,982.7 770.7,989.3" fill="none" stroke="#000" stroke-width="1.02"/>
<polyline points="820.0,1014.7 817.3,1026.7 813.3,1040.0 810.7,1053.3 809.3,1062.7 808.0,1073.3 812.0,1078.7 805.3,1084.0 796.0,1085.3 789.3,1086.7 788.0,1092.0 785.3,1100.0 777.3,1108.0 768.0,1113.3 764.0,1126.7 766.7,1140.0" fill="none" stroke="#000" stroke-width="1.02"/>
<polyline points="826.7,1014.7 824.0,1020.0 820.0,1025.3" fill="none" stroke="#000" stroke-width="1.02"/>
<polyline points="812.0,1078.7 826.7,1073.3 840.0,1069.3 846.7,1073.3 840.0,1078.7 850.7,1078.7 864.0,1081.3 874.7,1086.7 872.0,1096.0 869.3,1105.3 880.0,1108.0 885.3,1113.3 898.7,1109.3 900.0,1120.0 890.7,1126.7 884.0,1134.7" fill="none" stroke="#000" stroke-width="1.02"/>
<polyline points="874.7,1086.7 880.0,1080.0 888.0,1082.7 893.3,1092.0 900.0,1085.3 909.3,1081.3 920.0,1089.3" fill="none" stroke="#000" stroke-width="1.02"/>
</g>
<g clip-path="url(#c1200_460)">
<rect x="1199" y="459" width="182" height="182" fill="#FFFFFF"/>
<polygon points="1311.0,458.0 1311.0,470.0 1309.5,478.0 1310.0,483.0 1313.0,486.0 1321.0,486.5 1312.0,490.0 1311.5,498.0 1315.0,503.0 1318.0,510.0 1321.0,512.0 1329.0,516.0 1332.0,519.0 1336.0,516.0 1337.0,512.0 1342.0,511.0 1344.0,515.0 1342.0,520.0 1344.0,526.0 1342.0,532.0 1338.0,538.0 1337.0,548.0 1338.5,560.0 1340.0,573.0 1338.0,580.0 1329.0,589.0 1320.0,594.0 1313.0,593.0 1305.0,588.0 1302.0,576.0 1299.0,571.0 1294.0,567.0 1288.0,563.0 1285.0,559.0 1283.0,554.0 1282.0,548.0 1272.0,552.0 1264.0,556.0 1256.0,559.0 1252.0,566.0 1246.0,576.0 1245.0,590.0 1236.0,599.0 1234.0,602.0 1234.0,644.0 1390.0,644.0 1390.0,458.0" fill="#FFAAAA" stroke="#000" stroke-width="1.32"/>
<polygon points="1265.0,477.0 1276.0,476.0 1280.0,471.0 1283.0,469.0 1287.0,472.0 1292.0,473.0 1295.0,478.0 1297.0,484.0 1294.0,482.0 1291.0,487.0 1288.0,485.0 1285.0,491.0 1280.0,492.0 1278.0,485.0 1276.0,481.0 1270.0,480.0" fill="#FFAAAA" stroke="#000" stroke-width="1.32"/>
<polygon points="1299.0,472.0 1304.0,470.0 1309.0,471.0 1310.0,474.0 1304.0,475.5 1300.0,474.5" fill="#FFD5D5" stroke="#000" stroke-width="1.32"/>
<polygon points="1312.0,486.5 1321.0,485.5 1321.5,487.5 1315.0,489.0" fill="#FFD5D5" stroke="#000" stroke-width="1.32"/>
<polygon points="1298.0,497.0 1302.0,493.0 1306.0,494.5 1308.0,498.0 1306.0,501.0 1302.0,502.0 1299.0,500.0" fill="#FFAAAA" stroke="#000" stroke-width="1.32"/>
<polygon points="1259.0,503.0 1270.0,502.0 1276.0,499.0 1285.0,497.0 1292.0,496.0 1298.0,498.0 1300.0,501.0 1305.0,504.0 1304.0,507.0 1299.0,508.0 1296.0,512.0 1290.0,517.0 1284.0,520.0 1277.0,521.0 1273.0,524.0 1272.0,530.0 1269.0,535.0 1265.0,539.0 1263.0,536.0 1267.0,529.0 1270.0,525.0 1264.0,522.0 1259.0,517.0 1260.0,514.0 1264.0,512.0 1262.0,507.0" fill="#FFAAAA" stroke="#000" stroke-width="1.32"/>
<polygon points="1260.0,504.0 1268.0,503.0 1267.0,506.0 1262.0,506.5" fill="#FFD5D5" stroke="#000" stroke-width="1.32"/>
<polyline points="1269.0,504.0 1272.0,501.0" fill="none" stroke="#000" stroke-width="3"/>
<polyline points="1304.0,507.0 1300.0,505.0" fill="none" stroke="#000" stroke-width="3"/>
<polygon points="1285.0,559.0 1294.0,567.0 1285.0,568.0" fill="#FFD5D5" stroke="#000" stroke-width="3"/>
<polygon points="1307.0,591.0 1329.0,590.0 1330.0,596.0 1323.0,599.0 1308.0,599.5" fill="#FFD5D5" stroke="#000" stroke-width="3.2"/>
<polygon points="1309.0,601.0 1316.0,602.0 1328.0,609.0 1339.0,616.0 1345.0,628.0 1348.0,644.0 1308.0,644.0 1301.0,630.0 1303.0,614.0" fill="#FFD5D5" stroke="#000" stroke-width="2.2"/>
<polyline points="1342.0,520.0 1344.0,526.0 1342.0,532.0 1339.0,536.0" fill="none" stroke="#000" stroke-width="3.2"/>
<polyline points="1300.0,573.0 1302.0,576.0 1303.0,582.0" fill="none" stroke="#000" stroke-width="3.2"/>
<polyline points="1234.5,602.0 1233.5,620.0 1232.5,630.0 1234.0,644.0" fill="none" stroke="#000" stroke-width="2.8"/>
<polyline points="1311.0,458.0 1311.0,470.0" fill="none" stroke="#000" stroke-width="2.6"/>
<polyline points="1338.0,540.0 1345.0,536.0 1356.0,532.0 1365.0,529.0 1368.0,532.0 1370.0,529.0 1380.0,538.0" fill="none" stroke="#000" stroke-width="1.02"/>
<polyline points="1240.0,640.0 1250.0,632.0 1265.0,625.0 1276.0,626.0 1285.0,629.0 1293.0,626.0 1300.0,632.0 1309.0,629.0 1316.0,628.0 1330.0,632.0 1346.0,630.0 1356.0,625.0 1362.0,636.0 1370.0,640.0" fill="none" stroke="#000" stroke-width="1.02"/>
</g>
<g clip-path="url(#c1180_1240)">
<rect x="1179" y="1239" width="202" height="202" fill="#FFFFFF"/>
<polygon points="1177.8,1237.8 1182.2,1237.8 1186.7,1243.3 1194.4,1245.6 1202.2,1255.6 1213.3,1258.9 1226.7,1262.2 1235.6,1265.6 1240.6,1274.4 1237.8,1287.8 1234.4,1298.9 1230.0,1308.9 1224.4,1309.4 1218.9,1304.4 1214.4,1295.6 1208.9,1292.8 1203.9,1295.0 1202.2,1302.2 1202.8,1317.8 1203.9,1328.9 1207.8,1333.9 1214.4,1336.1 1218.3,1340.6 1215.6,1346.7 1213.3,1354.4 1207.8,1362.2 1205.0,1366.1 1207.2,1373.3 1213.3,1380.0 1223.3,1383.3 1228.3,1385.6 1223.3,1388.9 1213.3,1391.7 1204.4,1390.6 1199.4,1386.7 1197.8,1373.3 1194.4,1363.3 1186.7,1361.1 1184.9,1360.4 1183.6,1354.2 1184.9,1348.9 1188.0,1342.7 1187.6,1336.4 1180.4,1332.9 1175.0,1330.0 1175.0,1237.8" fill="#FFD5D5" stroke="#000" stroke-width="2.2"/>
<polygon points="1234.4,1320.0 1237.8,1318.3 1242.2,1319.4 1246.7,1320.0 1253.3,1326.7 1256.7,1332.2 1255.6,1340.0 1253.3,1346.7 1242.2,1345.6 1235.6,1344.4 1235.0,1334.4" fill="#FFD5D5" stroke="#000" stroke-width="2.2"/>
<polygon points="1277.8,1237.8 1277.8,1251.1 1280.0,1262.2 1286.7,1266.7 1302.2,1270.0 1313.3,1274.4 1328.9,1275.6 1344.4,1277.8 1357.8,1274.4 1368.9,1272.2 1384.4,1273.3 1384.4,1237.8" fill="#CCFFFF" stroke="#000" stroke-width="2.2"/>
<polygon points="1384.4,1324.4 1368.9,1325.6 1357.8,1327.8 1351.1,1332.2 1346.7,1340.0 1344.4,1346.7 1335.6,1351.1 1324.4,1357.8 1311.1,1360.0 1302.2,1356.7 1297.8,1351.1 1295.6,1340.0 1291.1,1333.3 1284.4,1337.8 1274.4,1344.4 1265.6,1351.1 1262.2,1357.8 1262.2,1367.8 1264.4,1376.7 1271.1,1384.4 1277.8,1388.9 1285.6,1390.0 1292.2,1386.7 1300.0,1385.6 1301.1,1395.6 1305.6,1401.1 1311.1,1402.2 1317.8,1397.8 1324.4,1395.6 1318.9,1384.4 1320.0,1381.1 1328.9,1382.2 1335.6,1378.9 1340.0,1373.3 1348.9,1374.4 1357.8,1371.1 1368.9,1373.3 1384.4,1375.6" fill="#CCFFFF" stroke="#000" stroke-width="2.2"/>
<polygon points="1235.6,1392.2 1242.2,1388.9 1248.9,1391.1 1251.1,1397.8 1247.8,1404.4 1241.1,1405.6 1235.6,1401.1" fill="#CCFFFF" stroke="#000" stroke-width="2.6"/>
<polygon points="1260.0,1415.6 1268.9,1408.9 1277.8,1404.4 1282.2,1406.7 1283.3,1413.3 1286.7,1420.0 1291.1,1428.9 1293.3,1435.6 1295.6,1444.4 1262.2,1444.4 1257.8,1428.9" fill="#CCFFFF" stroke="#000" stroke-width="2.2"/>
<polygon points="1344.4,1381.1 1348.9,1378.9 1351.7,1383.3 1348.9,1387.8 1345.6,1386.7" fill="#CCFFFF" stroke="#000" stroke-width="1.44"/>
<polygon points="1337.8,1403.3 1333.3,1397.8 1324.4,1395.6 1320.0,1396.7 1335.6,1400.0 1340.0,1405.6" fill="#CCFFFF" stroke="#000" stroke-width="1.32"/>
<polyline points="1278.9,1288.9 1277.8,1282.2 1282.2,1277.8 1291.1,1276.1 1313.3,1278.9 1335.6,1282.2 1357.8,1284.4 1384.4,1288.9" fill="none" stroke="#000" stroke-width="3.6"/>
<polyline points="1384.4,1311.1 1357.8,1315.6 1343.3,1318.9 1340.0,1328.9 1335.6,1340.0 1327.8,1346.7 1320.0,1347.8 1311.1,1343.3 1302.2,1334.4 1293.3,1323.3 1285.6,1308.9 1280.0,1297.8 1278.9,1288.9" fill="none" stroke="#000" stroke-width="3.6"/>
<polygon points="1292.2,1293.3 1305.6,1291.1 1307.8,1294.4 1313.3,1288.9 1324.4,1287.8 1346.7,1288.9 1368.9,1292.2 1384.4,1293.3 1384.4,1302.2 1368.9,1305.6 1353.3,1308.9 1335.6,1312.2 1332.2,1317.8 1330.0,1332.2 1323.3,1338.9 1312.2,1337.8 1303.3,1328.9 1297.8,1317.8 1294.4,1306.7" fill="#FFD5D5" stroke="#000" stroke-width="2"/>
<polygon points="1306.7,1318.9 1314.4,1312.2 1321.1,1317.8 1322.2,1324.4 1314.4,1327.8 1308.9,1324.4" fill="#FFAAAA" stroke="#000" stroke-width="2"/>
<polyline points="1276.7,1237.8 1272.2,1251.1 1267.8,1262.2 1262.2,1268.9 1253.3,1273.3 1248.9,1282.2 1247.8,1291.1 1251.1,1300.0 1260.0,1304.4 1261.7,1315.6 1263.3,1326.7 1265.6,1335.6 1262.2,1343.3 1251.1,1352.2 1240.0,1360.0 1236.7,1364.4 1240.0,1372.2 1242.2,1374.4 1236.7,1380.0 1231.1,1393.3 1226.7,1406.7 1222.2,1424.4 1233.3,1427.8 1240.0,1431.1 1244.4,1444.4" fill="none" stroke="#000" stroke-width="3.6"/>
<polygon points="1218.3,1244.4 1223.3,1243.3 1228.9,1244.4 1230.6,1247.2 1227.8,1250.0 1222.2,1250.6 1218.3,1248.3" fill="#000" stroke="#000" stroke-width="1.2"/>
<polygon points="1252.2,1237.8 1257.8,1244.4 1264.4,1237.8" fill="#FFD5D5" stroke="#000" stroke-width="1.44"/>
<polyline points="1180.0,1393.3 1184.4,1397.8 1191.1,1403.3 1200.0,1408.9 1206.7,1413.3 1212.2,1411.1 1211.1,1417.8 1213.3,1422.2 1202.2,1425.6 1194.4,1422.2 1190.0,1424.4 1194.4,1431.1 1202.2,1437.8 1207.8,1444.4" fill="none" stroke="#000" stroke-width="1.2"/>
<polyline points="1291.1,1387.8 1295.6,1390.0 1300.0,1397.8 1306.7,1403.3 1313.3,1413.3 1317.8,1415.6 1311.1,1406.7 1308.9,1403.3 1317.8,1397.8" fill="none" stroke="#000" stroke-width="1.2"/>
<polygon points="1305.6,1403.3 1310.0,1408.9 1317.8,1415.6 1313.3,1414.4 1307.8,1410.0" fill="#000" stroke="#000" stroke-width="1.2"/>
<polygon points="1318.9,1400.0 1324.4,1404.4 1327.8,1411.1 1324.4,1413.3 1320.0,1406.7" fill="#000" stroke="#000" stroke-width="1.2"/>
<polygon points="1373.3,1391.7 1384.4,1390.6 1384.4,1395.0 1373.3,1395.3" fill="#000" stroke="#000" stroke-width="1.2"/>
<polyline points="1360.0,1413.3 1372.2,1411.7 1368.9,1420.0 1362.2,1418.9 1360.0,1413.3" fill="none" stroke="#000" stroke-width="1.2"/>
<polyline points="1260.0,1315.6 1268.9,1314.4 1276.7,1312.2 1281.1,1310.0" fill="none" stroke="#000" stroke-width="1.02"/>
<polyline points="1276.7,1312.2 1280.0,1320.0 1288.9,1327.8 1291.1,1332.2" fill="none" stroke="#000" stroke-width="1.02"/>
<polyline points="1280.0,1290.0 1286.7,1288.9 1291.1,1284.4 1295.6,1280.0" fill="none" stroke="#000" stroke-width="1.02"/>
<polyline points="1224.4,1324.4 1233.3,1322.2 1242.2,1320.0 1255.6,1317.8 1260.0,1315.6" fill="none" stroke="#000" stroke-width="1.02"/>
<polyline points="1218.9,1334.4 1224.4,1333.3 1225.6,1325.6 1224.4,1324.4" fill="none" stroke="#000" stroke-width="1.02"/>
<polyline points="1202.2,1305.6 1208.9,1314.4 1216.7,1317.8 1220.0,1328.9 1218.9,1334.4" fill="none" stroke="#000" stroke-width="1.02"/>
<polyline points="1216.7,1357.8 1220.0,1364.4 1224.4,1373.3 1232.2,1375.6 1242.2,1373.3 1252.2,1375.6 1257.8,1372.2 1261.1,1364.4" fill="none" stroke="#000" stroke-width="1.02"/>
<polyline points="1262.2,1364.4 1274.4,1362.2 1286.7,1363.3 1288.9,1356.7 1294.4,1355.6 1295.6,1340.0" fill="none" stroke="#000" stroke-width="1.02"/>
<polyline points="1302.2,1355.6 1313.3,1353.3 1324.4,1351.1 1331.1,1347.8 1342.2,1346.7" fill="none" stroke="#000" stroke-width="1.02"/>
<polyline points="1180.0,1317.8 1186.7,1308.9 1193.3,1302.2 1194.4,1306.7 1202.2,1304.4" fill="none" stroke="#000" stroke-width="1.02"/>
<polyline points="1205.6,1365.6 1216.7,1357.8 1214.4,1346.7" fill="none" stroke="#000" stroke-width="1.02"/>
<polyline points="1224.4,1394.4 1222.2,1406.7 1213.3,1413.3" fill="none" stroke="#000" stroke-width="1.02"/>
<polyline points="1291.1,1242.2 1298.9,1250.0 1313.3,1252.2 1334.4,1256.7 1344.4,1253.3 1357.8,1255.6 1371.1,1258.9 1384.4,1256.7" fill="none" stroke="#000" stroke-width="1.02"/>
<polyline points="1283.3,1393.3 1284.4,1406.7 1291.1,1422.2 1293.3,1435.6" fill="none" stroke="#000" stroke-width="1.02"/>
</g>
<g clip-path="url(#c960_1140)">
<rect x="959" y="1139" width="182" height="182" fill="#FFD5D5"/>
<polygon points="958.0,1138.0 1043.0,1138.0 1040.0,1143.0 1030.0,1146.0 1016.0,1147.0 1006.0,1149.0 1004.5,1160.0 1003.5,1165.0 998.0,1164.0 993.0,1167.0 985.0,1164.0 982.0,1169.0 970.0,1171.0 960.0,1175.0 958.0,1176.0" fill="#FFAAAA" stroke="#000" stroke-width="1.32"/>
<polygon points="958.0,1228.0 960.0,1229.0 970.0,1243.0 980.0,1250.0 990.0,1255.0 1000.0,1261.0 1003.0,1270.0 1007.0,1280.0 1010.0,1290.0 1014.0,1300.0 1022.0,1310.0 1030.0,1319.0 1032.0,1324.0 958.0,1324.0" fill="#FFAAAA" stroke="#000" stroke-width="1.32"/>
<polyline points="1043.0,1138.0 1040.0,1143.0 1030.0,1146.0 1016.0,1147.0 1006.0,1149.0 1004.5,1160.0 1003.5,1165.0" fill="none" stroke="#000" stroke-width="2.2"/>
<polygon points="958.0,1176.0 960.0,1175.0 970.0,1171.0 982.0,1169.0 985.0,1164.0 993.0,1167.0 998.0,1164.0 1003.5,1165.0 1004.0,1172.0 998.0,1175.0 1000.0,1190.0 1005.0,1200.0 1009.0,1208.0 1012.0,1202.0 1016.0,1199.0 1020.0,1188.0 1021.0,1184.0 1026.0,1183.0 1034.0,1188.0 1039.0,1194.0 1040.0,1199.0 1039.0,1208.0 1043.0,1214.0 1048.0,1223.0 1054.0,1230.0 1060.0,1238.0 1064.0,1246.0 1070.0,1252.0 1074.0,1255.0 1073.0,1260.0 1078.0,1264.0 1086.0,1261.0 1093.0,1264.0 1102.0,1269.0 1110.0,1275.0 1116.0,1282.0 1124.0,1287.0 1132.0,1294.0 1144.0,1301.0 1144.0,1324.0 1032.0,1324.0 1030.0,1319.0 1022.0,1310.0 1014.0,1300.0 1010.0,1290.0 1007.0,1280.0 1003.0,1270.0 1000.0,1261.0 990.0,1255.0 980.0,1250.0 970.0,1243.0 960.0,1229.0 958.0,1228.0" fill="#FFFFFF" stroke="#000" stroke-width="1.32"/>
<polygon points="997.0,1175.0 1004.0,1173.0 1011.0,1175.0 1017.0,1178.0 1018.0,1188.0 1016.0,1199.0 1012.0,1202.0 1005.5,1201.0 1000.0,1190.0 998.0,1182.0" fill="#FFAAAA" stroke="#000" stroke-width="2.2"/>
<polygon points="1005.5,1201.0 1012.0,1201.8 1009.0,1208.0" fill="#FFD5D5" stroke="#000" stroke-width="1.32"/>
<polygon points="1021.0,1190.0 1024.0,1191.0 1026.0,1200.0 1028.0,1212.0 1025.0,1213.0 1023.0,1204.0" fill="#FFD5D5" stroke="#000" stroke-width="1.32"/>
<polygon points="1028.0,1188.0 1032.0,1187.0 1037.0,1196.0 1036.0,1200.0 1031.0,1197.0" fill="#FFD5D5" stroke="#000" stroke-width="1.32"/>
<polygon points="1040.0,1199.0 1045.0,1197.5 1055.0,1199.0 1068.0,1201.5 1080.0,1206.0 1100.0,1209.0 1112.0,1220.0 1114.0,1226.0 1117.0,1235.0 1108.0,1239.0 1094.0,1246.0 1089.0,1251.0 1080.0,1253.0 1073.0,1249.0 1065.0,1247.0 1060.0,1238.0 1054.0,1230.0 1048.0,1223.0 1043.0,1214.0 1039.0,1208.0" fill="#FFAAAA" stroke="#000" stroke-width="2.6"/>
<polyline points="1036.0,1212.0 1040.0,1215.0 1047.0,1223.0 1054.0,1229.0 1050.0,1228.0 1043.0,1222.0 1036.0,1212.0" fill="none" stroke="#000" stroke-width="1.6"/>
<polyline points="1039.0,1235.0 1043.0,1238.0 1050.0,1246.0 1048.0,1247.0 1042.0,1240.0 1039.0,1235.0" fill="none" stroke="#000" stroke-width="1.3"/>
<polyline points="1023.0,1212.0 1026.0,1216.0 1029.0,1221.0" fill="none" stroke="#000" stroke-width="2"/>
<polygon points="1089.0,1270.0 1100.0,1269.0 1102.0,1273.0 1092.0,1274.0" fill="#FFD5D5" stroke="#000" stroke-width="1.32"/>
<polygon points="1088.0,1277.0 1100.0,1278.5 1108.0,1280.0 1100.0,1280.0 1089.0,1278.5" fill="#FFD5D5" stroke="#000" stroke-width="1.32"/>
<polygon points="1077.0,1282.5 1082.0,1282.0 1081.5,1285.0 1077.0,1285.0" fill="#FFD5D5" stroke="#000" stroke-width="1.32"/>
<polygon points="1095.0,1287.0 1108.0,1288.0 1110.0,1290.0 1098.0,1289.5" fill="#FFD5D5" stroke="#000" stroke-width="1.32"/>
<polygon points="1108.0,1284.0 1116.0,1285.0 1124.0,1288.0 1116.0,1287.0" fill="#FFD5D5" stroke="#000" stroke-width="1.32"/>
<polygon points="1117.0,1295.0 1129.0,1297.5 1129.0,1299.0 1118.0,1296.5" fill="#FFD5D5" stroke="#000" stroke-width="1.32"/>
<polygon points="962.0,1324.0 964.0,1296.0 968.0,1288.0 978.0,1283.0 990.0,1283.0 1000.0,1287.0 1005.0,1296.0 1006.0,1310.0 1003.0,1324.0" fill="#FF5555" stroke="#000" stroke-width="2.2"/>
<polygon points="972.0,1324.0 973.0,1305.0 978.0,1298.0 988.0,1297.0 994.0,1302.0 995.0,1312.0 992.0,1324.0" fill="#FF0000" stroke="#000" stroke-width="2"/>
<polyline points="962.0,1244.0 964.0,1243.0 965.0,1245.0 963.0,1246.5 962.0,1244.0" fill="none" stroke="#000" stroke-width="1.3"/>
<polygon points="967.5,1258.0 970.0,1256.0 972.5,1258.0 970.0,1263.0 968.0,1262.0" fill="#000" stroke="#000" stroke-width="1.2"/>
<polygon points="968.5,1258.5 970.0,1257.5 970.5,1259.5 969.5,1260.5" fill="#FFFFFF" stroke="#000" stroke-width="0.6"/>
<polygon points="958.0,1197.5 964.0,1199.0 963.0,1205.0 958.0,1206.5" fill="#FFFFFF" stroke="#000" stroke-width="2.6"/>
<polyline points="1007.0,1169.0 1016.0,1175.0 1026.0,1174.0 1030.0,1169.0 1036.0,1175.0 1048.0,1178.0 1052.0,1174.0 1055.0,1166.0 1064.0,1160.0 1066.0,1150.0 1063.0,1145.0 1070.0,1138.0" fill="none" stroke="#000" stroke-width="1.02"/>
<polyline points="1067.0,1200.0 1067.5,1192.0 1072.0,1188.5 1078.0,1191.0 1084.0,1198.0 1090.0,1190.0 1104.0,1186.5 1116.0,1191.0 1134.0,1195.0 1144.0,1192.0" fill="none" stroke="#000" stroke-width="1.02"/>
<polyline points="1067.0,1204.0 1075.0,1212.0 1080.0,1223.0 1081.0,1233.0 1088.0,1239.0 1094.0,1246.0 1102.0,1255.0 1110.0,1263.0 1116.0,1269.0 1117.0,1275.0 1125.0,1283.0 1126.0,1286.0" fill="none" stroke="#000" stroke-width="1.02"/>
<polyline points="1104.0,1140.0 1110.0,1146.0 1116.0,1154.0 1126.0,1158.0 1134.0,1161.0 1144.0,1161.5" fill="none" stroke="#000" stroke-width="1.02"/>
<polyline points="993.0,1140.0 998.0,1144.0 996.0,1150.0 1000.0,1154.0 998.0,1160.0 1004.0,1164.0" fill="none" stroke="#000" stroke-width="1.02"/>
</g>
</g>
<g clip-path="url(#frame)"><g filter="url(#nf)">
<text class="c" x="303" y="277" font-size="20" textLength="98" lengthAdjust="spacingAndGlyphs">FAROE IS.</text>
<text class="c" x="820" y="401" font-size="20" textLength="92" lengthAdjust="spacingAndGlyphs">NORWAY</text>
<text class="c" x="981" y="428" font-size="20" textLength="88" lengthAdjust="spacingAndGlyphs">SWEDEN</text>
<text class="c" x="1298" y="353" font-size="20" textLength="90" lengthAdjust="spacingAndGlyphs">FINLAND</text>
<text class="c" x="1340" y="498" font-size="20" textLength="90" lengthAdjust="spacingAndGlyphs">ESTONIA</text>
<text class="c" x="1344" y="603" font-size="20" textLength="73" lengthAdjust="spacingAndGlyphs">LATVIA</text>
<text class="c" x="1279" y="687" font-size="20" textLength="112" lengthAdjust="spacingAndGlyphs">LITHUANIA</text>
<text class="c" x="1432" y="785" font-size="20" textLength="94" lengthAdjust="spacingAndGlyphs">BELARUS</text>
<text class="c" x="281" y="822" font-size="20" textLength="90" lengthAdjust="spacingAndGlyphs">IRELAND</text>
<text class="c" x="499" y="854.5" font-size="24" textLength="94.5" lengthAdjust="spacingAndGlyphs">England</text>
<text class="c" x="734" y="866" font-size="20" textLength="60" lengthAdjust="spacingAndGlyphs">NETH.</text>
<text class="c" x="844" y="647" font-size="20" textLength="39" lengthAdjust="spacingAndGlyphs">DEN.</text>
<text class="c" x="856" y="893" font-size="20" textLength="105" lengthAdjust="spacingAndGlyphs">GERMANY</text>
<text class="c" x="1147" y="865" font-size="20" textLength="85" lengthAdjust="spacingAndGlyphs">POLAND</text>
<text class="c" x="1230" y="728" font-size="25" textLength="42" lengthAdjust="spacingAndGlyphs">Kal.</text>
<text class="c" x="690" y="931" font-size="20" textLength="41" lengthAdjust="spacingAndGlyphs">BEL.</text>
<text class="c" x="597" y="1096" font-size="20" textLength="80" lengthAdjust="spacingAndGlyphs">FRANCE</text>
<text class="c" x="796" y="1123" font-size="20" textLength="68" lengthAdjust="spacingAndGlyphs">SWITZ.</text>
<text class="c" x="993" y="975" font-size="20" textLength="87" lengthAdjust="spacingAndGlyphs">CZECHIA</text>
<text class="c" x="1014" y="1090" font-size="20" textLength="47" lengthAdjust="spacingAndGlyphs">AUS.</text>
<text class="c" x="1005" y="1156" font-size="20" textLength="55" lengthAdjust="spacingAndGlyphs">SLOV.</text>
<text class="c" x="1079" y="1181" font-size="20" textLength="47" lengthAdjust="spacingAndGlyphs">CRO.</text>
<text class="c" x="1090" y="1222" font-size="20" textLength="79" lengthAdjust="spacingAndGlyphs">BOSNIA</text>
<text class="c" x="1163" y="1025" font-size="20" textLength="87" lengthAdjust="spacingAndGlyphs">SLOVAK.</text>
<text class="c" x="1150" y="1109" font-size="20" textLength="66" lengthAdjust="spacingAndGlyphs">HUNG.</text>
<text class="c" x="1193" y="1275" font-size="20" textLength="73" lengthAdjust="spacingAndGlyphs">SERBIA</text>
<text class="c" x="1513" y="1015" font-size="20" textLength="95" lengthAdjust="spacingAndGlyphs">UKRAINE</text>
<text class="c" x="1438" y="1080" font-size="20" textLength="52" lengthAdjust="spacingAndGlyphs">MOL.</text>
<text class="c" x="1307" y="1171" font-size="20" textLength="105" lengthAdjust="spacingAndGlyphs">ROMANIA</text>
<text class="c" x="1337" y="1301" font-size="20" textLength="59" lengthAdjust="spacingAndGlyphs">BULG.</text>
<text class="c" x="434" y="1400" font-size="20" textLength="60" lengthAdjust="spacingAndGlyphs">SPAIN</text>
<text class="c" x="285" y="1447" font-size="20" textLength="62" lengthAdjust="spacingAndGlyphs">PORT.</text>
<text class="c" x="940" y="1300" font-size="20" textLength="56" lengthAdjust="spacingAndGlyphs">ITALY</text>
<text class="c" x="990" y="1584" font-size="20" textLength="72" lengthAdjust="spacingAndGlyphs">MALTA</text>
<text class="c" x="1180" y="1386" font-size="20" textLength="46" lengthAdjust="spacingAndGlyphs">ALB.</text>
<text class="c" x="1223" y="1352" font-size="20" textLength="65" lengthAdjust="spacingAndGlyphs">MACE.</text>
<text class="c" x="1225" y="1448" font-size="20" textLength="80" lengthAdjust="spacingAndGlyphs">GREECE</text>
<text class="c" x="1535" y="461" font-size="17" textLength="133" lengthAdjust="spacingAndGlyphs">Northwestern</text>
<text class="c" x="1551" y="492" font-size="17" textLength="67" lengthAdjust="spacingAndGlyphs">District</text>
<text class="s" x="663" y="663" font-size="21" textLength="58" lengthAdjust="spacingAndGlyphs">North</text>
<text class="s" x="674" y="692" font-size="21" textLength="36" lengthAdjust="spacingAndGlyphs">Sea</text>
<text class="s" x="1136" y="637" font-size="21" textLength="56" lengthAdjust="spacingAndGlyphs">Baltic</text>
<text class="s" x="1146" y="666" font-size="21" textLength="36" lengthAdjust="spacingAndGlyphs">Sea</text>
<text class="s" x="275" y="1085" font-size="21" textLength="99" lengthAdjust="spacingAndGlyphs">ATLANTIC</text>
<text class="s" x="290" y="1114" font-size="21" textLength="69" lengthAdjust="spacingAndGlyphs">OCEAN</text>
<text class="s" x="642" y="1497" font-size="21" textLength="188" lengthAdjust="spacingAndGlyphs">Mediterranean Sea</text>
<text class="s" x="1586" y="1244" font-size="21" textLength="54" lengthAdjust="spacingAndGlyphs">Black</text>
</g></g>
<rect x="200" y="200" width="1400" height="1400" fill="none" stroke="#000" stroke-width="2.5"/>
<g filter="url(#nf)"><rect x="1618.9" y="254.2" width="37.4" height="142" rx="1.8" fill="#FF0000" stroke="#444" stroke-width="1.4"/>
<rect x="1618.9" y="404.2" width="37.4" height="142" rx="1.8" fill="#FF5555" stroke="#444" stroke-width="1.4"/>
<rect x="1618.9" y="554.2" width="37.4" height="142" rx="1.8" fill="#FFAAAA" stroke="#444" stroke-width="1.4"/>
<rect x="1618.9" y="704.2" width="37.4" height="142" rx="1.8" fill="#FFD5D5" stroke="#444" stroke-width="1.4"/>
<rect x="1618.9" y="854.2" width="37.4" height="142" rx="1.8" fill="#FFFFFF" stroke="#444" stroke-width="1.4"/>
<rect x="1618.9" y="1004.2" width="37.4" height="142" rx="1.8" fill="#CCFFFF" stroke="#444" stroke-width="1.4"/>
<rect x="1618.9" y="1154.2" width="37.4" height="142" rx="1.8" fill="#66FFFF" stroke="#444" stroke-width="1.4"/>
<rect x="1618.9" y="1304.2" width="37.4" height="142" rx="1.8" fill="#55AAFF" stroke="#444" stroke-width="1.4"/>
<rect x="1618.9" y="1454.2" width="37.4" height="142" rx="1.8" fill="#0080FF" stroke="#444" stroke-width="1.4"/>
<text class="t" x="1678" y="416" font-size="39.5" textLength="50" lengthAdjust="spacingAndGlyphs">+7</text>
<text class="t" x="1678" y="566" font-size="39.5" textLength="50" lengthAdjust="spacingAndGlyphs">+5</text>
<text class="t" x="1678" y="716" font-size="39.5" textLength="50" lengthAdjust="spacingAndGlyphs">+3</text>
<text class="t" x="1678" y="866" font-size="39.5" textLength="50" lengthAdjust="spacingAndGlyphs">+1</text>
<text class="t" x="1685" y="1016" font-size="39.5" textLength="35" lengthAdjust="spacingAndGlyphs">-1</text>
<text class="t" x="1685" y="1166" font-size="39.5" textLength="35" lengthAdjust="spacingAndGlyphs">-3</text>
<text class="t" x="1685" y="1316" font-size="39.5" textLength="35" lengthAdjust="spacingAndGlyphs">-5</text>
<text class="t" x="1685" y="1466" font-size="39.5" textLength="35" lengthAdjust="spacingAndGlyphs">-7</text>
<text class="t" x="1180.5" y="1659.7" font-size="21.6" textLength="409.6" lengthAdjust="spacingAndGlyphs">CLIMATE PREDICTION CENTER, NOAA</text>
<text class="t" x="1180.5" y="1685.3" font-size="21.6" textLength="294" lengthAdjust="spacingAndGlyphs">Computer generated contours</text>
<text class="t" x="1180.5" y="1710.9" font-size="21.6" textLength="257" lengthAdjust="spacingAndGlyphs">Based on preliminary data</text>
<g transform="translate(1610,1610) scale(0.1)">
<path d="M248,435 A802,802 0 0 1 1530,412 C1440,440 1370,520 1300,640 C1230,790 1150,920 1070,1010 C1030,1040 980,1048 920,1048 C850,1030 760,960 660,850 C560,700 450,560 340,470 C300,445 270,437 248,435 Z" fill="#003087"/>
<path d="M130,680 C180,690 250,750 340,850 C450,950 560,1020 680,1070 C760,1092 820,1102 860,1105 C800,1140 720,1170 640,1190 C660,1215 700,1228 780,1232 C880,1205 1000,1140 1100,1100 C1160,1088 1220,1083 1260,1082 C1250,1058 1230,1048 1180,1045 L1070,1048 C1180,1000 1300,900 1420,760 C1480,690 1560,590 1615,548 A802,802 0 1 1 130,680 Z" fill="#0085CA"/>
<g fill="#fff" fill-rule="evenodd">
<path d="M578,620 V430 Q578,410 598,410 H690 Q712,410 712,432 V620 H662 V458 H628 V620 Z"/>
<path d="M740,432 Q740,410 762,410 H858 Q880,410 880,432 V598 Q880,620 858,620 H762 Q740,620 740,598 Z M790,460 V572 H832 V460 Z"/>
<path d="M905,620 V432 Q905,410 927,410 H1028 Q1050,410 1050,432 V620 H1000 V560 H955 V620 Z M955,458 V516 H1000 V458 Z"/>
<path d="M1078,620 V432 Q1078,410 1100,410 H1201 Q1223,410 1223,432 V620 H1173 V560 H1128 V620 Z M1128,458 V516 H1173 V458 Z"/>
</g>
</g></g>
</svg>
</body></html>
